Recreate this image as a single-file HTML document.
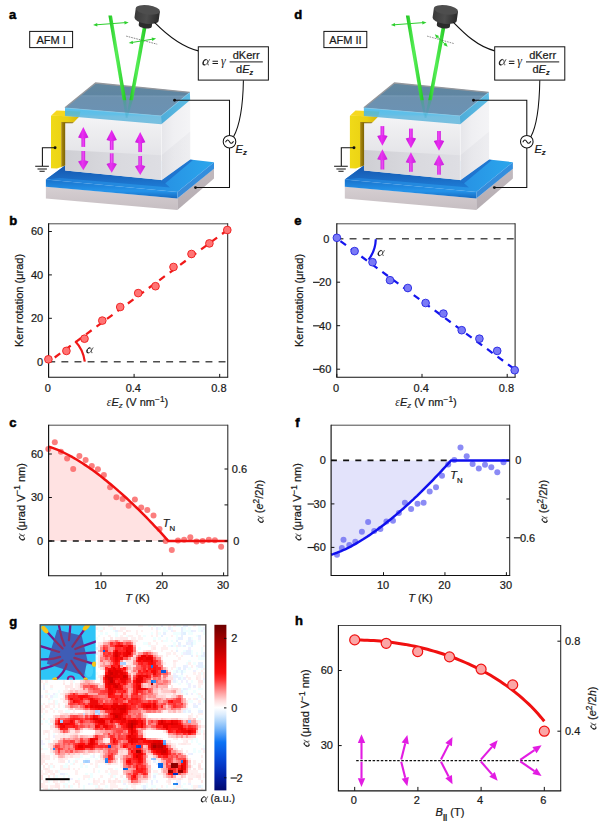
<!DOCTYPE html>
<html><head><meta charset="utf-8"><title>Figure</title>
<style>
html,body{margin:0;padding:0;background:#fff;}
svg{display:block;}
text{stroke:#1a1a1a;stroke-width:0.22px;}
text.pl{stroke:#000;stroke-width:0.5px;}
.gk{stroke:none;}
</style></head>
<body>
<svg width="611" height="827" viewBox="0 0 611 827" font-family='"Liberation Sans", sans-serif'>
<rect width="611" height="827" fill="#fff"/>
<text x="9.3" y="224.9" font-size="13" text-anchor="start" font-weight="bold" font-style="normal" font-family='"Liberation Sans", sans-serif' fill="#000" class="pl">b</text>
<path d="M48.6,361.7H227.7" stroke="#4d4d4d" stroke-width="1.5" stroke-dasharray="6.9 6.2" stroke-dashoffset="0.3" fill="none"/>
<path d="M48.5,362.1L227.4,230.0" stroke="#f01818" stroke-width="2.25" stroke-dasharray="6.9 6.1" stroke-dashoffset="5.3" fill="none"/>
<path d="M75.2,341.3Q83.2,349.5 84.8,361.7" stroke="#f01818" stroke-width="2.2" fill="none"/>
<path d="M48.6,223.8H227.7" fill="none" stroke="#4a4a4a" stroke-width="1"/>
<path d="M227.7,223.3V377.2" fill="none" stroke="#262626" stroke-width="1.05"/>
<path d="M48.6,223.3V377.2H228.2" fill="none" stroke="#111" stroke-width="1.15"/>
<path d="M48.6,361.7h3.3" stroke="#111" stroke-width="1"/>
<path d="M48.6,318.3h3.3" stroke="#111" stroke-width="1"/>
<path d="M48.6,274.9h3.3" stroke="#111" stroke-width="1"/>
<path d="M48.6,231.5h3.3" stroke="#111" stroke-width="1"/>
<path d="M48.5,377.2v-3.3" stroke="#111" stroke-width="1"/>
<path d="M134.10000000000002,377.2v-3.3" stroke="#111" stroke-width="1"/>
<path d="M219.70000000000002,377.2v-3.3" stroke="#111" stroke-width="1"/>
<circle cx="48.4" cy="359.3" r="3.85" fill="#ff7474" stroke="#ee1c1c" stroke-width="0.9"/>
<circle cx="66.4" cy="350.9" r="3.85" fill="#ff7474" stroke="#ee1c1c" stroke-width="0.9"/>
<circle cx="84.5" cy="338.7" r="3.85" fill="#ff7474" stroke="#ee1c1c" stroke-width="0.9"/>
<circle cx="102.3" cy="320.6" r="3.85" fill="#ff7474" stroke="#ee1c1c" stroke-width="0.9"/>
<circle cx="120.2" cy="307" r="3.85" fill="#ff7474" stroke="#ee1c1c" stroke-width="0.9"/>
<circle cx="138.2" cy="293.1" r="3.85" fill="#ff7474" stroke="#ee1c1c" stroke-width="0.9"/>
<circle cx="155.5" cy="286.2" r="3.85" fill="#ff7474" stroke="#ee1c1c" stroke-width="0.9"/>
<circle cx="173.5" cy="267" r="3.85" fill="#ff7474" stroke="#ee1c1c" stroke-width="0.9"/>
<circle cx="191.5" cy="254" r="3.85" fill="#ff7474" stroke="#ee1c1c" stroke-width="0.9"/>
<circle cx="209.4" cy="243.4" r="3.85" fill="#ff7474" stroke="#ee1c1c" stroke-width="0.9"/>
<circle cx="227.3" cy="230" r="3.85" fill="#ff7474" stroke="#ee1c1c" stroke-width="0.9"/>
<text x="43.2" y="365.5" font-size="11" text-anchor="end" font-weight="normal" font-style="normal" font-family='"Liberation Sans", sans-serif' fill="#1a1a1a" >0</text>
<text x="43.2" y="322.1" font-size="11" text-anchor="end" font-weight="normal" font-style="normal" font-family='"Liberation Sans", sans-serif' fill="#1a1a1a" >20</text>
<text x="43.2" y="278.7" font-size="11" text-anchor="end" font-weight="normal" font-style="normal" font-family='"Liberation Sans", sans-serif' fill="#1a1a1a" >40</text>
<text x="43.2" y="235.3" font-size="11" text-anchor="end" font-weight="normal" font-style="normal" font-family='"Liberation Sans", sans-serif' fill="#1a1a1a" >60</text>
<text x="47.7" y="391.5" font-size="11" text-anchor="middle" font-weight="normal" font-style="normal" font-family='"Liberation Sans", sans-serif' fill="#1a1a1a" >0</text>
<text x="133.3" y="391.5" font-size="11" text-anchor="middle" font-weight="normal" font-style="normal" font-family='"Liberation Sans", sans-serif' fill="#1a1a1a" >0.4</text>
<text x="218.9" y="391.5" font-size="11" text-anchor="middle" font-weight="normal" font-style="normal" font-family='"Liberation Sans", sans-serif' fill="#1a1a1a" >0.8</text>
<text transform="translate(23.2,300.5) rotate(-90)" font-size="11" text-anchor="middle" font-family='"Liberation Sans", sans-serif' fill="#1a1a1a" >Kerr rotation (μrad)</text>
<text x="137.5" y="405.8" font-size="11" text-anchor="middle" font-family='"Liberation Sans", sans-serif' fill="#1a1a1a"><tspan font-family='"Liberation Serif", serif' font-style="italic" font-size="11.5" class="gk">ε</tspan><tspan font-style="italic">E</tspan><tspan font-style="italic" font-size="7.8" dy="2.2">z</tspan><tspan dy="-2.2"> (V nm</tspan><tspan font-size="8.3" dy="-4.2">−1</tspan><tspan dy="4.2">)</tspan></text>
<g transform="translate(86.5,352.9) scale(0.94) skewX(-13) translate(-0.55,0)"><path d="M6.25,-5.45 C5.6,-2.6 4.2,0.1 2.45,0.1 C1.0,0.1 0.3,-1.0 0.3,-2.55 C0.3,-4.3 1.35,-5.6 2.8,-5.6 C4.6,-5.6 5.1,-2.7 5.45,-1.0 C5.6,-0.25 5.9,0.1 6.5,-0.15" fill="none" stroke="#1a1a1a" stroke-width="0.66" stroke-linecap="round"/><path d="M0.62,-2.6 C0.62,-4.1 1.5,-5.25 2.7,-5.25" fill="none" stroke="#1a1a1a" stroke-width="0.95" stroke-linecap="round"/><path d="M0.62,-2.6 C0.62,-1.2 1.3,-0.25 2.4,-0.25" fill="none" stroke="#1a1a1a" stroke-width="1.0" stroke-linecap="round"/></g>
<text x="294.3" y="224.9" font-size="13" text-anchor="start" font-weight="bold" font-style="normal" font-family='"Liberation Sans", sans-serif' fill="#000" class="pl">e</text>
<path d="M336.8,238.7H515.1" stroke="#4d4d4d" stroke-width="1.5" stroke-dasharray="6.9 6.2" stroke-dashoffset="0.3" fill="none"/>
<path d="M336.9,238.5L514.7,369.3" stroke="#1515ee" stroke-width="2.25" stroke-dasharray="6.9 6.1" stroke-dashoffset="-4.4" fill="none"/>
<path d="M375.8,239.2Q375.4,250.8 368.6,259.6" stroke="#1515ee" stroke-width="2.2" fill="none"/>
<path d="M336.8,223.8H515.1" fill="none" stroke="#4a4a4a" stroke-width="1"/>
<path d="M515.1,223.3V377.2" fill="none" stroke="#262626" stroke-width="1.05"/>
<path d="M336.8,223.3V377.2H515.6" fill="none" stroke="#111" stroke-width="1.15"/>
<path d="M336.8,238.7h3.3" stroke="#111" stroke-width="1"/>
<path d="M336.8,282.2h3.3" stroke="#111" stroke-width="1"/>
<path d="M336.8,325.7h3.3" stroke="#111" stroke-width="1"/>
<path d="M336.8,369.2h3.3" stroke="#111" stroke-width="1"/>
<path d="M336.8,377.2v-3.3" stroke="#111" stroke-width="1"/>
<path d="M422.0,377.2v-3.3" stroke="#111" stroke-width="1"/>
<path d="M507.20000000000005,377.2v-3.3" stroke="#111" stroke-width="1"/>
<circle cx="336.9" cy="237.8" r="3.85" fill="#7a7af6" stroke="#2626e2" stroke-width="0.9"/>
<circle cx="354.6" cy="251.1" r="3.85" fill="#7a7af6" stroke="#2626e2" stroke-width="0.9"/>
<circle cx="372.5" cy="262.2" r="3.85" fill="#7a7af6" stroke="#2626e2" stroke-width="0.9"/>
<circle cx="390" cy="280.2" r="3.85" fill="#7a7af6" stroke="#2626e2" stroke-width="0.9"/>
<circle cx="407.8" cy="288" r="3.85" fill="#7a7af6" stroke="#2626e2" stroke-width="0.9"/>
<circle cx="425.6" cy="303" r="3.85" fill="#7a7af6" stroke="#2626e2" stroke-width="0.9"/>
<circle cx="443.4" cy="313.6" r="3.85" fill="#7a7af6" stroke="#2626e2" stroke-width="0.9"/>
<circle cx="461.7" cy="330.2" r="3.85" fill="#7a7af6" stroke="#2626e2" stroke-width="0.9"/>
<circle cx="479.4" cy="338.7" r="3.85" fill="#7a7af6" stroke="#2626e2" stroke-width="0.9"/>
<circle cx="497.2" cy="350.9" r="3.85" fill="#7a7af6" stroke="#2626e2" stroke-width="0.9"/>
<circle cx="514.7" cy="370.2" r="3.85" fill="#7a7af6" stroke="#2626e2" stroke-width="0.9"/>
<text x="329.3" y="242.5" font-size="11" text-anchor="end" font-weight="normal" font-style="normal" font-family='"Liberation Sans", sans-serif' fill="#1a1a1a" >0</text>
<text x="331.3" y="286.0" font-size="11" text-anchor="end" font-weight="normal" font-style="normal" font-family='"Liberation Sans", sans-serif' fill="#1a1a1a" >20</text>
<rect x="313.06" y="281.75" width="6.7" height="1.15" fill="#1a1a1a"/>
<text x="331.3" y="329.5" font-size="11" text-anchor="end" font-weight="normal" font-style="normal" font-family='"Liberation Sans", sans-serif' fill="#1a1a1a" >40</text>
<rect x="313.06" y="325.25" width="6.7" height="1.15" fill="#1a1a1a"/>
<text x="331.3" y="373.0" font-size="11" text-anchor="end" font-weight="normal" font-style="normal" font-family='"Liberation Sans", sans-serif' fill="#1a1a1a" >60</text>
<rect x="313.06" y="368.75" width="6.7" height="1.15" fill="#1a1a1a"/>
<text x="336.0" y="391.5" font-size="11" text-anchor="middle" font-weight="normal" font-style="normal" font-family='"Liberation Sans", sans-serif' fill="#1a1a1a" >0</text>
<text x="421.2" y="391.5" font-size="11" text-anchor="middle" font-weight="normal" font-style="normal" font-family='"Liberation Sans", sans-serif' fill="#1a1a1a" >0.4</text>
<text x="506.40000000000003" y="391.5" font-size="11" text-anchor="middle" font-weight="normal" font-style="normal" font-family='"Liberation Sans", sans-serif' fill="#1a1a1a" >0.8</text>
<text transform="translate(303.2,300.5) rotate(-90)" font-size="11" text-anchor="middle" font-family='"Liberation Sans", sans-serif' fill="#1a1a1a" >Kerr rotation (μrad)</text>
<text x="426" y="405.8" font-size="11" text-anchor="middle" font-family='"Liberation Sans", sans-serif' fill="#1a1a1a"><tspan font-family='"Liberation Serif", serif' font-style="italic" font-size="11.5" class="gk">ε</tspan><tspan font-style="italic">E</tspan><tspan font-style="italic" font-size="7.8" dy="2.2">z</tspan><tspan dy="-2.2"> (V nm</tspan><tspan font-size="8.3" dy="-4.2">−1</tspan><tspan dy="4.2">)</tspan></text>
<g transform="translate(377.8,255.6) scale(0.94) skewX(-13) translate(-0.55,0)"><path d="M6.25,-5.45 C5.6,-2.6 4.2,0.1 2.45,0.1 C1.0,0.1 0.3,-1.0 0.3,-2.55 C0.3,-4.3 1.35,-5.6 2.8,-5.6 C4.6,-5.6 5.1,-2.7 5.45,-1.0 C5.6,-0.25 5.9,0.1 6.5,-0.15" fill="none" stroke="#1a1a1a" stroke-width="0.66" stroke-linecap="round"/><path d="M0.62,-2.6 C0.62,-4.1 1.5,-5.25 2.7,-5.25" fill="none" stroke="#1a1a1a" stroke-width="0.95" stroke-linecap="round"/><path d="M0.62,-2.6 C0.62,-1.2 1.3,-0.25 2.4,-0.25" fill="none" stroke="#1a1a1a" stroke-width="1.0" stroke-linecap="round"/></g>
<text x="9.3" y="426.9" font-size="13" text-anchor="start" font-weight="bold" font-style="normal" font-family='"Liberation Sans", sans-serif' fill="#000" class="pl">c</text>
<path d="M48.6,541.0L48.5,446.6 50.5,447.2 52.5,447.9 54.5,448.6 56.5,449.4 58.5,450.2 60.5,451.1 62.5,452.0 64.5,453.0 66.5,454.0 68.5,455.0 70.5,456.1 72.5,457.2 74.5,458.4 76.5,459.5 78.5,460.7 80.5,462.0 82.5,463.3 84.5,464.6 86.5,465.9 88.5,467.3 90.5,468.7 92.5,470.1 94.5,471.5 96.5,473.0 98.5,474.5 100.5,476.0 102.4,477.6 104.4,479.2 106.4,480.8 108.4,482.4 110.4,484.0 112.4,485.7 114.4,487.4 116.4,489.1 118.4,490.9 120.4,492.6 122.4,494.4 124.4,496.2 126.4,498.0 128.4,499.9 130.4,501.8 132.4,503.7 134.4,505.6 136.4,507.5 138.4,509.4 140.4,511.4 142.4,513.4 144.4,515.4 146.4,517.4 148.4,519.5 150.4,521.6 152.4,523.7 154.4,525.8 156.4,527.9 158.4,530.0 160.4,532.2 162.4,534.4 164.4,536.6 166.4,538.8 168.4,541.0Z" fill="#ffe2e2"/>
<path d="M48.6,541.0H167.43" stroke="#111" stroke-width="1.6" stroke-dasharray="6.0 6.2" stroke-dashoffset="0.2" fill="none"/>
<circle cx="48.3" cy="449.1" r="3" fill="#fa5a5a" fill-opacity="0.78"/>
<circle cx="54.8" cy="442.2" r="3" fill="#fa5a5a" fill-opacity="0.78"/>
<circle cx="60.9" cy="451.7" r="3" fill="#fa5a5a" fill-opacity="0.78"/>
<circle cx="67.1" cy="458.6" r="3" fill="#fa5a5a" fill-opacity="0.78"/>
<circle cx="73.2" cy="468.9" r="3" fill="#fa5a5a" fill-opacity="0.78"/>
<circle cx="79.4" cy="456.1" r="3" fill="#fa5a5a" fill-opacity="0.78"/>
<circle cx="85.6" cy="459.9" r="3" fill="#fa5a5a" fill-opacity="0.78"/>
<circle cx="91.8" cy="465.9" r="3" fill="#fa5a5a" fill-opacity="0.78"/>
<circle cx="97.9" cy="469.2" r="3" fill="#fa5a5a" fill-opacity="0.78"/>
<circle cx="103.9" cy="474.9" r="3" fill="#fa5a5a" fill-opacity="0.78"/>
<circle cx="110.1" cy="487.2" r="3" fill="#fa5a5a" fill-opacity="0.78"/>
<circle cx="116.4" cy="497.2" r="3" fill="#fa5a5a" fill-opacity="0.78"/>
<circle cx="122.6" cy="499.1" r="3" fill="#fa5a5a" fill-opacity="0.78"/>
<circle cx="128.6" cy="505.7" r="3" fill="#fa5a5a" fill-opacity="0.78"/>
<circle cx="134.9" cy="499.5" r="3" fill="#fa5a5a" fill-opacity="0.78"/>
<circle cx="141.2" cy="507.5" r="3" fill="#fa5a5a" fill-opacity="0.78"/>
<circle cx="147.3" cy="510" r="3" fill="#fa5a5a" fill-opacity="0.78"/>
<circle cx="153.5" cy="515.5" r="3" fill="#fa5a5a" fill-opacity="0.78"/>
<circle cx="159.5" cy="529.1" r="3" fill="#fa5a5a" fill-opacity="0.78"/>
<circle cx="165.6" cy="541" r="3" fill="#fa5a5a" fill-opacity="0.78"/>
<circle cx="171.8" cy="549.9" r="3" fill="#fa5a5a" fill-opacity="0.78"/>
<circle cx="178" cy="540.6" r="3" fill="#fa5a5a" fill-opacity="0.78"/>
<circle cx="184.1" cy="539.7" r="3" fill="#fa5a5a" fill-opacity="0.78"/>
<circle cx="190.3" cy="537.3" r="3" fill="#fa5a5a" fill-opacity="0.78"/>
<circle cx="196.5" cy="541.4" r="3" fill="#fa5a5a" fill-opacity="0.78"/>
<circle cx="202.6" cy="540.9" r="3" fill="#fa5a5a" fill-opacity="0.78"/>
<circle cx="208.8" cy="539.7" r="3" fill="#fa5a5a" fill-opacity="0.78"/>
<circle cx="214.9" cy="540.2" r="3" fill="#fa5a5a" fill-opacity="0.78"/>
<circle cx="221.1" cy="546.8" r="3" fill="#fa5a5a" fill-opacity="0.78"/>
<path d="M48.5,446.6 50.5,447.2 52.5,447.9 54.5,448.6 56.5,449.4 58.5,450.2 60.5,451.1 62.5,452.0 64.5,453.0 66.5,454.0 68.5,455.0 70.5,456.1 72.5,457.2 74.5,458.4 76.5,459.5 78.5,460.7 80.5,462.0 82.5,463.3 84.5,464.6 86.5,465.9 88.5,467.3 90.5,468.7 92.5,470.1 94.5,471.5 96.5,473.0 98.5,474.5 100.5,476.0 102.4,477.6 104.4,479.2 106.4,480.8 108.4,482.4 110.4,484.0 112.4,485.7 114.4,487.4 116.4,489.1 118.4,490.9 120.4,492.6 122.4,494.4 124.4,496.2 126.4,498.0 128.4,499.9 130.4,501.8 132.4,503.7 134.4,505.6 136.4,507.5 138.4,509.4 140.4,511.4 142.4,513.4 144.4,515.4 146.4,517.4 148.4,519.5 150.4,521.6 152.4,523.7 154.4,525.8 156.4,527.9 158.4,530.0 160.4,532.2 162.4,534.4 164.4,536.6 166.4,538.8 168.4,541.0 L227.8,541.0" fill="none" stroke="#f01010" stroke-width="2.5" stroke-linejoin="round"/>
<path d="M48.6,425.2H227.8" fill="none" stroke="#4a4a4a" stroke-width="1"/>
<path d="M227.8,424.7V575.7" fill="none" stroke="#262626" stroke-width="1.05"/>
<path d="M48.6,424.7V575.7H228.3" fill="none" stroke="#111" stroke-width="1.15"/>
<path d="M48.6,541.0h3.3" stroke="#111" stroke-width="1"/>
<path d="M48.6,497.5h3.3" stroke="#111" stroke-width="1"/>
<path d="M48.6,454.0h3.3" stroke="#111" stroke-width="1"/>
<path d="M227.8,469h-3.3" stroke="#111" stroke-width="1"/>
<path d="M227.8,504.9h-3.3" stroke="#111" stroke-width="1"/>
<path d="M227.8,541h-3.3" stroke="#111" stroke-width="1"/>
<path d="M101.0,575.7v-3.3" stroke="#111" stroke-width="1"/>
<path d="M162.3,575.7v-3.3" stroke="#111" stroke-width="1"/>
<path d="M223.6,575.7v-3.3" stroke="#111" stroke-width="1"/>
<text x="43.2" y="544.8" font-size="11" text-anchor="end" font-weight="normal" font-style="normal" font-family='"Liberation Sans", sans-serif' fill="#1a1a1a" >0</text>
<text x="43.2" y="501.3" font-size="11" text-anchor="end" font-weight="normal" font-style="normal" font-family='"Liberation Sans", sans-serif' fill="#1a1a1a" >30</text>
<text x="43.2" y="457.8" font-size="11" text-anchor="end" font-weight="normal" font-style="normal" font-family='"Liberation Sans", sans-serif' fill="#1a1a1a" >60</text>
<text x="100.5" y="589.3" font-size="11" text-anchor="middle" font-weight="normal" font-style="normal" font-family='"Liberation Sans", sans-serif' fill="#1a1a1a" >10</text>
<text x="161.8" y="589.3" font-size="11" text-anchor="middle" font-weight="normal" font-style="normal" font-family='"Liberation Sans", sans-serif' fill="#1a1a1a" >20</text>
<text x="223.1" y="589.3" font-size="11" text-anchor="middle" font-weight="normal" font-style="normal" font-family='"Liberation Sans", sans-serif' fill="#1a1a1a" >30</text>
<text x="231.8" y="472.8" font-size="11" text-anchor="start" font-weight="normal" font-style="normal" font-family='"Liberation Sans", sans-serif' fill="#1a1a1a" >0.6</text>
<text x="233.2" y="544.8" font-size="11" text-anchor="start" font-weight="normal" font-style="normal" font-family='"Liberation Sans", sans-serif' fill="#1a1a1a" >0</text>
<g transform="translate(24.5,501.7) rotate(-90)"><g transform="translate(-38.629070312500005,0) scale(0.94) skewX(-13) translate(-0.55,0)"><path d="M6.25,-5.45 C5.6,-2.6 4.2,0.1 2.45,0.1 C1.0,0.1 0.3,-1.0 0.3,-2.55 C0.3,-4.3 1.35,-5.6 2.8,-5.6 C4.6,-5.6 5.1,-2.7 5.45,-1.0 C5.6,-0.25 5.9,0.1 6.5,-0.15" fill="none" stroke="#1a1a1a" stroke-width="0.66" stroke-linecap="round"/><path d="M0.62,-2.6 C0.62,-4.1 1.5,-5.25 2.7,-5.25" fill="none" stroke="#1a1a1a" stroke-width="0.95" stroke-linecap="round"/><path d="M0.62,-2.6 C0.62,-1.2 1.3,-0.25 2.4,-0.25" fill="none" stroke="#1a1a1a" stroke-width="1.0" stroke-linecap="round"/></g><text x="-29.13" y="0" font-size="11" font-family='"Liberation Sans", sans-serif' fill="#1a1a1a">(μrad V<tspan font-size="8.3" dy="-4.3">−1</tspan><tspan dy="4.3"> nm)</tspan></text></g>
<g transform="translate(263.3,501.3) rotate(-90)"><g transform="translate(-21.42643359375,0) scale(0.94) skewX(-13) translate(-0.55,0)"><path d="M6.25,-5.45 C5.6,-2.6 4.2,0.1 2.45,0.1 C1.0,0.1 0.3,-1.0 0.3,-2.55 C0.3,-4.3 1.35,-5.6 2.8,-5.6 C4.6,-5.6 5.1,-2.7 5.45,-1.0 C5.6,-0.25 5.9,0.1 6.5,-0.15" fill="none" stroke="#1a1a1a" stroke-width="0.66" stroke-linecap="round"/><path d="M0.62,-2.6 C0.62,-4.1 1.5,-5.25 2.7,-5.25" fill="none" stroke="#1a1a1a" stroke-width="0.95" stroke-linecap="round"/><path d="M0.62,-2.6 C0.62,-1.2 1.3,-0.25 2.4,-0.25" fill="none" stroke="#1a1a1a" stroke-width="1.0" stroke-linecap="round"/></g><text x="-11.93" y="0" font-size="11" font-family='"Liberation Sans", sans-serif' fill="#1a1a1a">(<tspan font-style="italic">e</tspan><tspan font-size="8.3" dy="-4.3">2</tspan><tspan dy="4.3">/2</tspan><tspan font-style="italic">h</tspan>)</text></g>
<text x="162.8" y="527.3" font-size="11" font-family='"Liberation Sans", sans-serif' fill="#1a1a1a"><tspan font-style="italic">T</tspan><tspan font-size="7.8" dy="3.6">N</tspan></text>
<text x="137.5" y="602.2" font-size="11" text-anchor="middle" font-family='"Liberation Sans", sans-serif' fill="#1a1a1a"><tspan font-style="italic">T</tspan> (K)</text>
<text x="295.3" y="426.9" font-size="13" text-anchor="start" font-weight="bold" font-style="normal" font-family='"Liberation Sans", sans-serif' fill="#000" class="pl">f</text>
<path d="M331.1,460.4L331.1,554.7 333.1,554.1 335.1,553.4 337.1,552.7 339.1,551.9 341.1,551.1 343.1,550.2 345.1,549.3 347.1,548.3 349.1,547.3 351.1,546.3 353.1,545.2 355.1,544.1 357.1,542.9 359.1,541.7 361.1,540.5 363.1,539.3 365.1,538.0 367.1,536.7 369.1,535.4 371.1,534.0 373.1,532.6 375.1,531.2 377.1,529.8 379.1,528.3 381.1,526.8 383.1,525.3 385.1,523.7 387.1,522.1 389.1,520.5 391.1,518.9 393.1,517.3 395.1,515.6 397.1,513.9 399.1,512.2 401.1,510.4 403.1,508.7 405.1,506.9 407.1,505.1 409.1,503.3 411.1,501.4 413.1,499.6 415.1,497.7 417.1,495.8 419.1,493.8 421.1,491.9 423.1,489.9 425.1,487.9 427.1,485.9 429.1,483.9 431.1,481.9 433.1,479.8 435.1,477.7 437.1,475.6 439.1,473.5 441.1,471.4 443.1,469.2 445.1,467.0 447.1,464.8 449.1,462.6 451.1,460.4Z" fill="#e3e3fb"/>
<path d="M331.1,460.4H450.095" stroke="#111" stroke-width="1.6" stroke-dasharray="6.0 6.2" stroke-dashoffset="0.2" fill="none"/>
<circle cx="337" cy="554.7" r="3" fill="#6a6af2" fill-opacity="0.78"/>
<circle cx="341.9" cy="547.9" r="3" fill="#6a6af2" fill-opacity="0.78"/>
<circle cx="343.5" cy="539.7" r="3" fill="#6a6af2" fill-opacity="0.78"/>
<circle cx="349.3" cy="544.9" r="3" fill="#6a6af2" fill-opacity="0.78"/>
<circle cx="355.3" cy="541.7" r="3" fill="#6a6af2" fill-opacity="0.78"/>
<circle cx="361.9" cy="531.8" r="3" fill="#6a6af2" fill-opacity="0.78"/>
<circle cx="368.1" cy="522" r="3" fill="#6a6af2" fill-opacity="0.78"/>
<circle cx="374.2" cy="531" r="3" fill="#6a6af2" fill-opacity="0.78"/>
<circle cx="380.4" cy="528.9" r="3" fill="#6a6af2" fill-opacity="0.78"/>
<circle cx="386.4" cy="521.5" r="3" fill="#6a6af2" fill-opacity="0.78"/>
<circle cx="393" cy="520.7" r="3" fill="#6a6af2" fill-opacity="0.78"/>
<circle cx="398.9" cy="513" r="3" fill="#6a6af2" fill-opacity="0.78"/>
<circle cx="404.9" cy="502.7" r="3" fill="#6a6af2" fill-opacity="0.78"/>
<circle cx="411.1" cy="508.9" r="3" fill="#6a6af2" fill-opacity="0.78"/>
<circle cx="417.5" cy="503.8" r="3" fill="#6a6af2" fill-opacity="0.78"/>
<circle cx="423.6" cy="502.8" r="3" fill="#6a6af2" fill-opacity="0.78"/>
<circle cx="429.7" cy="491.4" r="3" fill="#6a6af2" fill-opacity="0.78"/>
<circle cx="436" cy="487.3" r="3" fill="#6a6af2" fill-opacity="0.78"/>
<circle cx="442" cy="475.8" r="3" fill="#6a6af2" fill-opacity="0.78"/>
<circle cx="448.2" cy="464.4" r="3" fill="#6a6af2" fill-opacity="0.78"/>
<circle cx="454.3" cy="460" r="3" fill="#6a6af2" fill-opacity="0.78"/>
<circle cx="460.5" cy="447.5" r="3" fill="#6a6af2" fill-opacity="0.78"/>
<circle cx="466.7" cy="456.2" r="3" fill="#6a6af2" fill-opacity="0.78"/>
<circle cx="472.6" cy="464" r="3" fill="#6a6af2" fill-opacity="0.78"/>
<circle cx="478.8" cy="468.5" r="3" fill="#6a6af2" fill-opacity="0.78"/>
<circle cx="485" cy="464.7" r="3" fill="#6a6af2" fill-opacity="0.78"/>
<circle cx="491.3" cy="467.3" r="3" fill="#6a6af2" fill-opacity="0.78"/>
<circle cx="497.3" cy="472.2" r="3" fill="#6a6af2" fill-opacity="0.78"/>
<circle cx="503.5" cy="462.2" r="3" fill="#6a6af2" fill-opacity="0.78"/>
<path d="M331.1,554.7 333.1,554.1 335.1,553.4 337.1,552.7 339.1,551.9 341.1,551.1 343.1,550.2 345.1,549.3 347.1,548.3 349.1,547.3 351.1,546.3 353.1,545.2 355.1,544.1 357.1,542.9 359.1,541.7 361.1,540.5 363.1,539.3 365.1,538.0 367.1,536.7 369.1,535.4 371.1,534.0 373.1,532.6 375.1,531.2 377.1,529.8 379.1,528.3 381.1,526.8 383.1,525.3 385.1,523.7 387.1,522.1 389.1,520.5 391.1,518.9 393.1,517.3 395.1,515.6 397.1,513.9 399.1,512.2 401.1,510.4 403.1,508.7 405.1,506.9 407.1,505.1 409.1,503.3 411.1,501.4 413.1,499.6 415.1,497.7 417.1,495.8 419.1,493.8 421.1,491.9 423.1,489.9 425.1,487.9 427.1,485.9 429.1,483.9 431.1,481.9 433.1,479.8 435.1,477.7 437.1,475.6 439.1,473.5 441.1,471.4 443.1,469.2 445.1,467.0 447.1,464.8 449.1,462.6 451.1,460.4 L509.7,460.4" fill="none" stroke="#1010ee" stroke-width="2.5" stroke-linejoin="round"/>
<path d="M331.1,425.2H509.7" fill="none" stroke="#4a4a4a" stroke-width="1"/>
<path d="M509.7,424.7V575.5" fill="none" stroke="#262626" stroke-width="1.05"/>
<path d="M331.1,424.7V575.5H510.2" fill="none" stroke="#111" stroke-width="1.15"/>
<path d="M331.1,460.4h3.3" stroke="#111" stroke-width="1"/>
<path d="M331.1,503.9h3.3" stroke="#111" stroke-width="1"/>
<path d="M331.1,547.4h3.3" stroke="#111" stroke-width="1"/>
<path d="M509.7,460.3h-3.3" stroke="#111" stroke-width="1"/>
<path d="M509.7,499h-3.3" stroke="#111" stroke-width="1"/>
<path d="M509.7,537.7h-3.3" stroke="#111" stroke-width="1"/>
<path d="M383.5,575.5v-3.3" stroke="#111" stroke-width="1"/>
<path d="M444.95,575.5v-3.3" stroke="#111" stroke-width="1"/>
<path d="M506.4,575.5v-3.3" stroke="#111" stroke-width="1"/>
<text x="325.8" y="464.2" font-size="11" text-anchor="end" font-weight="normal" font-style="normal" font-family='"Liberation Sans", sans-serif' fill="#1a1a1a" >0</text>
<text x="325.8" y="507.7" font-size="11" text-anchor="end" font-weight="normal" font-style="normal" font-family='"Liberation Sans", sans-serif' fill="#1a1a1a" >30</text>
<rect x="307.56" y="503.45" width="6.7" height="1.15" fill="#1a1a1a"/>
<text x="325.8" y="551.1999999999999" font-size="11" text-anchor="end" font-weight="normal" font-style="normal" font-family='"Liberation Sans", sans-serif' fill="#1a1a1a" >60</text>
<rect x="307.56" y="546.95" width="6.7" height="1.15" fill="#1a1a1a"/>
<text x="383.0" y="589.3" font-size="11" text-anchor="middle" font-weight="normal" font-style="normal" font-family='"Liberation Sans", sans-serif' fill="#1a1a1a" >10</text>
<text x="444.45" y="589.3" font-size="11" text-anchor="middle" font-weight="normal" font-style="normal" font-family='"Liberation Sans", sans-serif' fill="#1a1a1a" >20</text>
<text x="505.9" y="589.3" font-size="11" text-anchor="middle" font-weight="normal" font-style="normal" font-family='"Liberation Sans", sans-serif' fill="#1a1a1a" >30</text>
<text x="515.2" y="464.2" font-size="11" text-anchor="start" font-weight="normal" font-style="normal" font-family='"Liberation Sans", sans-serif' fill="#1a1a1a" >0</text>
<rect x="513.90" y="537.25" width="6.7" height="1.15" fill="#1a1a1a"/>
<text x="519.9" y="541.5" font-size="11" text-anchor="start" font-weight="normal" font-style="normal" font-family='"Liberation Sans", sans-serif' fill="#1a1a1a" >0.6</text>
<g transform="translate(301.0,501.7) rotate(-90)"><g transform="translate(-38.629070312500005,0) scale(0.94) skewX(-13) translate(-0.55,0)"><path d="M6.25,-5.45 C5.6,-2.6 4.2,0.1 2.45,0.1 C1.0,0.1 0.3,-1.0 0.3,-2.55 C0.3,-4.3 1.35,-5.6 2.8,-5.6 C4.6,-5.6 5.1,-2.7 5.45,-1.0 C5.6,-0.25 5.9,0.1 6.5,-0.15" fill="none" stroke="#1a1a1a" stroke-width="0.66" stroke-linecap="round"/><path d="M0.62,-2.6 C0.62,-4.1 1.5,-5.25 2.7,-5.25" fill="none" stroke="#1a1a1a" stroke-width="0.95" stroke-linecap="round"/><path d="M0.62,-2.6 C0.62,-1.2 1.3,-0.25 2.4,-0.25" fill="none" stroke="#1a1a1a" stroke-width="1.0" stroke-linecap="round"/></g><text x="-29.13" y="0" font-size="11" font-family='"Liberation Sans", sans-serif' fill="#1a1a1a">(μrad V<tspan font-size="8.3" dy="-4.3">−1</tspan><tspan dy="4.3"> nm)</tspan></text></g>
<g transform="translate(547.2,501.3) rotate(-90)"><g transform="translate(-21.42643359375,0) scale(0.94) skewX(-13) translate(-0.55,0)"><path d="M6.25,-5.45 C5.6,-2.6 4.2,0.1 2.45,0.1 C1.0,0.1 0.3,-1.0 0.3,-2.55 C0.3,-4.3 1.35,-5.6 2.8,-5.6 C4.6,-5.6 5.1,-2.7 5.45,-1.0 C5.6,-0.25 5.9,0.1 6.5,-0.15" fill="none" stroke="#1a1a1a" stroke-width="0.66" stroke-linecap="round"/><path d="M0.62,-2.6 C0.62,-4.1 1.5,-5.25 2.7,-5.25" fill="none" stroke="#1a1a1a" stroke-width="0.95" stroke-linecap="round"/><path d="M0.62,-2.6 C0.62,-1.2 1.3,-0.25 2.4,-0.25" fill="none" stroke="#1a1a1a" stroke-width="1.0" stroke-linecap="round"/></g><text x="-11.93" y="0" font-size="11" font-family='"Liberation Sans", sans-serif' fill="#1a1a1a">(<tspan font-style="italic">e</tspan><tspan font-size="8.3" dy="-4.3">2</tspan><tspan dy="4.3">/2</tspan><tspan font-style="italic">h</tspan>)</text></g>
<text x="450.3" y="479" font-size="11" font-family='"Liberation Sans", sans-serif' fill="#1a1a1a"><tspan font-style="italic">T</tspan><tspan font-size="7.8" dy="3.6">N</tspan></text>
<text x="420.5" y="602.2" font-size="11" text-anchor="middle" font-family='"Liberation Sans", sans-serif' fill="#1a1a1a"><tspan font-style="italic">T</tspan> (K)</text>
<text x="295.1" y="624.9" font-size="13" text-anchor="start" font-weight="bold" font-style="normal" font-family='"Liberation Sans", sans-serif' fill="#000" class="pl">h</text>
<path d="M354.7,640.0 357.9,640.0 361.0,640.1 364.2,640.2 367.3,640.3 370.5,640.4 373.7,640.6 376.8,640.8 380.0,641.1 383.1,641.4 386.3,641.7 389.5,642.1 392.6,642.5 395.8,642.9 398.9,643.4 402.1,643.9 405.3,644.4 408.4,645.0 411.6,645.6 414.7,646.3 417.9,647.0 421.1,647.7 424.2,648.5 427.4,649.3 430.5,650.2 433.7,651.1 436.9,652.0 440.0,653.0 443.2,654.0 446.3,655.1 449.5,656.2 452.7,657.3 455.8,658.5 459.0,659.8 462.1,661.1 465.3,662.5 468.5,663.9 471.6,665.3 474.8,666.8 477.9,668.4 481.1,670.1 484.3,671.8 487.4,673.5 490.6,675.3 493.7,677.2 496.9,679.2 500.1,681.3 503.2,683.4 506.4,685.6 509.5,687.9 512.7,690.3 515.9,692.8 519.0,695.4 522.2,698.1 525.3,701.0 528.5,703.9 531.7,707.0 534.8,710.3 538.0,713.8 541.1,717.4 544.3,721.3" fill="none" stroke="#f01010" stroke-width="3.0" stroke-linecap="butt"/>
<circle cx="354.7" cy="639.9" r="5.0" fill="#fba6a6" stroke="#f01010" stroke-width="1.2"/>
<circle cx="386.2" cy="643.3" r="5.0" fill="#fba6a6" stroke="#f01010" stroke-width="1.2"/>
<circle cx="417.7" cy="651.6" r="5.0" fill="#fba6a6" stroke="#f01010" stroke-width="1.2"/>
<circle cx="449.5" cy="656.9" r="5.0" fill="#fba6a6" stroke="#f01010" stroke-width="1.2"/>
<circle cx="481.1" cy="669.2" r="5.0" fill="#fba6a6" stroke="#f01010" stroke-width="1.2"/>
<circle cx="512.7" cy="684.9" r="5.0" fill="#fba6a6" stroke="#f01010" stroke-width="1.2"/>
<circle cx="544.3" cy="731.2" r="5.0" fill="#fba6a6" stroke="#f01010" stroke-width="1.2"/>
<path d="M356.2,760.6H540.5" stroke="#111" stroke-width="1.4" stroke-dasharray="2.5 1.6" fill="none"/>
<path d="M361.50,759.40L361.50,742.90" stroke="#e21ce2" stroke-width="2.1" fill="none"/>
<path d="M361.50,734.30L365.20,742.90L357.80,742.90Z" fill="#e21ce2"/>
<path d="M361.50,761.80L361.50,778.30" stroke="#e21ce2" stroke-width="2.1" fill="none"/>
<path d="M361.50,786.90L357.80,778.30L365.20,778.30Z" fill="#e21ce2"/>
<path d="M401.20,759.43L405.24,743.37" stroke="#e21ce2" stroke-width="2.1" fill="none"/>
<path d="M407.34,735.03L408.83,744.27L401.65,742.46Z" fill="#e21ce2"/>
<path d="M401.20,761.77L405.24,777.83" stroke="#e21ce2" stroke-width="2.1" fill="none"/>
<path d="M407.34,786.17L401.65,778.74L408.83,776.93Z" fill="#e21ce2"/>
<path d="M441.00,759.52L448.62,744.62" stroke="#e21ce2" stroke-width="2.1" fill="none"/>
<path d="M452.53,736.96L451.91,746.30L445.32,742.94Z" fill="#e21ce2"/>
<path d="M441.00,761.68L448.62,776.58" stroke="#e21ce2" stroke-width="2.1" fill="none"/>
<path d="M452.53,784.24L445.32,778.26L451.91,774.90Z" fill="#e21ce2"/>
<path d="M480.90,759.68L492.03,746.83" stroke="#e21ce2" stroke-width="2.1" fill="none"/>
<path d="M497.66,740.34L494.83,749.26L489.24,744.41Z" fill="#e21ce2"/>
<path d="M480.90,761.52L492.03,774.37" stroke="#e21ce2" stroke-width="2.1" fill="none"/>
<path d="M497.66,780.86L489.24,776.79L494.83,771.94Z" fill="#e21ce2"/>
<path d="M520.20,759.90L534.48,750.14" stroke="#e21ce2" stroke-width="2.1" fill="none"/>
<path d="M541.58,745.29L536.57,753.20L532.40,747.09Z" fill="#e21ce2"/>
<path d="M520.20,761.30L534.48,771.06" stroke="#e21ce2" stroke-width="2.1" fill="none"/>
<path d="M541.58,775.91L532.40,774.11L536.57,768.00Z" fill="#e21ce2"/>
<path d="M338.4,625.5H560.7" fill="none" stroke="#4a4a4a" stroke-width="1"/>
<path d="M560.7,625.0V790.9" fill="none" stroke="#262626" stroke-width="1.05"/>
<path d="M338.4,625.0V790.9H561.2" fill="none" stroke="#111" stroke-width="1.15"/>
<path d="M338.4,670.5h3.3" stroke="#111" stroke-width="1"/>
<path d="M338.4,745.59h3.3" stroke="#111" stroke-width="1"/>
<path d="M560.7,641.2h-3.3" stroke="#111" stroke-width="1"/>
<path d="M560.7,731.2h-3.3" stroke="#111" stroke-width="1"/>
<path d="M354.7,790.9v-4" stroke="#111" stroke-width="1"/>
<path d="M417.9,790.9v-4" stroke="#111" stroke-width="1"/>
<path d="M481.1,790.9v-4" stroke="#111" stroke-width="1"/>
<path d="M544.3,790.9v-4" stroke="#111" stroke-width="1"/>
<text x="333" y="674.3" font-size="11" text-anchor="end" font-weight="normal" font-style="normal" font-family='"Liberation Sans", sans-serif' fill="#1a1a1a" >60</text>
<text x="333" y="749.39" font-size="11" text-anchor="end" font-weight="normal" font-style="normal" font-family='"Liberation Sans", sans-serif' fill="#1a1a1a" >30</text>
<text x="353.7" y="803.9" font-size="11" text-anchor="middle" font-weight="normal" font-style="normal" font-family='"Liberation Sans", sans-serif' fill="#1a1a1a" >0</text>
<text x="416.9" y="803.9" font-size="11" text-anchor="middle" font-weight="normal" font-style="normal" font-family='"Liberation Sans", sans-serif' fill="#1a1a1a" >2</text>
<text x="480.1" y="803.9" font-size="11" text-anchor="middle" font-weight="normal" font-style="normal" font-family='"Liberation Sans", sans-serif' fill="#1a1a1a" >4</text>
<text x="543.3" y="803.9" font-size="11" text-anchor="middle" font-weight="normal" font-style="normal" font-family='"Liberation Sans", sans-serif' fill="#1a1a1a" >6</text>
<text x="565" y="645" font-size="11" text-anchor="start" font-weight="normal" font-style="normal" font-family='"Liberation Sans", sans-serif' fill="#1a1a1a" >0.8</text>
<text x="565" y="735" font-size="11" text-anchor="start" font-weight="normal" font-style="normal" font-family='"Liberation Sans", sans-serif' fill="#1a1a1a" >0.4</text>
<g transform="translate(309.2,708) rotate(-90)"><g transform="translate(-38.629070312500005,0) scale(0.94) skewX(-13) translate(-0.55,0)"><path d="M6.25,-5.45 C5.6,-2.6 4.2,0.1 2.45,0.1 C1.0,0.1 0.3,-1.0 0.3,-2.55 C0.3,-4.3 1.35,-5.6 2.8,-5.6 C4.6,-5.6 5.1,-2.7 5.45,-1.0 C5.6,-0.25 5.9,0.1 6.5,-0.15" fill="none" stroke="#1a1a1a" stroke-width="0.66" stroke-linecap="round"/><path d="M0.62,-2.6 C0.62,-4.1 1.5,-5.25 2.7,-5.25" fill="none" stroke="#1a1a1a" stroke-width="0.95" stroke-linecap="round"/><path d="M0.62,-2.6 C0.62,-1.2 1.3,-0.25 2.4,-0.25" fill="none" stroke="#1a1a1a" stroke-width="1.0" stroke-linecap="round"/></g><text x="-29.13" y="0" font-size="11" font-family='"Liberation Sans", sans-serif' fill="#1a1a1a">(μrad V<tspan font-size="8.3" dy="-4.3">−1</tspan><tspan dy="4.3"> nm)</tspan></text></g>
<g transform="translate(596,708) rotate(-90)"><g transform="translate(-21.42643359375,0) scale(0.94) skewX(-13) translate(-0.55,0)"><path d="M6.25,-5.45 C5.6,-2.6 4.2,0.1 2.45,0.1 C1.0,0.1 0.3,-1.0 0.3,-2.55 C0.3,-4.3 1.35,-5.6 2.8,-5.6 C4.6,-5.6 5.1,-2.7 5.45,-1.0 C5.6,-0.25 5.9,0.1 6.5,-0.15" fill="none" stroke="#1a1a1a" stroke-width="0.66" stroke-linecap="round"/><path d="M0.62,-2.6 C0.62,-4.1 1.5,-5.25 2.7,-5.25" fill="none" stroke="#1a1a1a" stroke-width="0.95" stroke-linecap="round"/><path d="M0.62,-2.6 C0.62,-1.2 1.3,-0.25 2.4,-0.25" fill="none" stroke="#1a1a1a" stroke-width="1.0" stroke-linecap="round"/></g><text x="-11.93" y="0" font-size="11" font-family='"Liberation Sans", sans-serif' fill="#1a1a1a">(<tspan font-style="italic">e</tspan><tspan font-size="8.3" dy="-4.3">2</tspan><tspan dy="4.3">/2</tspan><tspan font-style="italic">h</tspan>)</text></g>
<text x="450" y="816.4" font-size="11" text-anchor="middle" font-family='"Liberation Sans", sans-serif' fill="#1a1a1a"><tspan font-style="italic">B</tspan><tspan font-size="7.8" dy="2.5" font-weight="bold">||</tspan><tspan dy="-2.5"> (T)</tspan></text>
<text x="9.3" y="625.6" font-size="13" text-anchor="start" font-weight="bold" font-style="normal" font-family='"Liberation Sans", sans-serif' fill="#000" class="pl">g</text>
<g shape-rendering="crispEdges">
<path fill="#f0f0ff" d="M40.20,624.80h2.56v2.56h-2.56zM155.61,627.31h2.56v2.56h-2.56zM168.16,627.31h2.56v2.56h-2.56zM203.28,627.31h2.56v2.56h-2.56zM40.20,629.82h2.56v2.56h-2.56zM82.85,629.82h2.56v2.56h-2.56zM170.67,629.82h2.56v2.56h-2.56zM193.25,629.82h2.56v2.56h-2.56zM200.78,629.82h2.56v2.56h-2.56zM70.31,637.34h2.56v2.56h-2.56zM85.36,637.34h2.56v2.56h-2.56zM198.27,637.34h2.56v2.56h-2.56zM67.80,639.85h2.56v2.56h-2.56zM87.87,639.85h2.56v2.56h-2.56zM190.74,639.85h2.56v2.56h-2.56zM188.23,642.36h2.56v2.56h-2.56zM65.29,644.87h2.56v2.56h-2.56zM70.31,644.87h2.56v2.56h-2.56zM82.85,644.87h2.56v2.56h-2.56zM178.19,644.87h2.56v2.56h-2.56zM85.36,647.38h5.07v2.56h-5.07zM188.23,647.38h2.56v2.56h-2.56zM67.80,649.89h2.56v2.56h-2.56zM80.34,649.89h2.56v2.56h-2.56zM95.40,652.40h2.56v2.56h-2.56zM183.21,652.40h2.56v2.56h-2.56zM42.71,657.42h2.56v2.56h-2.56zM77.84,657.42h2.56v2.56h-2.56zM55.25,659.93h2.56v2.56h-2.56zM52.75,664.94h2.56v2.56h-2.56zM185.72,664.94h2.56v2.56h-2.56zM195.76,664.94h2.56v2.56h-2.56zM55.25,667.45h2.56v2.56h-2.56zM193.25,669.96h2.56v2.56h-2.56zM50.24,672.47h5.07v2.56h-5.07zM173.18,672.47h2.56v2.56h-2.56zM62.78,677.49h2.56v2.56h-2.56zM70.31,677.49h2.56v2.56h-2.56zM173.18,677.49h2.56v2.56h-2.56zM183.21,677.49h2.56v2.56h-2.56zM203.28,677.49h2.56v2.56h-2.56zM180.70,680.00h2.56v2.56h-2.56zM185.72,680.00h2.56v2.56h-2.56zM188.23,682.51h2.56v2.56h-2.56zM42.71,685.02h2.56v2.56h-2.56zM188.23,685.02h2.56v2.56h-2.56zM193.25,685.02h2.56v2.56h-2.56zM185.72,687.52h2.56v2.56h-2.56zM52.75,692.54h2.56v2.56h-2.56zM190.74,692.54h2.56v2.56h-2.56zM40.20,695.05h2.56v2.56h-2.56zM50.24,695.05h2.56v2.56h-2.56zM195.76,697.56h2.56v2.56h-2.56zM193.25,702.58h2.56v2.56h-2.56zM198.27,702.58h2.56v2.56h-2.56zM185.72,707.60h2.56v2.56h-2.56zM52.75,735.20h2.56v2.56h-2.56zM40.20,740.21h2.56v2.56h-2.56zM40.20,742.72h5.07v2.56h-5.07zM203.28,747.74h2.56v2.56h-2.56zM188.23,752.76h2.56v2.56h-2.56zM92.89,755.27h2.56v2.56h-2.56zM62.78,772.83h2.56v2.56h-2.56zM70.31,777.85h2.56v2.56h-2.56zM155.61,780.36h2.56v2.56h-2.56zM178.19,780.36h2.56v2.56h-2.56zM87.87,782.87h2.56v2.56h-2.56zM123.00,782.87h2.56v2.56h-2.56zM150.60,782.87h2.56v2.56h-2.56zM178.19,782.87h2.56v2.56h-2.56zM188.23,782.87h2.56v2.56h-2.56z"/>
<path fill="#fff0f0" d="M42.71,624.80h2.56v2.56h-2.56zM57.76,624.80h5.07v2.56h-5.07zM92.89,624.80h2.56v2.56h-2.56zM107.94,624.80h5.07v2.56h-5.07zM138.05,624.80h5.07v2.56h-5.07zM168.16,624.80h2.56v2.56h-2.56zM173.18,624.80h2.56v2.56h-2.56zM193.25,624.80h2.56v2.56h-2.56zM57.76,627.31h2.56v2.56h-2.56zM75.33,627.31h5.07v2.56h-5.07zM87.87,627.31h2.56v2.56h-2.56zM95.40,627.31h2.56v2.56h-2.56zM102.92,627.31h2.56v2.56h-2.56zM112.96,627.31h2.56v2.56h-2.56zM120.49,627.31h5.07v2.56h-5.07zM150.60,627.31h2.56v2.56h-2.56zM57.76,629.82h5.07v2.56h-5.07zM100.42,629.82h2.56v2.56h-2.56zM117.98,629.82h5.07v2.56h-5.07zM128.01,629.82h2.56v2.56h-2.56zM135.54,629.82h2.56v2.56h-2.56zM140.56,629.82h2.56v2.56h-2.56zM155.61,629.82h2.56v2.56h-2.56zM173.18,629.82h2.56v2.56h-2.56zM55.25,632.33h2.56v2.56h-2.56zM62.78,632.33h2.56v2.56h-2.56zM85.36,632.33h2.56v2.56h-2.56zM90.38,632.33h2.56v2.56h-2.56zM135.54,632.33h2.56v2.56h-2.56zM155.61,632.33h2.56v2.56h-2.56zM55.25,634.84h5.07v2.56h-5.07zM62.78,634.84h2.56v2.56h-2.56zM75.33,634.84h5.07v2.56h-5.07zM107.94,634.84h2.56v2.56h-2.56zM120.49,634.84h2.56v2.56h-2.56zM128.01,634.84h5.07v2.56h-5.07zM138.05,634.84h2.56v2.56h-2.56zM150.60,634.84h2.56v2.56h-2.56zM155.61,634.84h2.56v2.56h-2.56zM170.67,634.84h2.56v2.56h-2.56zM40.20,637.34h2.56v2.56h-2.56zM55.25,637.34h2.56v2.56h-2.56zM60.27,637.34h2.56v2.56h-2.56zM65.29,637.34h2.56v2.56h-2.56zM102.92,637.34h2.56v2.56h-2.56zM115.47,637.34h5.07v2.56h-5.07zM130.52,637.34h5.07v2.56h-5.07zM138.05,637.34h5.07v2.56h-5.07zM42.71,639.85h2.56v2.56h-2.56zM47.73,639.85h2.56v2.56h-2.56zM55.25,639.85h2.56v2.56h-2.56zM92.89,639.85h2.56v2.56h-2.56zM153.11,639.85h2.56v2.56h-2.56zM160.63,639.85h2.56v2.56h-2.56zM67.80,642.36h2.56v2.56h-2.56zM75.33,642.36h5.07v2.56h-5.07zM97.91,642.36h2.56v2.56h-2.56zM148.09,642.36h2.56v2.56h-2.56zM155.61,642.36h2.56v2.56h-2.56zM45.22,644.87h2.56v2.56h-2.56zM150.60,644.87h5.07v2.56h-5.07zM163.14,644.87h2.56v2.56h-2.56zM175.69,644.87h2.56v2.56h-2.56zM203.28,644.87h2.56v2.56h-2.56zM50.24,647.38h5.07v2.56h-5.07zM97.91,647.38h2.56v2.56h-2.56zM150.60,647.38h2.56v2.56h-2.56zM160.63,647.38h7.58v2.56h-7.58zM50.24,649.89h2.56v2.56h-2.56zM70.31,649.89h2.56v2.56h-2.56zM135.54,649.89h2.56v2.56h-2.56zM150.60,649.89h2.56v2.56h-2.56zM160.63,649.89h2.56v2.56h-2.56zM170.67,649.89h2.56v2.56h-2.56zM97.91,652.40h2.56v2.56h-2.56zM165.65,652.40h5.07v2.56h-5.07zM173.18,652.40h2.56v2.56h-2.56zM45.22,654.91h2.56v2.56h-2.56zM57.76,654.91h2.56v2.56h-2.56zM62.78,654.91h2.56v2.56h-2.56zM67.80,654.91h2.56v2.56h-2.56zM75.33,654.91h2.56v2.56h-2.56zM90.38,654.91h2.56v2.56h-2.56zM165.65,654.91h2.56v2.56h-2.56zM175.69,654.91h2.56v2.56h-2.56zM180.70,654.91h2.56v2.56h-2.56zM195.76,654.91h2.56v2.56h-2.56zM40.20,657.42h2.56v2.56h-2.56zM45.22,657.42h2.56v2.56h-2.56zM50.24,657.42h2.56v2.56h-2.56zM65.29,657.42h2.56v2.56h-2.56zM72.82,657.42h2.56v2.56h-2.56zM160.63,657.42h2.56v2.56h-2.56zM178.19,657.42h2.56v2.56h-2.56zM40.20,659.93h2.56v2.56h-2.56zM52.75,659.93h2.56v2.56h-2.56zM60.27,659.93h2.56v2.56h-2.56zM123.00,659.93h2.56v2.56h-2.56zM175.69,659.93h2.56v2.56h-2.56zM45.22,662.43h5.07v2.56h-5.07zM62.78,662.43h2.56v2.56h-2.56zM125.51,662.43h2.56v2.56h-2.56zM163.14,662.43h2.56v2.56h-2.56zM173.18,662.43h2.56v2.56h-2.56zM188.23,662.43h2.56v2.56h-2.56zM47.73,664.94h2.56v2.56h-2.56zM70.31,664.94h2.56v2.56h-2.56zM173.18,664.94h2.56v2.56h-2.56zM190.74,664.94h2.56v2.56h-2.56zM57.76,667.45h5.07v2.56h-5.07zM170.67,667.45h2.56v2.56h-2.56zM203.28,667.45h2.56v2.56h-2.56zM60.27,669.96h2.56v2.56h-2.56zM65.29,669.96h2.56v2.56h-2.56zM72.82,669.96h2.56v2.56h-2.56zM82.85,669.96h2.56v2.56h-2.56zM87.87,669.96h5.07v2.56h-5.07zM102.92,669.96h2.56v2.56h-2.56zM168.16,669.96h2.56v2.56h-2.56zM200.78,669.96h2.56v2.56h-2.56zM40.20,672.47h2.56v2.56h-2.56zM60.27,672.47h5.07v2.56h-5.07zM72.82,672.47h2.56v2.56h-2.56zM193.25,672.47h2.56v2.56h-2.56zM198.27,672.47h2.56v2.56h-2.56zM203.28,672.47h2.56v2.56h-2.56zM40.20,674.98h2.56v2.56h-2.56zM72.82,674.98h2.56v2.56h-2.56zM85.36,674.98h2.56v2.56h-2.56zM97.91,674.98h2.56v2.56h-2.56zM185.72,674.98h2.56v2.56h-2.56zM195.76,674.98h5.07v2.56h-5.07zM203.28,674.98h2.56v2.56h-2.56zM57.76,677.49h2.56v2.56h-2.56zM85.36,677.49h7.58v2.56h-7.58zM188.23,677.49h2.56v2.56h-2.56zM198.27,677.49h2.56v2.56h-2.56zM40.20,680.00h2.56v2.56h-2.56zM45.22,680.00h2.56v2.56h-2.56zM62.78,680.00h2.56v2.56h-2.56zM70.31,680.00h2.56v2.56h-2.56zM170.67,680.00h2.56v2.56h-2.56zM42.71,682.51h2.56v2.56h-2.56zM75.33,682.51h5.07v2.56h-5.07zM100.42,682.51h2.56v2.56h-2.56zM198.27,682.51h5.07v2.56h-5.07zM50.24,685.02h2.56v2.56h-2.56zM75.33,685.02h2.56v2.56h-2.56zM198.27,685.02h2.56v2.56h-2.56zM65.29,687.52h2.56v2.56h-2.56zM75.33,687.52h2.56v2.56h-2.56zM45.22,690.03h2.56v2.56h-2.56zM62.78,690.03h5.07v2.56h-5.07zM60.27,692.54h2.56v2.56h-2.56zM170.67,692.54h2.56v2.56h-2.56zM175.69,692.54h2.56v2.56h-2.56zM180.70,692.54h2.56v2.56h-2.56zM198.27,692.54h2.56v2.56h-2.56zM45.22,695.05h2.56v2.56h-2.56zM165.65,695.05h5.07v2.56h-5.07zM200.78,695.05h2.56v2.56h-2.56zM47.73,697.56h2.56v2.56h-2.56zM60.27,697.56h2.56v2.56h-2.56zM188.23,697.56h2.56v2.56h-2.56zM193.25,697.56h2.56v2.56h-2.56zM203.28,697.56h2.56v2.56h-2.56zM52.75,700.07h2.56v2.56h-2.56zM198.27,700.07h2.56v2.56h-2.56zM42.71,702.58h2.56v2.56h-2.56zM47.73,702.58h7.58v2.56h-7.58zM57.76,702.58h2.56v2.56h-2.56zM40.20,705.09h2.56v2.56h-2.56zM47.73,705.09h2.56v2.56h-2.56zM52.75,705.09h2.56v2.56h-2.56zM57.76,705.09h2.56v2.56h-2.56zM40.20,707.60h5.07v2.56h-5.07zM50.24,707.60h2.56v2.56h-2.56zM40.20,710.11h2.56v2.56h-2.56zM45.22,710.11h2.56v2.56h-2.56zM52.75,710.11h2.56v2.56h-2.56zM57.76,710.11h5.07v2.56h-5.07zM72.82,710.11h2.56v2.56h-2.56zM82.85,710.11h2.56v2.56h-2.56zM163.14,710.11h5.07v2.56h-5.07zM145.58,712.62h2.56v2.56h-2.56zM190.74,712.62h2.56v2.56h-2.56zM198.27,712.62h5.07v2.56h-5.07zM190.74,715.12h2.56v2.56h-2.56zM195.76,715.12h2.56v2.56h-2.56zM42.71,717.63h2.56v2.56h-2.56zM50.24,717.63h2.56v2.56h-2.56zM183.21,717.63h5.07v2.56h-5.07zM40.20,722.65h2.56v2.56h-2.56zM198.27,722.65h2.56v2.56h-2.56zM200.78,725.16h5.07v2.56h-5.07zM50.24,727.67h5.07v2.56h-5.07zM42.71,730.18h2.56v2.56h-2.56zM47.73,730.18h2.56v2.56h-2.56zM52.75,730.18h2.56v2.56h-2.56zM80.34,730.18h2.56v2.56h-2.56zM143.07,730.18h2.56v2.56h-2.56zM198.27,730.18h2.56v2.56h-2.56zM203.28,730.18h2.56v2.56h-2.56zM42.71,732.69h2.56v2.56h-2.56zM47.73,732.69h2.56v2.56h-2.56zM57.76,732.69h5.07v2.56h-5.07zM67.80,732.69h2.56v2.56h-2.56zM77.84,732.69h2.56v2.56h-2.56zM92.89,732.69h2.56v2.56h-2.56zM165.65,732.69h2.56v2.56h-2.56zM47.73,735.20h2.56v2.56h-2.56zM55.25,735.20h5.07v2.56h-5.07zM203.28,735.20h2.56v2.56h-2.56zM45.22,737.70h5.07v2.56h-5.07zM55.25,737.70h5.07v2.56h-5.07zM105.43,737.70h5.07v2.56h-5.07zM173.18,737.70h2.56v2.56h-2.56zM180.70,737.70h12.60v2.56h-12.60zM203.28,737.70h2.56v2.56h-2.56zM105.43,740.21h2.56v2.56h-2.56zM183.21,740.21h2.56v2.56h-2.56zM173.18,742.72h2.56v2.56h-2.56zM178.19,742.72h2.56v2.56h-2.56zM185.72,742.72h5.07v2.56h-5.07zM47.73,745.23h2.56v2.56h-2.56zM40.20,747.74h2.56v2.56h-2.56zM180.70,747.74h2.56v2.56h-2.56zM200.78,747.74h2.56v2.56h-2.56zM185.72,750.25h2.56v2.56h-2.56zM203.28,750.25h2.56v2.56h-2.56zM40.20,752.76h5.07v2.56h-5.07zM52.75,752.76h2.56v2.56h-2.56zM80.34,752.76h2.56v2.56h-2.56zM87.87,752.76h2.56v2.56h-2.56zM92.89,752.76h2.56v2.56h-2.56zM45.22,755.27h5.07v2.56h-5.07zM52.75,755.27h5.07v2.56h-5.07zM67.80,755.27h2.56v2.56h-2.56zM72.82,755.27h7.58v2.56h-7.58zM148.09,755.27h5.07v2.56h-5.07zM200.78,755.27h2.56v2.56h-2.56zM42.71,757.78h7.58v2.56h-7.58zM52.75,757.78h2.56v2.56h-2.56zM62.78,757.78h5.07v2.56h-5.07zM148.09,757.78h2.56v2.56h-2.56zM188.23,757.78h2.56v2.56h-2.56zM57.76,760.29h2.56v2.56h-2.56zM75.33,760.29h2.56v2.56h-2.56zM95.40,760.29h2.56v2.56h-2.56zM100.42,760.29h2.56v2.56h-2.56zM193.25,760.29h2.56v2.56h-2.56zM200.78,760.29h2.56v2.56h-2.56zM50.24,762.79h2.56v2.56h-2.56zM72.82,762.79h2.56v2.56h-2.56zM82.85,762.79h2.56v2.56h-2.56zM90.38,762.79h2.56v2.56h-2.56zM95.40,762.79h2.56v2.56h-2.56zM105.43,762.79h2.56v2.56h-2.56zM110.45,762.79h7.58v2.56h-7.58zM120.49,762.79h2.56v2.56h-2.56zM193.25,762.79h2.56v2.56h-2.56zM47.73,765.30h2.56v2.56h-2.56zM52.75,765.30h2.56v2.56h-2.56zM60.27,765.30h2.56v2.56h-2.56zM67.80,765.30h2.56v2.56h-2.56zM95.40,765.30h2.56v2.56h-2.56zM120.49,765.30h2.56v2.56h-2.56zM190.74,765.30h2.56v2.56h-2.56zM42.71,767.81h2.56v2.56h-2.56zM47.73,767.81h2.56v2.56h-2.56zM60.27,767.81h7.58v2.56h-7.58zM72.82,767.81h2.56v2.56h-2.56zM77.84,767.81h2.56v2.56h-2.56zM92.89,767.81h2.56v2.56h-2.56zM107.94,767.81h5.07v2.56h-5.07zM40.20,770.32h2.56v2.56h-2.56zM45.22,770.32h2.56v2.56h-2.56zM50.24,770.32h2.56v2.56h-2.56zM55.25,770.32h2.56v2.56h-2.56zM75.33,770.32h2.56v2.56h-2.56zM92.89,770.32h2.56v2.56h-2.56zM105.43,770.32h2.56v2.56h-2.56zM110.45,770.32h7.58v2.56h-7.58zM153.11,770.32h5.07v2.56h-5.07zM188.23,770.32h10.09v2.56h-10.09zM40.20,772.83h7.58v2.56h-7.58zM50.24,772.83h2.56v2.56h-2.56zM75.33,772.83h2.56v2.56h-2.56zM110.45,772.83h7.58v2.56h-7.58zM158.12,772.83h5.07v2.56h-5.07zM188.23,772.83h2.56v2.56h-2.56zM193.25,772.83h7.58v2.56h-7.58zM203.28,772.83h2.56v2.56h-2.56zM52.75,775.34h2.56v2.56h-2.56zM82.85,775.34h7.58v2.56h-7.58zM100.42,775.34h2.56v2.56h-2.56zM110.45,775.34h2.56v2.56h-2.56zM120.49,775.34h2.56v2.56h-2.56zM175.69,775.34h5.07v2.56h-5.07zM188.23,775.34h7.58v2.56h-7.58zM203.28,775.34h2.56v2.56h-2.56zM45.22,777.85h7.58v2.56h-7.58zM65.29,777.85h2.56v2.56h-2.56zM82.85,777.85h2.56v2.56h-2.56zM92.89,777.85h2.56v2.56h-2.56zM97.91,777.85h2.56v2.56h-2.56zM107.94,777.85h2.56v2.56h-2.56zM148.09,777.85h2.56v2.56h-2.56zM180.70,777.85h2.56v2.56h-2.56zM198.27,777.85h2.56v2.56h-2.56zM42.71,780.36h5.07v2.56h-5.07zM55.25,780.36h2.56v2.56h-2.56zM60.27,780.36h5.07v2.56h-5.07zM77.84,780.36h2.56v2.56h-2.56zM95.40,780.36h5.07v2.56h-5.07zM110.45,780.36h2.56v2.56h-2.56zM115.47,780.36h2.56v2.56h-2.56zM123.00,780.36h5.07v2.56h-5.07zM145.58,780.36h2.56v2.56h-2.56zM165.65,780.36h2.56v2.56h-2.56zM188.23,780.36h2.56v2.56h-2.56zM42.71,782.87h2.56v2.56h-2.56zM57.76,782.87h2.56v2.56h-2.56zM72.82,782.87h2.56v2.56h-2.56zM92.89,782.87h5.07v2.56h-5.07zM100.42,782.87h5.07v2.56h-5.07zM110.45,782.87h5.07v2.56h-5.07zM128.01,782.87h2.56v2.56h-2.56zM138.05,782.87h2.56v2.56h-2.56zM168.16,782.87h2.56v2.56h-2.56zM42.71,785.38h5.07v2.56h-5.07zM50.24,785.38h5.07v2.56h-5.07zM62.78,785.38h2.56v2.56h-2.56zM67.80,785.38h2.56v2.56h-2.56zM77.84,785.38h2.56v2.56h-2.56zM97.91,785.38h2.56v2.56h-2.56zM110.45,785.38h7.58v2.56h-7.58zM130.52,785.38h5.07v2.56h-5.07zM160.63,785.38h2.56v2.56h-2.56zM175.69,785.38h5.07v2.56h-5.07zM193.25,785.38h5.07v2.56h-5.07zM42.71,787.88h2.56v2.56h-2.56zM50.24,787.88h2.56v2.56h-2.56zM95.40,787.88h7.58v2.56h-7.58zM110.45,787.88h2.56v2.56h-2.56zM120.49,787.88h2.56v2.56h-2.56zM125.51,787.88h2.56v2.56h-2.56zM133.03,787.88h2.56v2.56h-2.56zM150.60,787.88h2.56v2.56h-2.56zM155.61,787.88h2.56v2.56h-2.56zM173.18,787.88h2.56v2.56h-2.56zM193.25,787.88h2.56v2.56h-2.56zM200.78,787.88h2.56v2.56h-2.56z"/>
<path fill="#f0ffff" d="M47.73,624.80h2.56v2.56h-2.56zM90.38,624.80h2.56v2.56h-2.56zM148.09,624.80h2.56v2.56h-2.56zM153.11,624.80h2.56v2.56h-2.56zM175.69,624.80h5.07v2.56h-5.07zM198.27,624.80h2.56v2.56h-2.56zM62.78,627.31h2.56v2.56h-2.56zM97.91,627.31h5.07v2.56h-5.07zM110.45,627.31h2.56v2.56h-2.56zM158.12,627.31h2.56v2.56h-2.56zM163.14,627.31h2.56v2.56h-2.56zM170.67,627.31h2.56v2.56h-2.56zM183.21,627.31h2.56v2.56h-2.56zM188.23,627.31h2.56v2.56h-2.56zM198.27,627.31h5.07v2.56h-5.07zM45.22,629.82h7.58v2.56h-7.58zM62.78,629.82h2.56v2.56h-2.56zM75.33,629.82h5.07v2.56h-5.07zM97.91,629.82h2.56v2.56h-2.56zM112.96,629.82h2.56v2.56h-2.56zM163.14,629.82h5.07v2.56h-5.07zM183.21,629.82h7.58v2.56h-7.58zM198.27,629.82h2.56v2.56h-2.56zM203.28,629.82h2.56v2.56h-2.56zM40.20,632.33h7.58v2.56h-7.58zM65.29,632.33h2.56v2.56h-2.56zM75.33,632.33h2.56v2.56h-2.56zM87.87,632.33h2.56v2.56h-2.56zM100.42,632.33h2.56v2.56h-2.56zM105.43,632.33h2.56v2.56h-2.56zM115.47,632.33h2.56v2.56h-2.56zM150.60,632.33h2.56v2.56h-2.56zM158.12,632.33h2.56v2.56h-2.56zM173.18,632.33h7.58v2.56h-7.58zM188.23,632.33h5.07v2.56h-5.07zM203.28,632.33h2.56v2.56h-2.56zM42.71,634.84h2.56v2.56h-2.56zM70.31,634.84h5.07v2.56h-5.07zM82.85,634.84h10.09v2.56h-10.09zM97.91,634.84h2.56v2.56h-2.56zM115.47,634.84h2.56v2.56h-2.56zM125.51,634.84h2.56v2.56h-2.56zM143.07,634.84h2.56v2.56h-2.56zM175.69,634.84h2.56v2.56h-2.56zM195.76,634.84h2.56v2.56h-2.56zM50.24,637.34h2.56v2.56h-2.56zM80.34,637.34h5.07v2.56h-5.07zM92.89,637.34h5.07v2.56h-5.07zM153.11,637.34h2.56v2.56h-2.56zM158.12,637.34h2.56v2.56h-2.56zM165.65,637.34h2.56v2.56h-2.56zM175.69,637.34h2.56v2.56h-2.56zM190.74,637.34h2.56v2.56h-2.56zM45.22,639.85h2.56v2.56h-2.56zM75.33,639.85h5.07v2.56h-5.07zM163.14,639.85h5.07v2.56h-5.07zM170.67,639.85h2.56v2.56h-2.56zM185.72,639.85h2.56v2.56h-2.56zM193.25,639.85h2.56v2.56h-2.56zM198.27,639.85h2.56v2.56h-2.56zM92.89,642.36h2.56v2.56h-2.56zM143.07,642.36h5.07v2.56h-5.07zM173.18,642.36h2.56v2.56h-2.56zM193.25,642.36h2.56v2.56h-2.56zM72.82,644.87h5.07v2.56h-5.07zM90.38,644.87h2.56v2.56h-2.56zM148.09,644.87h2.56v2.56h-2.56zM168.16,644.87h2.56v2.56h-2.56zM173.18,644.87h2.56v2.56h-2.56zM180.70,644.87h2.56v2.56h-2.56zM188.23,644.87h2.56v2.56h-2.56zM40.20,647.38h2.56v2.56h-2.56zM65.29,647.38h2.56v2.56h-2.56zM70.31,647.38h2.56v2.56h-2.56zM75.33,647.38h2.56v2.56h-2.56zM138.05,647.38h2.56v2.56h-2.56zM175.69,647.38h2.56v2.56h-2.56zM200.78,647.38h2.56v2.56h-2.56zM65.29,649.89h2.56v2.56h-2.56zM75.33,649.89h2.56v2.56h-2.56zM87.87,649.89h5.07v2.56h-5.07zM183.21,649.89h2.56v2.56h-2.56zM190.74,649.89h2.56v2.56h-2.56zM200.78,649.89h2.56v2.56h-2.56zM52.75,652.40h2.56v2.56h-2.56zM57.76,652.40h2.56v2.56h-2.56zM80.34,652.40h2.56v2.56h-2.56zM92.89,652.40h2.56v2.56h-2.56zM180.70,652.40h2.56v2.56h-2.56zM190.74,652.40h2.56v2.56h-2.56zM195.76,652.40h2.56v2.56h-2.56zM200.78,652.40h2.56v2.56h-2.56zM40.20,654.91h2.56v2.56h-2.56zM47.73,654.91h5.07v2.56h-5.07zM55.25,654.91h2.56v2.56h-2.56zM87.87,654.91h2.56v2.56h-2.56zM92.89,654.91h2.56v2.56h-2.56zM198.27,654.91h2.56v2.56h-2.56zM47.73,657.42h2.56v2.56h-2.56zM52.75,657.42h5.07v2.56h-5.07zM60.27,657.42h2.56v2.56h-2.56zM90.38,657.42h2.56v2.56h-2.56zM95.40,657.42h2.56v2.56h-2.56zM198.27,657.42h7.58v2.56h-7.58zM70.31,659.93h2.56v2.56h-2.56zM188.23,659.93h2.56v2.56h-2.56zM50.24,662.43h5.07v2.56h-5.07zM57.76,662.43h2.56v2.56h-2.56zM72.82,662.43h2.56v2.56h-2.56zM80.34,662.43h5.07v2.56h-5.07zM95.40,662.43h2.56v2.56h-2.56zM185.72,662.43h2.56v2.56h-2.56zM193.25,662.43h2.56v2.56h-2.56zM75.33,664.94h5.07v2.56h-5.07zM87.87,664.94h2.56v2.56h-2.56zM203.28,664.94h2.56v2.56h-2.56zM50.24,667.45h2.56v2.56h-2.56zM75.33,667.45h5.07v2.56h-5.07zM82.85,667.45h2.56v2.56h-2.56zM92.89,667.45h2.56v2.56h-2.56zM175.69,667.45h2.56v2.56h-2.56zM188.23,667.45h2.56v2.56h-2.56zM195.76,667.45h2.56v2.56h-2.56zM200.78,667.45h2.56v2.56h-2.56zM45.22,669.96h2.56v2.56h-2.56zM52.75,669.96h2.56v2.56h-2.56zM80.34,669.96h2.56v2.56h-2.56zM173.18,669.96h2.56v2.56h-2.56zM178.19,669.96h2.56v2.56h-2.56zM183.21,669.96h2.56v2.56h-2.56zM57.76,672.47h2.56v2.56h-2.56zM67.80,672.47h5.07v2.56h-5.07zM75.33,672.47h2.56v2.56h-2.56zM82.85,672.47h2.56v2.56h-2.56zM87.87,672.47h2.56v2.56h-2.56zM95.40,672.47h2.56v2.56h-2.56zM200.78,672.47h2.56v2.56h-2.56zM45.22,674.98h5.07v2.56h-5.07zM55.25,674.98h2.56v2.56h-2.56zM60.27,674.98h10.09v2.56h-10.09zM92.89,674.98h2.56v2.56h-2.56zM178.19,674.98h5.07v2.56h-5.07zM45.22,677.49h2.56v2.56h-2.56zM95.40,677.49h2.56v2.56h-2.56zM180.70,677.49h2.56v2.56h-2.56zM72.82,680.00h2.56v2.56h-2.56zM175.69,680.00h2.56v2.56h-2.56zM190.74,680.00h2.56v2.56h-2.56zM203.28,680.00h2.56v2.56h-2.56zM45.22,682.51h2.56v2.56h-2.56zM178.19,682.51h2.56v2.56h-2.56zM185.72,682.51h2.56v2.56h-2.56zM50.24,687.52h2.56v2.56h-2.56zM180.70,687.52h2.56v2.56h-2.56zM188.23,687.52h2.56v2.56h-2.56zM198.27,687.52h5.07v2.56h-5.07zM57.76,690.03h2.56v2.56h-2.56zM183.21,690.03h5.07v2.56h-5.07zM193.25,690.03h2.56v2.56h-2.56zM45.22,692.54h5.07v2.56h-5.07zM55.25,692.54h2.56v2.56h-2.56zM183.21,692.54h2.56v2.56h-2.56zM195.76,692.54h2.56v2.56h-2.56zM52.75,695.05h5.07v2.56h-5.07zM198.27,695.05h2.56v2.56h-2.56zM50.24,697.56h2.56v2.56h-2.56zM200.78,697.56h2.56v2.56h-2.56zM47.73,700.07h2.56v2.56h-2.56zM55.25,700.07h2.56v2.56h-2.56zM188.23,700.07h5.07v2.56h-5.07zM203.28,700.07h2.56v2.56h-2.56zM40.20,702.58h2.56v2.56h-2.56zM55.25,702.58h2.56v2.56h-2.56zM62.78,705.09h2.56v2.56h-2.56zM55.25,707.60h2.56v2.56h-2.56zM188.23,707.60h2.56v2.56h-2.56zM198.27,707.60h2.56v2.56h-2.56zM65.29,710.11h5.07v2.56h-5.07zM185.72,710.11h2.56v2.56h-2.56zM42.71,712.62h2.56v2.56h-2.56zM40.20,715.12h2.56v2.56h-2.56zM47.73,717.63h2.56v2.56h-2.56zM198.27,717.63h5.07v2.56h-5.07zM40.20,720.14h2.56v2.56h-2.56zM45.22,720.14h2.56v2.56h-2.56zM47.73,722.65h5.07v2.56h-5.07zM200.78,730.18h2.56v2.56h-2.56zM52.75,732.69h2.56v2.56h-2.56zM193.25,737.70h5.07v2.56h-5.07zM47.73,740.21h2.56v2.56h-2.56zM190.74,740.21h2.56v2.56h-2.56zM195.76,740.21h2.56v2.56h-2.56zM198.27,742.72h2.56v2.56h-2.56zM40.20,745.23h2.56v2.56h-2.56zM203.28,745.23h2.56v2.56h-2.56zM42.71,747.74h5.07v2.56h-5.07zM193.25,747.74h2.56v2.56h-2.56zM193.25,750.25h2.56v2.56h-2.56zM198.27,750.25h2.56v2.56h-2.56zM50.24,752.76h2.56v2.56h-2.56zM80.34,755.27h2.56v2.56h-2.56zM90.38,755.27h2.56v2.56h-2.56zM97.91,755.27h2.56v2.56h-2.56zM75.33,757.78h5.07v2.56h-5.07zM85.36,757.78h5.07v2.56h-5.07zM95.40,757.78h2.56v2.56h-2.56zM72.82,760.29h2.56v2.56h-2.56zM155.61,760.29h2.56v2.56h-2.56zM65.29,762.79h2.56v2.56h-2.56zM70.31,762.79h2.56v2.56h-2.56zM80.34,762.79h2.56v2.56h-2.56zM50.24,765.30h2.56v2.56h-2.56zM62.78,765.30h5.07v2.56h-5.07zM80.34,765.30h2.56v2.56h-2.56zM85.36,765.30h2.56v2.56h-2.56zM97.91,765.30h2.56v2.56h-2.56zM115.47,767.81h2.56v2.56h-2.56zM150.60,767.81h2.56v2.56h-2.56zM158.12,767.81h2.56v2.56h-2.56zM203.28,767.81h2.56v2.56h-2.56zM57.76,770.32h2.56v2.56h-2.56zM97.91,770.32h2.56v2.56h-2.56zM65.29,772.83h2.56v2.56h-2.56zM85.36,772.83h2.56v2.56h-2.56zM90.38,772.83h2.56v2.56h-2.56zM107.94,772.83h2.56v2.56h-2.56zM153.11,772.83h5.07v2.56h-5.07zM55.25,775.34h2.56v2.56h-2.56zM62.78,775.34h2.56v2.56h-2.56zM67.80,775.34h2.56v2.56h-2.56zM90.38,775.34h2.56v2.56h-2.56zM112.96,775.34h2.56v2.56h-2.56zM62.78,777.85h2.56v2.56h-2.56zM77.84,777.85h2.56v2.56h-2.56zM87.87,777.85h2.56v2.56h-2.56zM123.00,777.85h2.56v2.56h-2.56zM153.11,777.85h2.56v2.56h-2.56zM47.73,780.36h2.56v2.56h-2.56zM67.80,780.36h2.56v2.56h-2.56zM120.49,780.36h2.56v2.56h-2.56zM62.78,782.87h5.07v2.56h-5.07zM90.38,782.87h2.56v2.56h-2.56zM145.58,782.87h2.56v2.56h-2.56zM183.21,782.87h2.56v2.56h-2.56zM65.29,785.38h2.56v2.56h-2.56zM70.31,785.38h2.56v2.56h-2.56zM82.85,785.38h2.56v2.56h-2.56zM95.40,785.38h2.56v2.56h-2.56zM105.43,785.38h2.56v2.56h-2.56zM125.51,785.38h2.56v2.56h-2.56zM140.56,785.38h2.56v2.56h-2.56zM145.58,785.38h2.56v2.56h-2.56zM150.60,785.38h5.07v2.56h-5.07zM165.65,785.38h2.56v2.56h-2.56zM173.18,785.38h2.56v2.56h-2.56zM180.70,785.38h2.56v2.56h-2.56zM190.74,785.38h2.56v2.56h-2.56zM200.78,785.38h2.56v2.56h-2.56zM47.73,787.88h2.56v2.56h-2.56zM82.85,787.88h2.56v2.56h-2.56zM123.00,787.88h2.56v2.56h-2.56zM148.09,787.88h2.56v2.56h-2.56zM158.12,787.88h2.56v2.56h-2.56zM175.69,787.88h2.56v2.56h-2.56zM183.21,787.88h5.07v2.56h-5.07z"/>
<path fill="#ffe8e8" d="M55.25,624.80h2.56v2.56h-2.56zM55.25,627.31h2.56v2.56h-2.56zM55.25,629.82h2.56v2.56h-2.56zM125.51,629.82h2.56v2.56h-2.56zM123.00,632.33h2.56v2.56h-2.56zM42.71,637.34h2.56v2.56h-2.56zM62.78,637.34h2.56v2.56h-2.56zM110.45,637.34h2.56v2.56h-2.56zM120.49,637.34h7.58v2.56h-7.58zM102.92,639.85h5.07v2.56h-5.07zM133.03,639.85h5.07v2.56h-5.07zM40.20,642.36h5.07v2.56h-5.07zM100.42,642.36h2.56v2.56h-2.56zM42.71,644.87h2.56v2.56h-2.56zM50.24,644.87h2.56v2.56h-2.56zM57.76,644.87h2.56v2.56h-2.56zM97.91,644.87h2.56v2.56h-2.56zM153.11,647.38h2.56v2.56h-2.56zM143.07,649.89h2.56v2.56h-2.56zM97.91,654.91h2.56v2.56h-2.56zM160.63,654.91h2.56v2.56h-2.56zM97.91,657.42h2.56v2.56h-2.56zM97.91,659.93h2.56v2.56h-2.56zM130.52,659.93h2.56v2.56h-2.56zM173.18,659.93h2.56v2.56h-2.56zM97.91,662.43h2.56v2.56h-2.56zM128.01,662.43h2.56v2.56h-2.56zM62.78,664.94h2.56v2.56h-2.56zM97.91,664.94h2.56v2.56h-2.56zM123.00,664.94h2.56v2.56h-2.56zM130.52,664.94h2.56v2.56h-2.56zM42.71,669.96h2.56v2.56h-2.56zM102.92,672.47h2.56v2.56h-2.56zM170.67,674.98h2.56v2.56h-2.56zM40.20,677.49h2.56v2.56h-2.56zM195.76,677.49h2.56v2.56h-2.56zM100.42,680.00h2.56v2.56h-2.56zM198.27,680.00h5.07v2.56h-5.07zM62.78,682.51h2.56v2.56h-2.56zM70.31,682.51h2.56v2.56h-2.56zM65.29,685.02h7.58v2.56h-7.58zM77.84,685.02h2.56v2.56h-2.56zM170.67,685.02h2.56v2.56h-2.56zM70.31,687.52h2.56v2.56h-2.56zM77.84,687.52h2.56v2.56h-2.56zM168.16,687.52h2.56v2.56h-2.56zM178.19,687.52h2.56v2.56h-2.56zM158.12,690.03h2.56v2.56h-2.56zM178.19,690.03h2.56v2.56h-2.56zM62.78,692.54h2.56v2.56h-2.56zM158.12,692.54h5.07v2.56h-5.07zM165.65,692.54h5.07v2.56h-5.07zM178.19,692.54h2.56v2.56h-2.56zM62.78,695.05h2.56v2.56h-2.56zM62.78,697.56h2.56v2.56h-2.56zM62.78,700.07h5.07v2.56h-5.07zM185.72,700.07h2.56v2.56h-2.56zM65.29,702.58h2.56v2.56h-2.56zM45.22,705.09h2.56v2.56h-2.56zM185.72,705.09h2.56v2.56h-2.56zM67.80,707.60h2.56v2.56h-2.56zM72.82,707.60h2.56v2.56h-2.56zM180.70,710.11h2.56v2.56h-2.56zM60.27,712.62h2.56v2.56h-2.56zM67.80,712.62h2.56v2.56h-2.56zM52.75,715.12h2.56v2.56h-2.56zM145.58,715.12h2.56v2.56h-2.56zM188.23,715.12h2.56v2.56h-2.56zM52.75,717.63h2.56v2.56h-2.56zM180.70,717.63h2.56v2.56h-2.56zM50.24,720.14h2.56v2.56h-2.56zM198.27,720.14h2.56v2.56h-2.56zM50.24,725.16h2.56v2.56h-2.56zM198.27,727.67h2.56v2.56h-2.56zM45.22,730.18h2.56v2.56h-2.56zM55.25,730.18h2.56v2.56h-2.56zM70.31,730.18h5.07v2.56h-5.07zM163.14,730.18h2.56v2.56h-2.56zM65.29,732.69h2.56v2.56h-2.56zM70.31,732.69h2.56v2.56h-2.56zM143.07,732.69h2.56v2.56h-2.56zM198.27,732.69h2.56v2.56h-2.56zM203.28,732.69h2.56v2.56h-2.56zM60.27,735.20h2.56v2.56h-2.56zM65.29,735.20h2.56v2.56h-2.56zM160.63,737.70h2.56v2.56h-2.56zM175.69,737.70h2.56v2.56h-2.56zM107.94,740.21h2.56v2.56h-2.56zM165.65,740.21h5.07v2.56h-5.07zM185.72,740.21h2.56v2.56h-2.56zM47.73,742.72h2.56v2.56h-2.56zM170.67,742.72h2.56v2.56h-2.56zM180.70,742.72h5.07v2.56h-5.07zM173.18,745.23h2.56v2.56h-2.56zM50.24,750.25h2.56v2.56h-2.56zM117.98,752.76h2.56v2.56h-2.56zM40.20,755.27h5.07v2.56h-5.07zM65.29,755.27h2.56v2.56h-2.56zM117.98,755.27h2.56v2.56h-2.56zM40.20,757.78h2.56v2.56h-2.56zM57.76,757.78h5.07v2.56h-5.07zM100.42,757.78h2.56v2.56h-2.56zM40.20,760.29h5.07v2.56h-5.07zM60.27,760.29h5.07v2.56h-5.07zM97.91,760.29h2.56v2.56h-2.56zM102.92,760.29h2.56v2.56h-2.56zM115.47,760.29h2.56v2.56h-2.56zM148.09,760.29h2.56v2.56h-2.56zM158.12,760.29h2.56v2.56h-2.56zM40.20,762.79h2.56v2.56h-2.56zM45.22,762.79h2.56v2.56h-2.56zM148.09,762.79h2.56v2.56h-2.56zM198.27,762.79h2.56v2.56h-2.56zM42.71,765.30h2.56v2.56h-2.56zM45.22,767.81h2.56v2.56h-2.56zM67.80,767.81h2.56v2.56h-2.56zM193.25,767.81h2.56v2.56h-2.56zM198.27,767.81h5.07v2.56h-5.07zM47.73,770.32h2.56v2.56h-2.56zM52.75,772.83h2.56v2.56h-2.56zM190.74,772.83h2.56v2.56h-2.56zM47.73,775.34h2.56v2.56h-2.56zM195.76,775.34h5.07v2.56h-5.07zM115.47,777.85h2.56v2.56h-2.56zM125.51,777.85h2.56v2.56h-2.56zM170.67,777.85h2.56v2.56h-2.56zM175.69,777.85h2.56v2.56h-2.56zM188.23,777.85h5.07v2.56h-5.07zM52.75,780.36h2.56v2.56h-2.56zM75.33,780.36h2.56v2.56h-2.56zM92.89,780.36h2.56v2.56h-2.56zM102.92,780.36h2.56v2.56h-2.56zM107.94,780.36h2.56v2.56h-2.56zM112.96,780.36h2.56v2.56h-2.56zM117.98,780.36h2.56v2.56h-2.56zM143.07,780.36h2.56v2.56h-2.56zM168.16,780.36h2.56v2.56h-2.56zM200.78,780.36h2.56v2.56h-2.56zM40.20,782.87h2.56v2.56h-2.56zM55.25,782.87h2.56v2.56h-2.56zM77.84,782.87h2.56v2.56h-2.56zM130.52,782.87h2.56v2.56h-2.56zM40.20,785.38h2.56v2.56h-2.56zM55.25,785.38h5.07v2.56h-5.07zM45.22,787.88h2.56v2.56h-2.56zM57.76,787.88h2.56v2.56h-2.56zM117.98,787.88h2.56v2.56h-2.56z"/>
<path fill="#e8f0ff" d="M85.36,624.80h2.56v2.56h-2.56zM160.63,624.80h2.56v2.56h-2.56zM183.21,624.80h5.07v2.56h-5.07zM180.70,627.31h2.56v2.56h-2.56zM65.29,629.82h2.56v2.56h-2.56zM115.47,629.82h2.56v2.56h-2.56zM180.70,629.82h2.56v2.56h-2.56zM190.74,629.82h2.56v2.56h-2.56zM163.14,632.33h2.56v2.56h-2.56zM180.70,632.33h2.56v2.56h-2.56zM160.63,634.84h2.56v2.56h-2.56zM180.70,634.84h2.56v2.56h-2.56zM198.27,634.84h2.56v2.56h-2.56zM72.82,637.34h2.56v2.56h-2.56zM178.19,637.34h5.07v2.56h-5.07zM188.23,637.34h2.56v2.56h-2.56zM175.69,639.85h2.56v2.56h-2.56zM188.23,639.85h2.56v2.56h-2.56zM85.36,642.36h2.56v2.56h-2.56zM178.19,642.36h2.56v2.56h-2.56zM185.72,642.36h2.56v2.56h-2.56zM77.84,644.87h2.56v2.56h-2.56zM85.36,644.87h2.56v2.56h-2.56zM170.67,644.87h2.56v2.56h-2.56zM183.21,644.87h2.56v2.56h-2.56zM190.74,644.87h2.56v2.56h-2.56zM82.85,647.38h2.56v2.56h-2.56zM95.40,647.38h2.56v2.56h-2.56zM82.85,649.89h5.07v2.56h-5.07zM175.69,649.89h2.56v2.56h-2.56zM185.72,649.89h5.07v2.56h-5.07zM75.33,652.40h2.56v2.56h-2.56zM85.36,652.40h2.56v2.56h-2.56zM185.72,652.40h5.07v2.56h-5.07zM203.28,652.40h2.56v2.56h-2.56zM77.84,654.91h2.56v2.56h-2.56zM82.85,654.91h2.56v2.56h-2.56zM190.74,654.91h2.56v2.56h-2.56zM200.78,654.91h5.07v2.56h-5.07zM75.33,657.42h2.56v2.56h-2.56zM85.36,657.42h2.56v2.56h-2.56zM72.82,659.93h5.07v2.56h-5.07zM85.36,659.93h2.56v2.56h-2.56zM40.20,662.43h2.56v2.56h-2.56zM70.31,662.43h2.56v2.56h-2.56zM90.38,662.43h2.56v2.56h-2.56zM198.27,662.43h5.07v2.56h-5.07zM90.38,664.94h2.56v2.56h-2.56zM183.21,664.94h2.56v2.56h-2.56zM198.27,664.94h5.07v2.56h-5.07zM178.19,667.45h2.56v2.56h-2.56zM183.21,667.45h2.56v2.56h-2.56zM55.25,669.96h2.56v2.56h-2.56zM175.69,669.96h2.56v2.56h-2.56zM180.70,672.47h2.56v2.56h-2.56zM173.18,674.98h5.07v2.56h-5.07zM67.80,677.49h2.56v2.56h-2.56zM178.19,677.49h2.56v2.56h-2.56zM173.18,680.00h2.56v2.56h-2.56zM42.71,687.52h2.56v2.56h-2.56zM183.21,687.52h2.56v2.56h-2.56zM180.70,690.03h2.56v2.56h-2.56zM185.72,692.54h2.56v2.56h-2.56zM193.25,705.09h5.07v2.56h-5.07zM183.21,710.11h2.56v2.56h-2.56zM188.23,710.11h2.56v2.56h-2.56zM198.27,710.11h5.07v2.56h-5.07zM190.74,752.76h2.56v2.56h-2.56zM67.80,760.29h2.56v2.56h-2.56zM153.11,760.29h2.56v2.56h-2.56zM155.61,762.79h2.56v2.56h-2.56zM60.27,772.83h2.56v2.56h-2.56zM153.11,775.34h2.56v2.56h-2.56zM150.60,780.36h2.56v2.56h-2.56zM175.69,780.36h2.56v2.56h-2.56zM143.07,785.38h2.56v2.56h-2.56zM198.27,785.38h2.56v2.56h-2.56zM143.07,787.88h2.56v2.56h-2.56z"/>
<path fill="#e0f0ff" d="M183.21,632.33h2.56v2.56h-2.56zM190.74,642.36h2.56v2.56h-2.56zM180.70,669.96h2.56v2.56h-2.56z"/>
<path fill="#ffd0d0" d="M107.94,639.85h2.56v2.56h-2.56zM130.52,639.85h2.56v2.56h-2.56zM148.09,649.89h2.56v2.56h-2.56zM128.01,664.94h2.56v2.56h-2.56zM160.63,674.98h2.56v2.56h-2.56zM97.91,682.51h2.56v2.56h-2.56zM143.07,682.51h5.07v2.56h-5.07zM97.91,685.02h2.56v2.56h-2.56zM145.58,685.02h2.56v2.56h-2.56zM163.14,687.52h5.07v2.56h-5.07zM173.18,687.52h5.07v2.56h-5.07zM77.84,690.03h2.56v2.56h-2.56zM160.63,690.03h2.56v2.56h-2.56zM173.18,692.54h2.56v2.56h-2.56zM160.63,695.05h2.56v2.56h-2.56zM173.18,695.05h2.56v2.56h-2.56zM185.72,702.58h2.56v2.56h-2.56zM65.29,705.09h2.56v2.56h-2.56zM170.67,710.11h2.56v2.56h-2.56zM178.19,710.11h2.56v2.56h-2.56zM100.42,712.62h2.56v2.56h-2.56zM55.25,715.12h5.07v2.56h-5.07zM153.11,717.63h2.56v2.56h-2.56zM165.65,717.63h2.56v2.56h-2.56zM188.23,717.63h2.56v2.56h-2.56zM198.27,725.16h2.56v2.56h-2.56zM90.38,735.20h2.56v2.56h-2.56zM190.74,735.20h5.07v2.56h-5.07zM52.75,742.72h2.56v2.56h-2.56zM168.16,742.72h2.56v2.56h-2.56zM50.24,747.74h2.56v2.56h-2.56zM85.36,750.25h2.56v2.56h-2.56zM120.49,750.25h2.56v2.56h-2.56zM178.19,750.25h2.56v2.56h-2.56zM70.31,752.76h2.56v2.56h-2.56zM125.51,752.76h2.56v2.56h-2.56zM145.58,752.76h2.56v2.56h-2.56zM145.58,760.29h2.56v2.56h-2.56zM163.14,772.83h2.56v2.56h-2.56z"/>
<path fill="#ffa8a8" d="M110.45,639.85h5.07v2.56h-5.07zM125.51,639.85h2.56v2.56h-2.56zM105.43,642.36h2.56v2.56h-2.56zM138.05,652.40h2.56v2.56h-2.56zM100.42,654.91h2.56v2.56h-2.56zM102.92,659.93h5.07v2.56h-5.07zM100.42,664.94h2.56v2.56h-2.56zM128.01,672.47h2.56v2.56h-2.56zM168.16,672.47h2.56v2.56h-2.56zM85.36,680.00h2.56v2.56h-2.56zM168.16,680.00h2.56v2.56h-2.56zM80.34,682.51h2.56v2.56h-2.56zM92.89,682.51h2.56v2.56h-2.56zM153.11,685.02h2.56v2.56h-2.56zM128.01,687.52h2.56v2.56h-2.56zM87.87,692.54h10.09v2.56h-10.09zM153.11,692.54h2.56v2.56h-2.56zM145.58,695.05h2.56v2.56h-2.56zM153.11,697.56h2.56v2.56h-2.56zM160.63,697.56h2.56v2.56h-2.56zM160.63,700.07h2.56v2.56h-2.56zM77.84,705.09h2.56v2.56h-2.56zM80.34,707.60h2.56v2.56h-2.56zM143.07,710.11h2.56v2.56h-2.56zM102.92,712.62h2.56v2.56h-2.56zM60.27,715.12h2.56v2.56h-2.56zM190.74,720.14h2.56v2.56h-2.56zM195.76,722.65h2.56v2.56h-2.56zM115.47,725.16h2.56v2.56h-2.56zM80.34,727.67h2.56v2.56h-2.56zM153.11,727.67h2.56v2.56h-2.56zM100.42,730.18h5.07v2.56h-5.07zM165.65,730.18h2.56v2.56h-2.56zM75.33,735.20h2.56v2.56h-2.56zM65.29,737.70h2.56v2.56h-2.56zM150.60,737.70h5.07v2.56h-5.07zM117.98,745.23h2.56v2.56h-2.56zM145.58,745.23h2.56v2.56h-2.56zM117.98,747.74h2.56v2.56h-2.56zM67.80,752.76h2.56v2.56h-2.56zM163.14,760.29h2.56v2.56h-2.56zM173.18,760.29h2.56v2.56h-2.56zM163.14,762.79h2.56v2.56h-2.56zM128.01,767.81h2.56v2.56h-2.56zM163.14,767.81h2.56v2.56h-2.56zM173.18,775.34h2.56v2.56h-2.56z"/>
<path fill="#ff7878" d="M115.47,639.85h2.56v2.56h-2.56zM112.96,647.38h2.56v2.56h-2.56zM100.42,649.89h2.56v2.56h-2.56zM107.94,657.42h2.56v2.56h-2.56zM105.43,664.94h2.56v2.56h-2.56zM160.63,664.94h2.56v2.56h-2.56zM133.03,669.96h2.56v2.56h-2.56zM102.92,674.98h2.56v2.56h-2.56zM163.14,680.00h5.07v2.56h-5.07zM158.12,682.51h2.56v2.56h-2.56zM155.61,685.02h2.56v2.56h-2.56zM82.85,687.52h2.56v2.56h-2.56zM150.60,690.03h2.56v2.56h-2.56zM82.85,692.54h2.56v2.56h-2.56zM145.58,692.54h2.56v2.56h-2.56zM150.60,692.54h2.56v2.56h-2.56zM97.91,695.05h2.56v2.56h-2.56zM163.14,700.07h2.56v2.56h-2.56zM87.87,707.60h2.56v2.56h-2.56zM138.05,707.60h5.07v2.56h-5.07zM160.63,707.60h2.56v2.56h-2.56zM135.54,710.11h5.07v2.56h-5.07zM145.58,710.11h2.56v2.56h-2.56zM153.11,710.11h2.56v2.56h-2.56zM80.34,715.12h2.56v2.56h-2.56zM87.87,715.12h2.56v2.56h-2.56zM102.92,715.12h2.56v2.56h-2.56zM130.52,715.12h2.56v2.56h-2.56zM82.85,722.65h2.56v2.56h-2.56zM87.87,722.65h2.56v2.56h-2.56zM55.25,725.16h2.56v2.56h-2.56zM85.36,725.16h2.56v2.56h-2.56zM92.89,725.16h2.56v2.56h-2.56zM145.58,725.16h2.56v2.56h-2.56zM92.89,727.67h2.56v2.56h-2.56zM140.56,727.67h2.56v2.56h-2.56zM173.18,732.69h2.56v2.56h-2.56zM62.78,737.70h2.56v2.56h-2.56zM77.84,740.21h2.56v2.56h-2.56zM67.80,745.23h2.56v2.56h-2.56zM62.78,747.74h2.56v2.56h-2.56zM72.82,747.74h2.56v2.56h-2.56zM110.45,747.74h5.07v2.56h-5.07zM75.33,750.25h2.56v2.56h-2.56zM57.76,752.76h2.56v2.56h-2.56zM105.43,755.27h2.56v2.56h-2.56zM128.01,755.27h2.56v2.56h-2.56zM112.96,757.78h2.56v2.56h-2.56zM123.00,757.78h2.56v2.56h-2.56zM178.19,760.29h2.56v2.56h-2.56zM168.16,762.79h2.56v2.56h-2.56zM125.51,765.30h2.56v2.56h-2.56zM185.72,770.32h2.56v2.56h-2.56zM138.05,772.83h2.56v2.56h-2.56zM165.65,772.83h2.56v2.56h-2.56zM128.01,775.34h2.56v2.56h-2.56zM143.07,775.34h2.56v2.56h-2.56z"/>
<path fill="#ffb0b0" d="M117.98,639.85h2.56v2.56h-2.56zM123.00,639.85h2.56v2.56h-2.56zM102.92,642.36h2.56v2.56h-2.56zM100.42,644.87h2.56v2.56h-2.56zM107.94,662.43h2.56v2.56h-2.56zM150.60,677.49h2.56v2.56h-2.56zM87.87,680.00h2.56v2.56h-2.56zM148.09,682.51h2.56v2.56h-2.56zM80.34,685.02h2.56v2.56h-2.56zM163.14,685.02h5.07v2.56h-5.07zM85.36,687.52h2.56v2.56h-2.56zM128.01,690.03h2.56v2.56h-2.56zM170.67,690.03h2.56v2.56h-2.56zM128.01,692.54h2.56v2.56h-2.56zM168.16,707.60h2.56v2.56h-2.56zM92.89,710.11h2.56v2.56h-2.56zM140.56,710.11h2.56v2.56h-2.56zM62.78,715.12h2.56v2.56h-2.56zM145.58,720.14h2.56v2.56h-2.56zM70.31,727.67h2.56v2.56h-2.56zM90.38,727.67h2.56v2.56h-2.56zM67.80,730.18h2.56v2.56h-2.56zM80.34,735.20h2.56v2.56h-2.56zM70.31,737.70h2.56v2.56h-2.56zM165.65,742.72h2.56v2.56h-2.56zM82.85,750.25h2.56v2.56h-2.56zM87.87,750.25h5.07v2.56h-5.07zM60.27,755.27h2.56v2.56h-2.56zM145.58,755.27h2.56v2.56h-2.56zM185.72,757.78h2.56v2.56h-2.56z"/>
<path fill="#ffd8d8" d="M120.49,639.85h2.56v2.56h-2.56zM145.58,649.89h2.56v2.56h-2.56zM155.61,652.40h2.56v2.56h-2.56zM125.51,659.93h2.56v2.56h-2.56zM133.03,664.94h2.56v2.56h-2.56zM130.52,667.45h2.56v2.56h-2.56zM100.42,674.98h2.56v2.56h-2.56zM130.52,674.98h2.56v2.56h-2.56zM100.42,677.49h2.56v2.56h-2.56zM80.34,687.52h2.56v2.56h-2.56zM158.12,687.52h2.56v2.56h-2.56zM170.67,687.52h2.56v2.56h-2.56zM72.82,690.03h2.56v2.56h-2.56zM158.12,695.05h2.56v2.56h-2.56zM163.14,695.05h2.56v2.56h-2.56zM170.67,695.05h2.56v2.56h-2.56zM180.70,707.60h2.56v2.56h-2.56zM85.36,710.11h2.56v2.56h-2.56zM65.29,712.62h2.56v2.56h-2.56zM72.82,712.62h5.07v2.56h-5.07zM87.87,712.62h2.56v2.56h-2.56zM158.12,717.63h2.56v2.56h-2.56zM168.16,717.63h2.56v2.56h-2.56zM52.75,720.14h2.56v2.56h-2.56zM195.76,720.14h2.56v2.56h-2.56zM52.75,725.16h2.56v2.56h-2.56zM85.36,727.67h2.56v2.56h-2.56zM148.09,727.67h2.56v2.56h-2.56zM62.78,732.69h2.56v2.56h-2.56zM75.33,732.69h2.56v2.56h-2.56zM77.84,735.20h2.56v2.56h-2.56zM87.87,735.20h2.56v2.56h-2.56zM168.16,735.20h2.56v2.56h-2.56zM158.12,737.70h2.56v2.56h-2.56zM50.24,742.72h2.56v2.56h-2.56zM173.18,747.74h2.56v2.56h-2.56zM95.40,750.25h2.56v2.56h-2.56zM100.42,750.25h2.56v2.56h-2.56zM117.98,750.25h2.56v2.56h-2.56zM125.51,750.25h2.56v2.56h-2.56zM77.84,752.76h2.56v2.56h-2.56zM82.85,752.76h2.56v2.56h-2.56zM120.49,752.76h2.56v2.56h-2.56zM148.09,752.76h2.56v2.56h-2.56zM100.42,755.27h2.56v2.56h-2.56zM185.72,755.27h2.56v2.56h-2.56zM120.49,760.29h2.56v2.56h-2.56zM107.94,762.79h2.56v2.56h-2.56zM188.23,762.79h2.56v2.56h-2.56zM160.63,770.32h2.56v2.56h-2.56zM185.72,772.83h2.56v2.56h-2.56zM183.21,775.34h2.56v2.56h-2.56zM128.01,780.36h2.56v2.56h-2.56zM133.03,782.87h2.56v2.56h-2.56z"/>
<path fill="#ffa0a0" d="M128.01,639.85h2.56v2.56h-2.56zM133.03,644.87h2.56v2.56h-2.56zM110.45,649.89h2.56v2.56h-2.56zM140.56,652.40h2.56v2.56h-2.56zM150.60,652.40h2.56v2.56h-2.56zM163.14,677.49h2.56v2.56h-2.56zM160.63,680.00h2.56v2.56h-2.56zM85.36,682.51h2.56v2.56h-2.56zM90.38,682.51h2.56v2.56h-2.56zM102.92,682.51h2.56v2.56h-2.56zM102.92,685.02h2.56v2.56h-2.56zM173.18,690.03h2.56v2.56h-2.56zM175.69,695.05h2.56v2.56h-2.56zM180.70,695.05h2.56v2.56h-2.56zM100.42,710.11h2.56v2.56h-2.56zM155.61,710.11h2.56v2.56h-2.56zM105.43,712.62h2.56v2.56h-2.56zM67.80,715.12h2.56v2.56h-2.56zM82.85,715.12h2.56v2.56h-2.56zM193.25,720.14h2.56v2.56h-2.56zM190.74,722.65h5.07v2.56h-5.07zM72.82,727.67h2.56v2.56h-2.56zM138.05,727.67h2.56v2.56h-2.56zM60.27,730.18h2.56v2.56h-2.56zM140.56,730.18h2.56v2.56h-2.56zM105.43,735.20h2.56v2.56h-2.56zM175.69,735.20h2.56v2.56h-2.56zM145.58,747.74h2.56v2.56h-2.56zM102.92,750.25h2.56v2.56h-2.56zM55.25,752.76h2.56v2.56h-2.56zM60.27,752.76h5.07v2.56h-5.07zM180.70,752.76h2.56v2.56h-2.56zM145.58,762.79h2.56v2.56h-2.56zM130.52,767.81h2.56v2.56h-2.56zM125.51,770.32h5.07v2.56h-5.07zM163.14,770.32h5.07v2.56h-5.07zM183.21,772.83h2.56v2.56h-2.56zM125.51,775.34h2.56v2.56h-2.56zM168.16,775.34h2.56v2.56h-2.56z"/>
<path fill="#ff8888" d="M107.94,642.36h2.56v2.56h-2.56zM100.42,647.38h2.56v2.56h-2.56zM107.94,647.38h2.56v2.56h-2.56zM107.94,649.89h2.56v2.56h-2.56zM100.42,657.42h5.07v2.56h-5.07zM165.65,669.96h2.56v2.56h-2.56zM163.14,682.51h2.56v2.56h-2.56zM125.51,685.02h2.56v2.56h-2.56zM140.56,685.02h2.56v2.56h-2.56zM100.42,687.52h5.07v2.56h-5.07zM87.87,690.03h2.56v2.56h-2.56zM130.52,690.03h2.56v2.56h-2.56zM145.58,690.03h2.56v2.56h-2.56zM148.09,695.05h2.56v2.56h-2.56zM158.12,697.56h2.56v2.56h-2.56zM165.65,697.56h2.56v2.56h-2.56zM170.67,697.56h2.56v2.56h-2.56zM180.70,697.56h2.56v2.56h-2.56zM85.36,700.07h2.56v2.56h-2.56zM102.92,700.07h2.56v2.56h-2.56zM125.51,700.07h2.56v2.56h-2.56zM180.70,700.07h2.56v2.56h-2.56zM75.33,705.09h2.56v2.56h-2.56zM102.92,710.11h2.56v2.56h-2.56zM150.60,710.11h2.56v2.56h-2.56zM135.54,712.62h2.56v2.56h-2.56zM100.42,715.12h2.56v2.56h-2.56zM75.33,720.14h2.56v2.56h-2.56zM90.38,722.65h2.56v2.56h-2.56zM153.11,722.65h2.56v2.56h-2.56zM185.72,722.65h2.56v2.56h-2.56zM143.07,727.67h2.56v2.56h-2.56zM105.43,732.69h2.56v2.56h-2.56zM120.49,732.69h2.56v2.56h-2.56zM138.05,732.69h2.56v2.56h-2.56zM92.89,735.20h2.56v2.56h-2.56zM75.33,737.70h2.56v2.56h-2.56zM82.85,737.70h2.56v2.56h-2.56zM97.91,740.21h2.56v2.56h-2.56zM55.25,742.72h2.56v2.56h-2.56zM60.27,742.72h2.56v2.56h-2.56zM97.91,742.72h2.56v2.56h-2.56zM65.29,745.23h2.56v2.56h-2.56zM65.29,747.74h2.56v2.56h-2.56zM97.91,747.74h2.56v2.56h-2.56zM105.43,752.76h2.56v2.56h-2.56zM112.96,755.27h2.56v2.56h-2.56zM160.63,757.78h2.56v2.56h-2.56zM110.45,760.29h2.56v2.56h-2.56zM123.00,762.79h2.56v2.56h-2.56zM123.00,765.30h2.56v2.56h-2.56zM133.03,767.81h2.56v2.56h-2.56zM165.65,767.81h2.56v2.56h-2.56zM128.01,777.85h2.56v2.56h-2.56z"/>
<path fill="#ff3030" d="M110.45,642.36h2.56v2.56h-2.56zM115.47,642.36h2.56v2.56h-2.56zM102.92,647.38h2.56v2.56h-2.56zM112.96,649.89h2.56v2.56h-2.56zM102.92,652.40h2.56v2.56h-2.56zM110.45,654.91h2.56v2.56h-2.56zM155.61,659.93h2.56v2.56h-2.56zM117.98,662.43h2.56v2.56h-2.56zM143.07,662.43h2.56v2.56h-2.56zM140.56,664.94h2.56v2.56h-2.56zM105.43,669.96h2.56v2.56h-2.56zM123.00,669.96h2.56v2.56h-2.56zM148.09,669.96h2.56v2.56h-2.56zM138.05,672.47h2.56v2.56h-2.56zM148.09,672.47h2.56v2.56h-2.56zM155.61,672.47h2.56v2.56h-2.56zM155.61,674.98h2.56v2.56h-2.56zM102.92,677.49h2.56v2.56h-2.56zM143.07,680.00h2.56v2.56h-2.56zM105.43,690.03h2.56v2.56h-2.56zM140.56,690.03h2.56v2.56h-2.56zM117.98,695.05h2.56v2.56h-2.56zM130.52,695.05h2.56v2.56h-2.56zM135.54,695.05h2.56v2.56h-2.56zM95.40,697.56h2.56v2.56h-2.56zM117.98,697.56h2.56v2.56h-2.56zM138.05,697.56h2.56v2.56h-2.56zM80.34,700.07h2.56v2.56h-2.56zM117.98,700.07h5.07v2.56h-5.07zM148.09,700.07h2.56v2.56h-2.56zM105.43,702.58h2.56v2.56h-2.56zM173.18,702.58h2.56v2.56h-2.56zM130.52,705.09h5.07v2.56h-5.07zM143.07,707.60h2.56v2.56h-2.56zM90.38,715.12h2.56v2.56h-2.56zM107.94,715.12h2.56v2.56h-2.56zM87.87,717.63h2.56v2.56h-2.56zM105.43,720.14h2.56v2.56h-2.56zM120.49,725.16h2.56v2.56h-2.56zM95.40,735.20h2.56v2.56h-2.56zM110.45,737.70h2.56v2.56h-2.56zM80.34,740.21h2.56v2.56h-2.56zM75.33,742.72h2.56v2.56h-2.56zM123.00,742.72h2.56v2.56h-2.56zM135.54,742.72h2.56v2.56h-2.56zM140.56,742.72h5.07v2.56h-5.07zM97.91,745.23h2.56v2.56h-2.56zM133.03,745.23h2.56v2.56h-2.56zM148.09,747.74h2.56v2.56h-2.56zM150.60,750.25h2.56v2.56h-2.56zM110.45,752.76h2.56v2.56h-2.56zM143.07,752.76h2.56v2.56h-2.56zM110.45,755.27h2.56v2.56h-2.56zM130.52,757.78h2.56v2.56h-2.56zM133.03,760.29h2.56v2.56h-2.56zM125.51,762.79h2.56v2.56h-2.56zM130.52,762.79h2.56v2.56h-2.56zM135.54,762.79h2.56v2.56h-2.56zM143.07,770.32h2.56v2.56h-2.56zM173.18,770.32h2.56v2.56h-2.56z"/>
<path fill="#ff5858" d="M112.96,642.36h2.56v2.56h-2.56zM143.07,652.40h2.56v2.56h-2.56zM155.61,662.43h2.56v2.56h-2.56zM138.05,667.45h2.56v2.56h-2.56zM145.58,667.45h2.56v2.56h-2.56zM163.14,672.47h2.56v2.56h-2.56zM85.36,685.02h2.56v2.56h-2.56zM123.00,685.02h2.56v2.56h-2.56zM148.09,687.52h2.56v2.56h-2.56zM125.51,690.03h2.56v2.56h-2.56zM70.31,692.54h2.56v2.56h-2.56zM75.33,692.54h2.56v2.56h-2.56zM105.43,692.54h2.56v2.56h-2.56zM143.07,692.54h2.56v2.56h-2.56zM123.00,695.05h2.56v2.56h-2.56zM140.56,695.05h2.56v2.56h-2.56zM100.42,697.56h2.56v2.56h-2.56zM105.43,700.07h2.56v2.56h-2.56zM143.07,700.07h5.07v2.56h-5.07zM150.60,700.07h2.56v2.56h-2.56zM85.36,702.58h2.56v2.56h-2.56zM160.63,702.58h2.56v2.56h-2.56zM175.69,702.58h2.56v2.56h-2.56zM158.12,705.09h2.56v2.56h-2.56zM170.67,705.09h2.56v2.56h-2.56zM138.05,712.62h2.56v2.56h-2.56zM138.05,715.12h2.56v2.56h-2.56zM143.07,717.63h2.56v2.56h-2.56zM77.84,720.14h2.56v2.56h-2.56zM80.34,722.65h2.56v2.56h-2.56zM77.84,725.16h2.56v2.56h-2.56zM82.85,725.16h2.56v2.56h-2.56zM87.87,725.16h2.56v2.56h-2.56zM153.11,725.16h2.56v2.56h-2.56zM185.72,725.16h2.56v2.56h-2.56zM125.51,732.69h2.56v2.56h-2.56zM67.80,740.21h2.56v2.56h-2.56zM62.78,742.72h2.56v2.56h-2.56zM102.92,742.72h2.56v2.56h-2.56zM110.45,745.23h2.56v2.56h-2.56zM67.80,747.74h2.56v2.56h-2.56zM85.36,747.74h2.56v2.56h-2.56zM107.94,747.74h2.56v2.56h-2.56zM140.56,747.74h2.56v2.56h-2.56zM168.16,747.74h2.56v2.56h-2.56zM128.01,750.25h2.56v2.56h-2.56zM170.67,752.76h2.56v2.56h-2.56zM168.16,755.27h2.56v2.56h-2.56zM143.07,757.78h2.56v2.56h-2.56zM163.14,757.78h5.07v2.56h-5.07zM107.94,760.29h2.56v2.56h-2.56zM185.72,760.29h2.56v2.56h-2.56zM133.03,762.79h2.56v2.56h-2.56zM185.72,762.79h2.56v2.56h-2.56zM175.69,770.32h2.56v2.56h-2.56zM135.54,775.34h2.56v2.56h-2.56z"/>
<path fill="#ff1818" d="M117.98,642.36h2.56v2.56h-2.56zM123.00,647.38h2.56v2.56h-2.56zM120.49,652.40h2.56v2.56h-2.56zM145.58,654.91h2.56v2.56h-2.56zM112.96,659.93h2.56v2.56h-2.56zM135.54,659.93h2.56v2.56h-2.56zM140.56,662.43h2.56v2.56h-2.56zM153.11,662.43h2.56v2.56h-2.56zM112.96,664.94h2.56v2.56h-2.56zM153.11,664.94h2.56v2.56h-2.56zM120.49,667.45h2.56v2.56h-2.56zM148.09,667.45h2.56v2.56h-2.56zM117.98,677.49h2.56v2.56h-2.56zM120.49,685.02h2.56v2.56h-2.56zM123.00,690.03h2.56v2.56h-2.56zM120.49,692.54h2.56v2.56h-2.56zM135.54,692.54h2.56v2.56h-2.56zM110.45,695.05h5.07v2.56h-5.07zM87.87,697.56h2.56v2.56h-2.56zM92.89,697.56h2.56v2.56h-2.56zM123.00,697.56h2.56v2.56h-2.56zM130.52,697.56h5.07v2.56h-5.07zM77.84,700.07h2.56v2.56h-2.56zM168.16,700.07h2.56v2.56h-2.56zM102.92,702.58h2.56v2.56h-2.56zM125.51,702.58h2.56v2.56h-2.56zM140.56,702.58h2.56v2.56h-2.56zM128.01,705.09h2.56v2.56h-2.56zM140.56,705.09h2.56v2.56h-2.56zM145.58,707.60h2.56v2.56h-2.56zM153.11,707.60h2.56v2.56h-2.56zM110.45,710.11h2.56v2.56h-2.56zM125.51,712.62h2.56v2.56h-2.56zM110.45,715.12h2.56v2.56h-2.56zM72.82,717.63h2.56v2.56h-2.56zM133.03,717.63h2.56v2.56h-2.56zM115.47,720.14h2.56v2.56h-2.56zM165.65,720.14h2.56v2.56h-2.56zM123.00,722.65h2.56v2.56h-2.56zM65.29,725.16h2.56v2.56h-2.56zM123.00,725.16h2.56v2.56h-2.56zM135.54,725.16h2.56v2.56h-2.56zM155.61,725.16h5.07v2.56h-5.07zM105.43,727.67h2.56v2.56h-2.56zM170.67,727.67h7.58v2.56h-7.58zM168.16,730.18h2.56v2.56h-2.56zM135.54,732.69h2.56v2.56h-2.56zM125.51,735.20h2.56v2.56h-2.56zM135.54,735.20h2.56v2.56h-2.56zM125.51,737.70h2.56v2.56h-2.56zM95.40,742.72h2.56v2.56h-2.56zM92.89,745.23h2.56v2.56h-2.56zM82.85,747.74h2.56v2.56h-2.56zM135.54,747.74h5.07v2.56h-5.07zM155.61,752.76h2.56v2.56h-2.56zM163.14,755.27h2.56v2.56h-2.56zM128.01,757.78h2.56v2.56h-2.56zM133.03,757.78h2.56v2.56h-2.56zM128.01,762.79h2.56v2.56h-2.56zM168.16,767.81h2.56v2.56h-2.56zM138.05,770.32h5.07v2.56h-5.07z"/>
<path fill="#ff3838" d="M120.49,642.36h2.56v2.56h-2.56zM112.96,644.87h2.56v2.56h-2.56zM120.49,647.38h2.56v2.56h-2.56zM130.52,652.40h2.56v2.56h-2.56zM110.45,659.93h2.56v2.56h-2.56zM143.07,672.47h2.56v2.56h-2.56zM158.12,672.47h2.56v2.56h-2.56zM128.01,677.49h2.56v2.56h-2.56zM90.38,685.02h2.56v2.56h-2.56zM105.43,687.52h2.56v2.56h-2.56zM102.92,690.03h2.56v2.56h-2.56zM133.03,695.05h2.56v2.56h-2.56zM67.80,697.56h2.56v2.56h-2.56zM85.36,697.56h2.56v2.56h-2.56zM110.45,697.56h5.07v2.56h-5.07zM120.49,697.56h2.56v2.56h-2.56zM178.19,697.56h2.56v2.56h-2.56zM173.18,700.07h7.58v2.56h-7.58zM70.31,702.58h2.56v2.56h-2.56zM107.94,702.58h5.07v2.56h-5.07zM128.01,702.58h2.56v2.56h-2.56zM180.70,702.58h2.56v2.56h-2.56zM138.05,705.09h2.56v2.56h-2.56zM130.52,707.60h2.56v2.56h-2.56zM105.43,710.11h2.56v2.56h-2.56zM128.01,715.12h2.56v2.56h-2.56zM57.76,717.63h2.56v2.56h-2.56zM80.34,717.63h2.56v2.56h-2.56zM135.54,717.63h2.56v2.56h-2.56zM143.07,720.14h2.56v2.56h-2.56zM150.60,720.14h2.56v2.56h-2.56zM110.45,722.65h2.56v2.56h-2.56zM155.61,722.65h2.56v2.56h-2.56zM180.70,722.65h2.56v2.56h-2.56zM100.42,725.16h2.56v2.56h-2.56zM143.07,725.16h2.56v2.56h-2.56zM190.74,725.16h2.56v2.56h-2.56zM75.33,727.67h2.56v2.56h-2.56zM95.40,727.67h2.56v2.56h-2.56zM100.42,727.67h2.56v2.56h-2.56zM160.63,727.67h2.56v2.56h-2.56zM173.18,730.18h2.56v2.56h-2.56zM107.94,732.69h2.56v2.56h-2.56zM190.74,732.69h2.56v2.56h-2.56zM112.96,735.20h2.56v2.56h-2.56zM117.98,735.20h2.56v2.56h-2.56zM117.98,737.70h5.07v2.56h-5.07zM70.31,740.21h2.56v2.56h-2.56zM115.47,742.72h2.56v2.56h-2.56zM128.01,742.72h2.56v2.56h-2.56zM95.40,745.23h2.56v2.56h-2.56zM102.92,745.23h2.56v2.56h-2.56zM130.52,745.23h2.56v2.56h-2.56zM140.56,745.23h2.56v2.56h-2.56zM160.63,755.27h2.56v2.56h-2.56zM125.51,757.78h2.56v2.56h-2.56zM130.52,760.29h2.56v2.56h-2.56zM140.56,762.79h2.56v2.56h-2.56zM165.65,762.79h2.56v2.56h-2.56zM138.05,765.30h2.56v2.56h-2.56zM143.07,765.30h2.56v2.56h-2.56zM133.03,770.32h2.56v2.56h-2.56z"/>
<path fill="#ff7070" d="M123.00,642.36h2.56v2.56h-2.56zM133.03,649.89h2.56v2.56h-2.56zM148.09,652.40h2.56v2.56h-2.56zM100.42,659.93h2.56v2.56h-2.56zM110.45,662.43h2.56v2.56h-2.56zM135.54,662.43h2.56v2.56h-2.56zM135.54,664.94h2.56v2.56h-2.56zM158.12,664.94h2.56v2.56h-2.56zM160.63,667.45h2.56v2.56h-2.56zM160.63,672.47h2.56v2.56h-2.56zM160.63,682.51h2.56v2.56h-2.56zM130.52,685.02h2.56v2.56h-2.56zM87.87,687.52h2.56v2.56h-2.56zM150.60,687.52h2.56v2.56h-2.56zM105.43,695.05h2.56v2.56h-2.56zM178.19,695.05h2.56v2.56h-2.56zM105.43,697.56h2.56v2.56h-2.56zM107.94,700.07h2.56v2.56h-2.56zM158.12,702.58h2.56v2.56h-2.56zM80.34,705.09h2.56v2.56h-2.56zM170.67,707.60h2.56v2.56h-2.56zM130.52,710.11h5.07v2.56h-5.07zM148.09,710.11h2.56v2.56h-2.56zM128.01,712.62h2.56v2.56h-2.56zM60.27,717.63h2.56v2.56h-2.56zM117.98,725.16h2.56v2.56h-2.56zM135.54,727.67h2.56v2.56h-2.56zM65.29,730.18h2.56v2.56h-2.56zM123.00,730.18h2.56v2.56h-2.56zM100.42,735.20h2.56v2.56h-2.56zM115.47,735.20h2.56v2.56h-2.56zM97.91,737.70h5.07v2.56h-5.07zM123.00,740.21h2.56v2.56h-2.56zM65.29,742.72h2.56v2.56h-2.56zM70.31,742.72h2.56v2.56h-2.56zM100.42,747.74h2.56v2.56h-2.56zM65.29,750.25h2.56v2.56h-2.56zM180.70,755.27h2.56v2.56h-2.56zM143.07,762.79h2.56v2.56h-2.56zM185.72,767.81h2.56v2.56h-2.56zM145.58,770.32h2.56v2.56h-2.56zM130.52,772.83h2.56v2.56h-2.56z"/>
<path fill="#ff4848" d="M125.51,642.36h2.56v2.56h-2.56zM105.43,647.38h2.56v2.56h-2.56zM110.45,652.40h2.56v2.56h-2.56zM130.52,654.91h2.56v2.56h-2.56zM125.51,657.42h2.56v2.56h-2.56zM153.11,657.42h2.56v2.56h-2.56zM140.56,669.96h2.56v2.56h-2.56zM158.12,669.96h2.56v2.56h-2.56zM150.60,672.47h2.56v2.56h-2.56zM148.09,677.49h2.56v2.56h-2.56zM128.01,680.00h2.56v2.56h-2.56zM92.89,685.02h2.56v2.56h-2.56zM123.00,687.52h2.56v2.56h-2.56zM148.09,690.03h2.56v2.56h-2.56zM102.92,692.54h2.56v2.56h-2.56zM130.52,692.54h2.56v2.56h-2.56zM125.51,695.05h2.56v2.56h-2.56zM138.05,695.05h2.56v2.56h-2.56zM97.91,700.07h2.56v2.56h-2.56zM155.61,700.07h2.56v2.56h-2.56zM100.42,702.58h2.56v2.56h-2.56zM117.98,702.58h2.56v2.56h-2.56zM155.61,702.58h2.56v2.56h-2.56zM163.14,702.58h2.56v2.56h-2.56zM168.16,702.58h2.56v2.56h-2.56zM178.19,705.09h2.56v2.56h-2.56zM135.54,707.60h2.56v2.56h-2.56zM75.33,715.12h2.56v2.56h-2.56zM85.36,715.12h2.56v2.56h-2.56zM97.91,715.12h2.56v2.56h-2.56zM55.25,720.14h2.56v2.56h-2.56zM82.85,720.14h2.56v2.56h-2.56zM155.61,720.14h2.56v2.56h-2.56zM107.94,722.65h2.56v2.56h-2.56zM117.98,722.65h2.56v2.56h-2.56zM80.34,725.16h2.56v2.56h-2.56zM112.96,725.16h2.56v2.56h-2.56zM193.25,725.16h2.56v2.56h-2.56zM120.49,727.67h2.56v2.56h-2.56zM115.47,730.18h2.56v2.56h-2.56zM112.96,732.69h2.56v2.56h-2.56zM117.98,732.69h2.56v2.56h-2.56zM120.49,735.20h2.56v2.56h-2.56zM80.34,737.70h2.56v2.56h-2.56zM87.87,737.70h2.56v2.56h-2.56zM123.00,737.70h2.56v2.56h-2.56zM110.45,742.72h2.56v2.56h-2.56zM57.76,745.23h2.56v2.56h-2.56zM128.01,745.23h2.56v2.56h-2.56zM165.65,745.23h2.56v2.56h-2.56zM60.27,747.74h2.56v2.56h-2.56zM130.52,747.74h2.56v2.56h-2.56zM173.18,752.76h2.56v2.56h-2.56zM130.52,755.27h2.56v2.56h-2.56zM170.67,755.27h2.56v2.56h-2.56zM178.19,757.78h2.56v2.56h-2.56zM165.65,760.29h2.56v2.56h-2.56zM133.03,765.30h2.56v2.56h-2.56zM165.65,765.30h2.56v2.56h-2.56z"/>
<path fill="#ff5050" d="M128.01,642.36h2.56v2.56h-2.56zM102.92,644.87h2.56v2.56h-2.56zM102.92,654.91h2.56v2.56h-2.56zM138.05,654.91h2.56v2.56h-2.56zM105.43,657.42h2.56v2.56h-2.56zM123.00,657.42h2.56v2.56h-2.56zM135.54,672.47h2.56v2.56h-2.56zM158.12,674.98h2.56v2.56h-2.56zM102.92,680.00h2.56v2.56h-2.56zM95.40,687.52h2.56v2.56h-2.56zM125.51,687.52h2.56v2.56h-2.56zM85.36,692.54h2.56v2.56h-2.56zM97.91,692.54h5.07v2.56h-5.07zM125.51,697.56h5.07v2.56h-5.07zM110.45,700.07h2.56v2.56h-2.56zM75.33,702.58h2.56v2.56h-2.56zM178.19,702.58h2.56v2.56h-2.56zM82.85,705.09h2.56v2.56h-2.56zM128.01,710.11h2.56v2.56h-2.56zM70.31,715.12h2.56v2.56h-2.56zM105.43,715.12h2.56v2.56h-2.56zM125.51,715.12h2.56v2.56h-2.56zM65.29,717.63h2.56v2.56h-2.56zM82.85,717.63h2.56v2.56h-2.56zM140.56,717.63h2.56v2.56h-2.56zM112.96,722.65h2.56v2.56h-2.56zM97.91,727.67h2.56v2.56h-2.56zM110.45,727.67h10.09v2.56h-10.09zM158.12,727.67h2.56v2.56h-2.56zM62.78,730.18h2.56v2.56h-2.56zM178.19,732.69h2.56v2.56h-2.56zM193.25,732.69h2.56v2.56h-2.56zM123.00,735.20h2.56v2.56h-2.56zM138.05,735.20h2.56v2.56h-2.56zM62.78,740.21h5.07v2.56h-5.07zM82.85,740.21h2.56v2.56h-2.56zM67.80,742.72h2.56v2.56h-2.56zM72.82,745.23h2.56v2.56h-2.56zM87.87,747.74h2.56v2.56h-2.56zM92.89,747.74h2.56v2.56h-2.56zM70.31,750.25h2.56v2.56h-2.56zM107.94,750.25h2.56v2.56h-2.56zM107.94,752.76h2.56v2.56h-2.56zM128.01,752.76h2.56v2.56h-2.56zM170.67,757.78h2.56v2.56h-2.56zM180.70,757.78h2.56v2.56h-2.56zM128.01,765.30h2.56v2.56h-2.56zM175.69,767.81h2.56v2.56h-2.56zM128.01,772.83h2.56v2.56h-2.56zM140.56,772.83h2.56v2.56h-2.56zM135.54,777.85h2.56v2.56h-2.56z"/>
<path fill="#ff8080" d="M130.52,642.36h2.56v2.56h-2.56zM133.03,647.38h2.56v2.56h-2.56zM107.94,659.93h2.56v2.56h-2.56zM150.60,674.98h2.56v2.56h-2.56zM163.14,674.98h2.56v2.56h-2.56zM155.61,677.49h2.56v2.56h-2.56zM87.87,682.51h2.56v2.56h-2.56zM155.61,682.51h2.56v2.56h-2.56zM90.38,690.03h2.56v2.56h-2.56zM138.05,692.54h2.56v2.56h-2.56zM148.09,692.54h2.56v2.56h-2.56zM65.29,695.05h2.56v2.56h-2.56zM100.42,695.05h5.07v2.56h-5.07zM143.07,695.05h2.56v2.56h-2.56zM107.94,697.56h2.56v2.56h-2.56zM143.07,697.56h2.56v2.56h-2.56zM72.82,705.09h2.56v2.56h-2.56zM82.85,707.60h2.56v2.56h-2.56zM158.12,707.60h2.56v2.56h-2.56zM163.14,707.60h2.56v2.56h-2.56zM173.18,707.60h2.56v2.56h-2.56zM130.52,712.62h2.56v2.56h-2.56zM133.03,715.12h2.56v2.56h-2.56zM55.25,717.63h2.56v2.56h-2.56zM185.72,720.14h2.56v2.56h-2.56zM85.36,722.65h2.56v2.56h-2.56zM150.60,722.65h2.56v2.56h-2.56zM183.21,722.65h2.56v2.56h-2.56zM188.23,722.65h2.56v2.56h-2.56zM90.38,725.16h2.56v2.56h-2.56zM195.76,725.16h2.56v2.56h-2.56zM110.45,730.18h2.56v2.56h-2.56zM138.05,730.18h2.56v2.56h-2.56zM102.92,732.69h2.56v2.56h-2.56zM110.45,732.69h2.56v2.56h-2.56zM140.56,732.69h2.56v2.56h-2.56zM102.92,735.20h2.56v2.56h-2.56zM85.36,737.70h2.56v2.56h-2.56zM145.58,737.70h2.56v2.56h-2.56zM60.27,745.23h2.56v2.56h-2.56zM115.47,745.23h2.56v2.56h-2.56zM70.31,747.74h2.56v2.56h-2.56zM105.43,747.74h2.56v2.56h-2.56zM67.80,750.25h2.56v2.56h-2.56zM143.07,750.25h2.56v2.56h-2.56zM178.19,755.27h2.56v2.56h-2.56zM183.21,755.27h2.56v2.56h-2.56zM123.00,760.29h2.56v2.56h-2.56zM130.52,765.30h2.56v2.56h-2.56zM130.52,770.32h2.56v2.56h-2.56zM125.51,772.83h2.56v2.56h-2.56zM133.03,780.36h5.07v2.56h-5.07z"/>
<path fill="#ffe0e0" d="M133.03,642.36h2.56v2.56h-2.56zM135.54,652.40h2.56v2.56h-2.56zM133.03,654.91h2.56v2.56h-2.56zM158.12,654.91h2.56v2.56h-2.56zM130.52,657.42h2.56v2.56h-2.56zM128.01,659.93h2.56v2.56h-2.56zM130.52,662.43h2.56v2.56h-2.56zM100.42,667.45h2.56v2.56h-2.56zM165.65,667.45h2.56v2.56h-2.56zM128.01,669.96h2.56v2.56h-2.56zM130.52,672.47h2.56v2.56h-2.56zM168.16,674.98h2.56v2.56h-2.56zM168.16,677.49h5.07v2.56h-5.07zM80.34,680.00h2.56v2.56h-2.56zM92.89,680.00h2.56v2.56h-2.56zM72.82,687.52h2.56v2.56h-2.56zM67.80,690.03h2.56v2.56h-2.56zM175.69,690.03h2.56v2.56h-2.56zM163.14,692.54h2.56v2.56h-2.56zM183.21,707.60h2.56v2.56h-2.56zM87.87,710.11h2.56v2.56h-2.56zM175.69,710.11h2.56v2.56h-2.56zM62.78,712.62h2.56v2.56h-2.56zM143.07,712.62h2.56v2.56h-2.56zM178.19,717.63h2.56v2.56h-2.56zM190.74,717.63h2.56v2.56h-2.56zM55.25,727.67h2.56v2.56h-2.56zM82.85,727.67h2.56v2.56h-2.56zM57.76,730.18h2.56v2.56h-2.56zM72.82,732.69h2.56v2.56h-2.56zM195.76,732.69h2.56v2.56h-2.56zM62.78,735.20h2.56v2.56h-2.56zM67.80,735.20h2.56v2.56h-2.56zM143.07,735.20h2.56v2.56h-2.56zM102.92,737.70h2.56v2.56h-2.56zM52.75,740.21h5.07v2.56h-5.07zM102.92,740.21h2.56v2.56h-2.56zM50.24,745.23h2.56v2.56h-2.56zM170.67,745.23h2.56v2.56h-2.56zM175.69,747.74h2.56v2.56h-2.56zM123.00,750.25h2.56v2.56h-2.56zM180.70,750.25h2.56v2.56h-2.56zM75.33,752.76h2.56v2.56h-2.56zM85.36,752.76h2.56v2.56h-2.56zM100.42,752.76h2.56v2.56h-2.56zM123.00,752.76h2.56v2.56h-2.56zM183.21,752.76h2.56v2.56h-2.56zM70.31,755.27h2.56v2.56h-2.56zM115.47,755.27h2.56v2.56h-2.56zM145.58,757.78h2.56v2.56h-2.56zM155.61,757.78h5.07v2.56h-5.07zM198.27,765.30h2.56v2.56h-2.56zM188.23,767.81h2.56v2.56h-2.56zM148.09,772.83h2.56v2.56h-2.56zM40.20,775.34h2.56v2.56h-2.56zM148.09,775.34h2.56v2.56h-2.56zM163.14,775.34h2.56v2.56h-2.56zM40.20,777.85h2.56v2.56h-2.56zM168.16,777.85h2.56v2.56h-2.56zM173.18,777.85h2.56v2.56h-2.56zM178.19,777.85h2.56v2.56h-2.56zM140.56,780.36h2.56v2.56h-2.56zM135.54,782.87h2.56v2.56h-2.56z"/>
<path fill="#ff6060" d="M105.43,644.87h2.56v2.56h-2.56zM158.12,662.43h2.56v2.56h-2.56zM138.05,664.94h2.56v2.56h-2.56zM165.65,672.47h2.56v2.56h-2.56zM128.01,674.98h2.56v2.56h-2.56zM133.03,674.98h2.56v2.56h-2.56zM82.85,685.02h2.56v2.56h-2.56zM87.87,685.02h2.56v2.56h-2.56zM90.38,687.52h2.56v2.56h-2.56zM97.91,687.52h2.56v2.56h-2.56zM92.89,690.03h7.58v2.56h-7.58zM143.07,690.03h2.56v2.56h-2.56zM123.00,692.54h2.56v2.56h-2.56zM92.89,695.05h5.07v2.56h-5.07zM140.56,697.56h2.56v2.56h-2.56zM67.80,702.58h2.56v2.56h-2.56zM135.54,705.09h2.56v2.56h-2.56zM180.70,705.09h2.56v2.56h-2.56zM85.36,707.60h2.56v2.56h-2.56zM135.54,715.12h2.56v2.56h-2.56zM85.36,720.14h2.56v2.56h-2.56zM148.09,720.14h2.56v2.56h-2.56zM75.33,722.65h2.56v2.56h-2.56zM148.09,722.65h2.56v2.56h-2.56zM150.60,725.16h2.56v2.56h-2.56zM77.84,727.67h2.56v2.56h-2.56zM112.96,730.18h2.56v2.56h-2.56zM123.00,732.69h2.56v2.56h-2.56zM180.70,732.69h2.56v2.56h-2.56zM107.94,735.20h2.56v2.56h-2.56zM115.47,737.70h2.56v2.56h-2.56zM100.42,742.72h2.56v2.56h-2.56zM120.49,745.23h2.56v2.56h-2.56zM115.47,747.74h2.56v2.56h-2.56zM110.45,750.25h7.58v2.56h-7.58zM178.19,752.76h2.56v2.56h-2.56zM143.07,755.27h2.56v2.56h-2.56zM175.69,757.78h2.56v2.56h-2.56zM143.07,760.29h2.56v2.56h-2.56zM170.67,760.29h2.56v2.56h-2.56zM178.19,762.79h2.56v2.56h-2.56zM185.72,765.30h2.56v2.56h-2.56zM178.19,772.83h2.56v2.56h-2.56zM170.67,775.34h2.56v2.56h-2.56zM130.52,780.36h2.56v2.56h-2.56z"/>
<path fill="#ff9090" d="M107.94,644.87h2.56v2.56h-2.56zM153.11,654.91h2.56v2.56h-2.56zM155.61,657.42h2.56v2.56h-2.56zM133.03,662.43h2.56v2.56h-2.56zM133.03,667.45h2.56v2.56h-2.56zM125.51,669.96h2.56v2.56h-2.56zM135.54,669.96h2.56v2.56h-2.56zM165.65,674.98h2.56v2.56h-2.56zM158.12,680.00h2.56v2.56h-2.56zM128.01,682.51h2.56v2.56h-2.56zM140.56,682.51h2.56v2.56h-2.56zM128.01,685.02h2.56v2.56h-2.56zM150.60,685.02h2.56v2.56h-2.56zM80.34,692.54h2.56v2.56h-2.56zM128.01,695.05h2.56v2.56h-2.56zM153.11,695.05h2.56v2.56h-2.56zM155.61,697.56h2.56v2.56h-2.56zM67.80,700.07h2.56v2.56h-2.56zM165.65,702.58h2.56v2.56h-2.56zM183.21,702.58h2.56v2.56h-2.56zM163.14,705.09h2.56v2.56h-2.56zM168.16,705.09h2.56v2.56h-2.56zM183.21,705.09h2.56v2.56h-2.56zM178.19,707.60h2.56v2.56h-2.56zM158.12,710.11h2.56v2.56h-2.56zM92.89,712.62h2.56v2.56h-2.56zM140.56,715.12h2.56v2.56h-2.56zM148.09,725.16h2.56v2.56h-2.56zM105.43,730.18h2.56v2.56h-2.56zM125.51,730.18h2.56v2.56h-2.56zM180.70,735.20h2.56v2.56h-2.56zM67.80,737.70h2.56v2.56h-2.56zM148.09,737.70h2.56v2.56h-2.56zM60.27,740.21h2.56v2.56h-2.56zM75.33,740.21h2.56v2.56h-2.56zM117.98,742.72h2.56v2.56h-2.56zM52.75,745.23h2.56v2.56h-2.56zM168.16,745.23h2.56v2.56h-2.56zM95.40,747.74h2.56v2.56h-2.56zM125.51,747.74h2.56v2.56h-2.56zM55.25,750.25h2.56v2.56h-2.56zM60.27,750.25h2.56v2.56h-2.56zM77.84,750.25h2.56v2.56h-2.56zM170.67,750.25h5.07v2.56h-5.07zM175.69,752.76h2.56v2.56h-2.56zM102.92,755.27h2.56v2.56h-2.56zM123.00,755.27h2.56v2.56h-2.56zM175.69,760.29h2.56v2.56h-2.56zM145.58,775.34h2.56v2.56h-2.56z"/>
<path fill="#ff4040" d="M110.45,644.87h2.56v2.56h-2.56zM105.43,652.40h2.56v2.56h-2.56zM145.58,652.40h2.56v2.56h-2.56zM107.94,654.91h2.56v2.56h-2.56zM135.54,657.42h2.56v2.56h-2.56zM145.58,664.94h2.56v2.56h-2.56zM140.56,667.45h2.56v2.56h-2.56zM133.03,677.49h2.56v2.56h-2.56zM145.58,677.49h2.56v2.56h-2.56zM125.51,682.51h2.56v2.56h-2.56zM92.89,687.52h2.56v2.56h-2.56zM100.42,690.03h2.56v2.56h-2.56zM115.47,690.03h2.56v2.56h-2.56zM140.56,692.54h2.56v2.56h-2.56zM90.38,695.05h2.56v2.56h-2.56zM82.85,697.56h2.56v2.56h-2.56zM97.91,697.56h2.56v2.56h-2.56zM175.69,697.56h2.56v2.56h-2.56zM70.31,700.07h2.56v2.56h-2.56zM100.42,700.07h2.56v2.56h-2.56zM140.56,700.07h2.56v2.56h-2.56zM72.82,702.58h2.56v2.56h-2.56zM80.34,702.58h2.56v2.56h-2.56zM138.05,702.58h2.56v2.56h-2.56zM170.67,702.58h2.56v2.56h-2.56zM175.69,705.09h2.56v2.56h-2.56zM133.03,707.60h2.56v2.56h-2.56zM107.94,712.62h2.56v2.56h-2.56zM72.82,715.12h2.56v2.56h-2.56zM67.80,717.63h2.56v2.56h-2.56zM90.38,720.14h2.56v2.56h-2.56zM107.94,720.14h2.56v2.56h-2.56zM183.21,725.16h2.56v2.56h-2.56zM117.98,730.18h5.07v2.56h-5.07zM175.69,732.69h2.56v2.56h-2.56zM185.72,732.69h2.56v2.56h-2.56zM140.56,735.20h2.56v2.56h-2.56zM72.82,740.21h2.56v2.56h-2.56zM95.40,740.21h2.56v2.56h-2.56zM110.45,740.21h2.56v2.56h-2.56zM72.82,742.72h2.56v2.56h-2.56zM85.36,742.72h2.56v2.56h-2.56zM55.25,745.23h2.56v2.56h-2.56zM57.76,750.25h2.56v2.56h-2.56zM130.52,752.76h2.56v2.56h-2.56zM153.11,752.76h2.56v2.56h-2.56zM175.69,755.27h2.56v2.56h-2.56zM168.16,757.78h2.56v2.56h-2.56zM183.21,757.78h2.56v2.56h-2.56zM168.16,760.29h2.56v2.56h-2.56zM168.16,765.30h2.56v2.56h-2.56zM145.58,772.83h2.56v2.56h-2.56z"/>
<path fill="#ff0808" d="M115.47,644.87h2.56v2.56h-2.56zM130.52,649.89h2.56v2.56h-2.56zM117.98,657.42h2.56v2.56h-2.56zM148.09,662.43h2.56v2.56h-2.56zM110.45,664.94h2.56v2.56h-2.56zM115.47,667.45h2.56v2.56h-2.56zM123.00,667.45h2.56v2.56h-2.56zM145.58,669.96h2.56v2.56h-2.56zM150.60,669.96h2.56v2.56h-2.56zM115.47,677.49h2.56v2.56h-2.56zM138.05,682.51h2.56v2.56h-2.56zM105.43,685.02h2.56v2.56h-2.56zM110.45,685.02h2.56v2.56h-2.56zM112.96,687.52h2.56v2.56h-2.56zM120.49,687.52h2.56v2.56h-2.56zM135.54,690.03h2.56v2.56h-2.56zM110.45,692.54h2.56v2.56h-2.56zM80.34,695.05h5.07v2.56h-5.07zM80.34,697.56h2.56v2.56h-2.56zM170.67,700.07h2.56v2.56h-2.56zM123.00,702.58h2.56v2.56h-2.56zM143.07,702.58h2.56v2.56h-2.56zM148.09,702.58h2.56v2.56h-2.56zM85.36,705.09h2.56v2.56h-2.56zM102.92,705.09h5.07v2.56h-5.07zM100.42,707.60h2.56v2.56h-2.56zM107.94,707.60h2.56v2.56h-2.56zM90.38,717.63h2.56v2.56h-2.56zM102.92,717.63h2.56v2.56h-2.56zM138.05,720.14h2.56v2.56h-2.56zM62.78,722.65h2.56v2.56h-2.56zM70.31,722.65h2.56v2.56h-2.56zM97.91,722.65h2.56v2.56h-2.56zM120.49,722.65h2.56v2.56h-2.56zM178.19,722.65h2.56v2.56h-2.56zM97.91,725.16h2.56v2.56h-2.56zM168.16,725.16h2.56v2.56h-2.56zM183.21,727.67h2.56v2.56h-2.56zM175.69,730.18h2.56v2.56h-2.56zM143.07,740.21h5.07v2.56h-5.07zM160.63,740.21h2.56v2.56h-2.56zM80.34,742.72h5.07v2.56h-5.07zM130.52,742.72h2.56v2.56h-2.56zM82.85,745.23h2.56v2.56h-2.56zM123.00,745.23h2.56v2.56h-2.56zM77.84,747.74h5.07v2.56h-5.07zM130.52,750.25h2.56v2.56h-2.56zM153.11,750.25h2.56v2.56h-2.56zM133.03,752.76h2.56v2.56h-2.56zM158.12,752.76h2.56v2.56h-2.56zM133.03,755.27h2.56v2.56h-2.56zM140.56,757.78h2.56v2.56h-2.56zM125.51,760.29h2.56v2.56h-2.56zM180.70,762.79h2.56v2.56h-2.56zM135.54,767.81h2.56v2.56h-2.56zM178.19,767.81h2.56v2.56h-2.56zM133.03,775.34h2.56v2.56h-2.56z"/>
<path fill="#f00808" d="M117.98,644.87h2.56v2.56h-2.56zM128.01,644.87h2.56v2.56h-2.56zM125.51,647.38h5.07v2.56h-5.07zM128.01,649.89h2.56v2.56h-2.56zM112.96,652.40h2.56v2.56h-2.56zM117.98,652.40h2.56v2.56h-2.56zM123.00,652.40h2.56v2.56h-2.56zM112.96,654.91h2.56v2.56h-2.56zM117.98,654.91h2.56v2.56h-2.56zM123.00,654.91h2.56v2.56h-2.56zM148.09,654.91h2.56v2.56h-2.56zM120.49,657.42h2.56v2.56h-2.56zM143.07,657.42h2.56v2.56h-2.56zM115.47,659.93h2.56v2.56h-2.56zM138.05,659.93h2.56v2.56h-2.56zM143.07,659.93h7.58v2.56h-7.58zM150.60,662.43h2.56v2.56h-2.56zM117.98,664.94h2.56v2.56h-2.56zM107.94,667.45h5.07v2.56h-5.07zM117.98,667.45h2.56v2.56h-2.56zM120.49,669.96h2.56v2.56h-2.56zM153.11,669.96h2.56v2.56h-2.56zM117.98,672.47h2.56v2.56h-2.56zM123.00,672.47h2.56v2.56h-2.56zM153.11,672.47h2.56v2.56h-2.56zM140.56,674.98h7.58v2.56h-7.58zM112.96,677.49h2.56v2.56h-2.56zM125.51,677.49h2.56v2.56h-2.56zM105.43,680.00h2.56v2.56h-2.56zM120.49,680.00h5.07v2.56h-5.07zM140.56,680.00h2.56v2.56h-2.56zM105.43,682.51h2.56v2.56h-2.56zM115.47,682.51h2.56v2.56h-2.56zM135.54,682.51h2.56v2.56h-2.56zM117.98,685.02h2.56v2.56h-2.56zM135.54,685.02h2.56v2.56h-2.56zM110.45,687.52h2.56v2.56h-2.56zM115.47,687.52h5.07v2.56h-5.07zM135.54,687.52h2.56v2.56h-2.56zM143.07,687.52h2.56v2.56h-2.56zM107.94,690.03h5.07v2.56h-5.07zM107.94,692.54h2.56v2.56h-2.56zM70.31,697.56h2.56v2.56h-2.56zM90.38,697.56h2.56v2.56h-2.56zM72.82,700.07h2.56v2.56h-2.56zM90.38,700.07h7.58v2.56h-7.58zM90.38,702.58h7.58v2.56h-7.58zM112.96,702.58h5.07v2.56h-5.07zM153.11,702.58h2.56v2.56h-2.56zM92.89,705.09h2.56v2.56h-2.56zM125.51,705.09h2.56v2.56h-2.56zM143.07,705.09h2.56v2.56h-2.56zM153.11,705.09h2.56v2.56h-2.56zM97.91,707.60h2.56v2.56h-2.56zM110.45,707.60h2.56v2.56h-2.56zM115.47,707.60h2.56v2.56h-2.56zM125.51,707.60h2.56v2.56h-2.56zM112.96,710.11h7.58v2.56h-7.58zM92.89,715.12h2.56v2.56h-2.56zM120.49,715.12h2.56v2.56h-2.56zM97.91,717.63h2.56v2.56h-2.56zM110.45,717.63h2.56v2.56h-2.56zM120.49,717.63h2.56v2.56h-2.56zM57.76,720.14h2.56v2.56h-2.56zM70.31,720.14h2.56v2.56h-2.56zM95.40,720.14h2.56v2.56h-2.56zM110.45,720.14h2.56v2.56h-2.56zM120.49,720.14h5.07v2.56h-5.07zM140.56,720.14h2.56v2.56h-2.56zM158.12,720.14h2.56v2.56h-2.56zM163.14,720.14h2.56v2.56h-2.56zM173.18,720.14h5.07v2.56h-5.07zM65.29,722.65h5.07v2.56h-5.07zM100.42,722.65h5.07v2.56h-5.07zM125.51,722.65h2.56v2.56h-2.56zM60.27,725.16h2.56v2.56h-2.56zM95.40,725.16h2.56v2.56h-2.56zM102.92,725.16h5.07v2.56h-5.07zM125.51,725.16h2.56v2.56h-2.56zM170.67,725.16h12.60v2.56h-12.60zM128.01,727.67h2.56v2.56h-2.56zM178.19,727.67h2.56v2.56h-2.56zM133.03,730.18h2.56v2.56h-2.56zM180.70,730.18h7.58v2.56h-7.58zM190.74,730.18h2.56v2.56h-2.56zM130.52,735.20h5.07v2.56h-5.07zM92.89,737.70h5.07v2.56h-5.07zM128.01,737.70h2.56v2.56h-2.56zM135.54,737.70h5.07v2.56h-5.07zM92.89,740.21h2.56v2.56h-2.56zM112.96,740.21h2.56v2.56h-2.56zM128.01,740.21h2.56v2.56h-2.56zM133.03,740.21h5.07v2.56h-5.07zM148.09,740.21h5.07v2.56h-5.07zM87.87,742.72h2.56v2.56h-2.56zM92.89,742.72h2.56v2.56h-2.56zM85.36,745.23h7.58v2.56h-7.58zM135.54,752.76h2.56v2.56h-2.56zM128.01,760.29h2.56v2.56h-2.56zM138.05,760.29h2.56v2.56h-2.56zM183.21,760.29h2.56v2.56h-2.56zM183.21,762.79h2.56v2.56h-2.56zM183.21,765.30h2.56v2.56h-2.56zM183.21,767.81h2.56v2.56h-2.56z"/>
<path fill="#e80000" d="M120.49,644.87h2.56v2.56h-2.56zM125.51,649.89h2.56v2.56h-2.56zM128.01,652.40h2.56v2.56h-2.56zM143.07,654.91h2.56v2.56h-2.56zM145.58,657.42h5.07v2.56h-5.07zM150.60,659.93h2.56v2.56h-2.56zM112.96,667.45h2.56v2.56h-2.56zM110.45,669.96h5.07v2.56h-5.07zM117.98,669.96h2.56v2.56h-2.56zM112.96,672.47h2.56v2.56h-2.56zM120.49,672.47h2.56v2.56h-2.56zM110.45,674.98h2.56v2.56h-2.56zM115.47,674.98h5.07v2.56h-5.07zM125.51,674.98h2.56v2.56h-2.56zM138.05,674.98h2.56v2.56h-2.56zM105.43,677.49h2.56v2.56h-2.56zM120.49,677.49h5.07v2.56h-5.07zM135.54,677.49h7.58v2.56h-7.58zM112.96,680.00h2.56v2.56h-2.56zM135.54,680.00h2.56v2.56h-2.56zM117.98,682.51h2.56v2.56h-2.56zM112.96,685.02h2.56v2.56h-2.56zM138.05,685.02h2.56v2.56h-2.56zM138.05,687.52h2.56v2.56h-2.56zM95.40,705.09h7.58v2.56h-7.58zM110.45,705.09h2.56v2.56h-2.56zM115.47,705.09h7.58v2.56h-7.58zM145.58,705.09h2.56v2.56h-2.56zM102.92,707.60h2.56v2.56h-2.56zM117.98,707.60h2.56v2.56h-2.56zM120.49,710.11h5.07v2.56h-5.07zM115.47,712.62h7.58v2.56h-7.58zM117.98,715.12h2.56v2.56h-2.56zM112.96,717.63h2.56v2.56h-2.56zM117.98,717.63h2.56v2.56h-2.56zM97.91,720.14h7.58v2.56h-7.58zM128.01,720.14h2.56v2.56h-2.56zM170.67,720.14h2.56v2.56h-2.56zM57.76,722.65h5.07v2.56h-5.07zM135.54,722.65h2.56v2.56h-2.56zM140.56,722.65h2.56v2.56h-2.56zM158.12,722.65h2.56v2.56h-2.56zM163.14,722.65h7.58v2.56h-7.58zM173.18,722.65h5.07v2.56h-5.07zM163.14,725.16h5.07v2.56h-5.07zM130.52,730.18h2.56v2.56h-2.56zM130.52,732.69h2.56v2.56h-2.56zM128.01,735.20h2.56v2.56h-2.56zM90.38,737.70h2.56v2.56h-2.56zM130.52,737.70h2.56v2.56h-2.56zM140.56,737.70h2.56v2.56h-2.56zM90.38,740.21h2.56v2.56h-2.56zM130.52,740.21h2.56v2.56h-2.56zM153.11,740.21h5.07v2.56h-5.07zM90.38,742.72h2.56v2.56h-2.56zM77.84,745.23h5.07v2.56h-5.07zM165.65,747.74h2.56v2.56h-2.56zM155.61,750.25h5.07v2.56h-5.07zM138.05,752.76h2.56v2.56h-2.56zM163.14,752.76h2.56v2.56h-2.56z"/>
<path fill="#ff2020" d="M123.00,644.87h2.56v2.56h-2.56zM115.47,647.38h2.56v2.56h-2.56zM105.43,649.89h2.56v2.56h-2.56zM123.00,649.89h2.56v2.56h-2.56zM153.11,659.93h2.56v2.56h-2.56zM115.47,664.94h2.56v2.56h-2.56zM148.09,664.94h2.56v2.56h-2.56zM155.61,664.94h2.56v2.56h-2.56zM105.43,667.45h2.56v2.56h-2.56zM143.07,667.45h2.56v2.56h-2.56zM150.60,667.45h2.56v2.56h-2.56zM155.61,667.45h5.07v2.56h-5.07zM138.05,669.96h2.56v2.56h-2.56zM143.07,669.96h2.56v2.56h-2.56zM155.61,669.96h2.56v2.56h-2.56zM125.51,672.47h2.56v2.56h-2.56zM140.56,672.47h2.56v2.56h-2.56zM145.58,672.47h2.56v2.56h-2.56zM148.09,674.98h2.56v2.56h-2.56zM133.03,685.02h2.56v2.56h-2.56zM145.58,687.52h2.56v2.56h-2.56zM72.82,692.54h2.56v2.56h-2.56zM112.96,692.54h2.56v2.56h-2.56zM133.03,692.54h2.56v2.56h-2.56zM72.82,695.05h2.56v2.56h-2.56zM72.82,697.56h5.07v2.56h-5.07zM115.47,700.07h2.56v2.56h-2.56zM128.01,700.07h5.07v2.56h-5.07zM135.54,700.07h2.56v2.56h-2.56zM87.87,702.58h2.56v2.56h-2.56zM97.91,702.58h2.56v2.56h-2.56zM133.03,702.58h2.56v2.56h-2.56zM150.60,702.58h2.56v2.56h-2.56zM87.87,705.09h2.56v2.56h-2.56zM150.60,705.09h2.56v2.56h-2.56zM155.61,705.09h2.56v2.56h-2.56zM160.63,705.09h2.56v2.56h-2.56zM92.89,707.60h2.56v2.56h-2.56zM123.00,715.12h2.56v2.56h-2.56zM70.31,717.63h2.56v2.56h-2.56zM75.33,717.63h5.07v2.56h-5.07zM128.01,717.63h2.56v2.56h-2.56zM138.05,717.63h2.56v2.56h-2.56zM67.80,720.14h2.56v2.56h-2.56zM72.82,720.14h2.56v2.56h-2.56zM80.34,720.14h2.56v2.56h-2.56zM92.89,720.14h2.56v2.56h-2.56zM178.19,720.14h2.56v2.56h-2.56zM105.43,722.65h2.56v2.56h-2.56zM67.80,725.16h5.07v2.56h-5.07zM107.94,725.16h5.07v2.56h-5.07zM160.63,725.16h2.56v2.56h-2.56zM62.78,727.67h5.07v2.56h-5.07zM193.25,727.67h2.56v2.56h-2.56zM170.67,730.18h2.56v2.56h-2.56zM128.01,732.69h2.56v2.56h-2.56zM115.47,740.21h2.56v2.56h-2.56zM138.05,740.21h5.07v2.56h-5.07zM125.51,742.72h2.56v2.56h-2.56zM133.03,742.72h2.56v2.56h-2.56zM138.05,742.72h2.56v2.56h-2.56zM145.58,742.72h2.56v2.56h-2.56zM125.51,745.23h2.56v2.56h-2.56zM128.01,747.74h2.56v2.56h-2.56zM133.03,750.25h2.56v2.56h-2.56zM140.56,750.25h2.56v2.56h-2.56zM168.16,752.76h2.56v2.56h-2.56zM107.94,755.27h2.56v2.56h-2.56zM107.94,757.78h2.56v2.56h-2.56zM135.54,760.29h2.56v2.56h-2.56zM138.05,762.79h2.56v2.56h-2.56zM178.19,765.30h2.56v2.56h-2.56zM138.05,767.81h2.56v2.56h-2.56zM143.07,767.81h2.56v2.56h-2.56zM135.54,770.32h2.56v2.56h-2.56zM133.03,772.83h5.07v2.56h-5.07zM143.07,772.83h2.56v2.56h-2.56zM130.52,777.85h2.56v2.56h-2.56z"/>
<path fill="#ff2828" d="M125.51,644.87h2.56v2.56h-2.56zM117.98,647.38h2.56v2.56h-2.56zM117.98,649.89h5.07v2.56h-5.07zM107.94,652.40h2.56v2.56h-2.56zM105.43,654.91h2.56v2.56h-2.56zM120.49,654.91h2.56v2.56h-2.56zM128.01,654.91h2.56v2.56h-2.56zM110.45,657.42h2.56v2.56h-2.56zM112.96,662.43h2.56v2.56h-2.56zM138.05,662.43h2.56v2.56h-2.56zM145.58,662.43h2.56v2.56h-2.56zM143.07,664.94h2.56v2.56h-2.56zM153.11,674.98h2.56v2.56h-2.56zM143.07,677.49h2.56v2.56h-2.56zM115.47,680.00h2.56v2.56h-2.56zM125.51,680.00h2.56v2.56h-2.56zM120.49,682.51h2.56v2.56h-2.56zM133.03,682.51h2.56v2.56h-2.56zM133.03,687.52h2.56v2.56h-2.56zM117.98,690.03h5.07v2.56h-5.07zM133.03,690.03h2.56v2.56h-2.56zM138.05,690.03h2.56v2.56h-2.56zM67.80,695.05h5.07v2.56h-5.07zM75.33,695.05h2.56v2.56h-2.56zM87.87,695.05h2.56v2.56h-2.56zM115.47,695.05h2.56v2.56h-2.56zM77.84,697.56h2.56v2.56h-2.56zM112.96,700.07h2.56v2.56h-2.56zM133.03,700.07h2.56v2.56h-2.56zM138.05,700.07h2.56v2.56h-2.56zM153.11,700.07h2.56v2.56h-2.56zM77.84,702.58h2.56v2.56h-2.56zM82.85,702.58h2.56v2.56h-2.56zM120.49,702.58h2.56v2.56h-2.56zM135.54,702.58h2.56v2.56h-2.56zM173.18,705.09h2.56v2.56h-2.56zM90.38,707.60h2.56v2.56h-2.56zM148.09,707.60h5.07v2.56h-5.07zM155.61,707.60h2.56v2.56h-2.56zM107.94,710.11h2.56v2.56h-2.56zM85.36,717.63h2.56v2.56h-2.56zM125.51,717.63h2.56v2.56h-2.56zM130.52,717.63h2.56v2.56h-2.56zM62.78,720.14h5.07v2.56h-5.07zM112.96,720.14h2.56v2.56h-2.56zM55.25,722.65h2.56v2.56h-2.56zM95.40,722.65h2.56v2.56h-2.56zM143.07,722.65h2.56v2.56h-2.56zM57.76,725.16h2.56v2.56h-2.56zM75.33,725.16h2.56v2.56h-2.56zM188.23,725.16h2.56v2.56h-2.56zM107.94,727.67h2.56v2.56h-2.56zM123.00,727.67h5.07v2.56h-5.07zM163.14,727.67h2.56v2.56h-2.56zM185.72,727.67h2.56v2.56h-2.56zM135.54,730.18h2.56v2.56h-2.56zM183.21,732.69h2.56v2.56h-2.56zM110.45,735.20h2.56v2.56h-2.56zM87.87,740.21h2.56v2.56h-2.56zM112.96,742.72h2.56v2.56h-2.56zM100.42,745.23h2.56v2.56h-2.56zM105.43,745.23h2.56v2.56h-2.56zM57.76,747.74h2.56v2.56h-2.56zM90.38,747.74h2.56v2.56h-2.56zM133.03,747.74h2.56v2.56h-2.56zM168.16,750.25h2.56v2.56h-2.56zM158.12,755.27h2.56v2.56h-2.56zM110.45,757.78h2.56v2.56h-2.56zM140.56,765.30h2.56v2.56h-2.56zM170.67,767.81h5.07v2.56h-5.07zM183.21,770.32h2.56v2.56h-2.56zM130.52,775.34h2.56v2.56h-2.56zM133.03,777.85h2.56v2.56h-2.56z"/>
<path fill="#ff1010" d="M130.52,644.87h2.56v2.56h-2.56zM130.52,647.38h2.56v2.56h-2.56zM150.60,654.91h2.56v2.56h-2.56zM112.96,657.42h2.56v2.56h-2.56zM117.98,659.93h2.56v2.56h-2.56zM140.56,659.93h2.56v2.56h-2.56zM115.47,662.43h2.56v2.56h-2.56zM153.11,667.45h2.56v2.56h-2.56zM105.43,672.47h2.56v2.56h-2.56zM135.54,674.98h2.56v2.56h-2.56zM117.98,680.00h2.56v2.56h-2.56zM133.03,680.00h2.56v2.56h-2.56zM123.00,682.51h2.56v2.56h-2.56zM112.96,690.03h2.56v2.56h-2.56zM77.84,695.05h2.56v2.56h-2.56zM85.36,695.05h2.56v2.56h-2.56zM107.94,695.05h2.56v2.56h-2.56zM120.49,695.05h2.56v2.56h-2.56zM115.47,697.56h2.56v2.56h-2.56zM135.54,697.56h2.56v2.56h-2.56zM75.33,700.07h2.56v2.56h-2.56zM130.52,702.58h2.56v2.56h-2.56zM145.58,702.58h2.56v2.56h-2.56zM107.94,705.09h2.56v2.56h-2.56zM95.40,707.60h2.56v2.56h-2.56zM128.01,707.60h2.56v2.56h-2.56zM125.51,710.11h2.56v2.56h-2.56zM123.00,712.62h2.56v2.56h-2.56zM95.40,715.12h2.56v2.56h-2.56zM105.43,717.63h5.07v2.56h-5.07zM117.98,720.14h2.56v2.56h-2.56zM125.51,720.14h2.56v2.56h-2.56zM168.16,720.14h2.56v2.56h-2.56zM72.82,722.65h2.56v2.56h-2.56zM138.05,722.65h2.56v2.56h-2.56zM72.82,725.16h2.56v2.56h-2.56zM138.05,725.16h2.56v2.56h-2.56zM60.27,727.67h2.56v2.56h-2.56zM133.03,727.67h2.56v2.56h-2.56zM168.16,727.67h2.56v2.56h-2.56zM188.23,727.67h5.07v2.56h-5.07zM128.01,730.18h2.56v2.56h-2.56zM178.19,730.18h2.56v2.56h-2.56zM193.25,730.18h2.56v2.56h-2.56zM133.03,732.69h2.56v2.56h-2.56zM188.23,732.69h2.56v2.56h-2.56zM112.96,737.70h2.56v2.56h-2.56zM143.07,737.70h2.56v2.56h-2.56zM77.84,742.72h2.56v2.56h-2.56zM148.09,742.72h2.56v2.56h-2.56zM75.33,745.23h2.56v2.56h-2.56zM148.09,745.23h2.56v2.56h-2.56zM75.33,747.74h2.56v2.56h-2.56zM140.56,755.27h2.56v2.56h-2.56zM165.65,755.27h2.56v2.56h-2.56zM135.54,757.78h2.56v2.56h-2.56zM140.56,760.29h2.56v2.56h-2.56zM135.54,765.30h2.56v2.56h-2.56zM140.56,767.81h2.56v2.56h-2.56zM168.16,772.83h5.07v2.56h-5.07z"/>
<path fill="#ff9898" d="M110.45,647.38h2.56v2.56h-2.56zM133.03,652.40h2.56v2.56h-2.56zM135.54,654.91h2.56v2.56h-2.56zM128.01,657.42h2.56v2.56h-2.56zM158.12,657.42h2.56v2.56h-2.56zM120.49,659.93h2.56v2.56h-2.56zM133.03,659.93h2.56v2.56h-2.56zM102.92,662.43h2.56v2.56h-2.56zM102.92,664.94h2.56v2.56h-2.56zM120.49,664.94h2.56v2.56h-2.56zM130.52,680.00h2.56v2.56h-2.56zM148.09,680.00h2.56v2.56h-2.56zM82.85,682.51h2.56v2.56h-2.56zM165.65,682.51h2.56v2.56h-2.56zM130.52,687.52h2.56v2.56h-2.56zM67.80,692.54h2.56v2.56h-2.56zM77.84,692.54h2.56v2.56h-2.56zM150.60,695.05h2.56v2.56h-2.56zM65.29,697.56h2.56v2.56h-2.56zM168.16,697.56h2.56v2.56h-2.56zM158.12,700.07h2.56v2.56h-2.56zM175.69,707.60h2.56v2.56h-2.56zM140.56,712.62h2.56v2.56h-2.56zM77.84,722.65h2.56v2.56h-2.56zM115.47,722.65h2.56v2.56h-2.56zM57.76,727.67h2.56v2.56h-2.56zM67.80,727.67h2.56v2.56h-2.56zM107.94,730.18h2.56v2.56h-2.56zM168.16,732.69h5.07v2.56h-5.07zM185.72,735.20h2.56v2.56h-2.56zM72.82,737.70h2.56v2.56h-2.56zM77.84,737.70h2.56v2.56h-2.56zM57.76,740.21h2.56v2.56h-2.56zM100.42,740.21h2.56v2.56h-2.56zM120.49,740.21h2.56v2.56h-2.56zM105.43,742.72h2.56v2.56h-2.56zM70.31,745.23h2.56v2.56h-2.56zM102.92,747.74h2.56v2.56h-2.56zM143.07,747.74h2.56v2.56h-2.56zM62.78,750.25h2.56v2.56h-2.56zM72.82,750.25h2.56v2.56h-2.56zM80.34,750.25h2.56v2.56h-2.56zM105.43,750.25h2.56v2.56h-2.56zM148.09,750.25h2.56v2.56h-2.56zM115.47,752.76h2.56v2.56h-2.56zM155.61,755.27h2.56v2.56h-2.56zM173.18,757.78h2.56v2.56h-2.56zM145.58,765.30h2.56v2.56h-2.56zM180.70,772.83h2.56v2.56h-2.56zM138.05,775.34h2.56v2.56h-2.56z"/>
<path fill="#ffc0c0" d="M97.91,649.89h2.56v2.56h-2.56zM133.03,657.42h2.56v2.56h-2.56zM160.63,659.93h2.56v2.56h-2.56zM100.42,662.43h2.56v2.56h-2.56zM105.43,662.43h2.56v2.56h-2.56zM102.92,667.45h2.56v2.56h-2.56zM128.01,667.45h2.56v2.56h-2.56zM130.52,669.96h2.56v2.56h-2.56zM160.63,677.49h2.56v2.56h-2.56zM95.40,682.51h2.56v2.56h-2.56zM168.16,682.51h2.56v2.56h-2.56zM100.42,685.02h2.56v2.56h-2.56zM143.07,685.02h2.56v2.56h-2.56zM70.31,690.03h2.56v2.56h-2.56zM82.85,690.03h5.07v2.56h-5.07zM65.29,692.54h2.56v2.56h-2.56zM163.14,697.56h2.56v2.56h-2.56zM75.33,707.60h2.56v2.56h-2.56zM90.38,710.11h2.56v2.56h-2.56zM77.84,712.62h5.07v2.56h-5.07zM65.29,715.12h2.56v2.56h-2.56zM175.69,717.63h2.56v2.56h-2.56zM87.87,727.67h2.56v2.56h-2.56zM150.60,727.67h2.56v2.56h-2.56zM77.84,730.18h2.56v2.56h-2.56zM95.40,730.18h5.07v2.56h-5.07zM82.85,735.20h2.56v2.56h-2.56zM60.27,737.70h2.56v2.56h-2.56zM155.61,737.70h2.56v2.56h-2.56zM143.07,745.23h2.56v2.56h-2.56zM123.00,747.74h2.56v2.56h-2.56zM52.75,750.25h2.56v2.56h-2.56zM92.89,750.25h2.56v2.56h-2.56zM97.91,750.25h2.56v2.56h-2.56zM145.58,750.25h2.56v2.56h-2.56zM150.60,752.76h2.56v2.56h-2.56zM62.78,755.27h2.56v2.56h-2.56zM102.92,757.78h2.56v2.56h-2.56zM112.96,760.29h2.56v2.56h-2.56zM160.63,760.29h2.56v2.56h-2.56zM148.09,765.30h2.56v2.56h-2.56zM188.23,765.30h2.56v2.56h-2.56zM148.09,770.32h2.56v2.56h-2.56zM180.70,775.34h2.56v2.56h-2.56zM140.56,777.85h7.58v2.56h-7.58z"/>
<path fill="#0860e8" d="M102.92,649.89h2.56v2.56h-2.56zM160.63,765.30h2.56v2.56h-2.56zM123.00,767.81h2.56v2.56h-2.56z"/>
<path fill="#f00000" d="M115.47,649.89h2.56v2.56h-2.56zM125.51,652.40h2.56v2.56h-2.56zM125.51,654.91h2.56v2.56h-2.56zM140.56,654.91h2.56v2.56h-2.56zM115.47,657.42h2.56v2.56h-2.56zM138.05,657.42h5.07v2.56h-5.07zM150.60,657.42h2.56v2.56h-2.56zM120.49,674.98h2.56v2.56h-2.56zM107.94,685.02h2.56v2.56h-2.56zM107.94,687.52h2.56v2.56h-2.56zM140.56,687.52h2.56v2.56h-2.56zM90.38,705.09h2.56v2.56h-2.56zM112.96,705.09h2.56v2.56h-2.56zM148.09,705.09h2.56v2.56h-2.56zM105.43,707.60h2.56v2.56h-2.56zM110.45,712.62h2.56v2.56h-2.56zM112.96,715.12h2.56v2.56h-2.56zM100.42,717.63h2.56v2.56h-2.56zM115.47,717.63h2.56v2.56h-2.56zM123.00,717.63h2.56v2.56h-2.56zM135.54,720.14h2.56v2.56h-2.56zM62.78,725.16h2.56v2.56h-2.56zM133.03,725.16h2.56v2.56h-2.56zM140.56,725.16h2.56v2.56h-2.56zM165.65,727.67h2.56v2.56h-2.56zM180.70,727.67h2.56v2.56h-2.56zM133.03,737.70h2.56v2.56h-2.56zM165.65,750.25h2.56v2.56h-2.56zM140.56,752.76h2.56v2.56h-2.56zM165.65,752.76h2.56v2.56h-2.56zM138.05,755.27h2.56v2.56h-2.56zM138.05,757.78h2.56v2.56h-2.56z"/>
<path fill="#ffb8b8" d="M100.42,652.40h2.56v2.56h-2.56zM155.61,654.91h2.56v2.56h-2.56zM160.63,662.43h2.56v2.56h-2.56zM125.51,664.94h2.56v2.56h-2.56zM163.14,667.45h2.56v2.56h-2.56zM133.03,672.47h2.56v2.56h-2.56zM153.11,682.51h2.56v2.56h-2.56zM148.09,685.02h2.56v2.56h-2.56zM158.12,685.02h5.07v2.56h-5.07zM153.11,687.52h5.07v2.56h-5.07zM160.63,687.52h2.56v2.56h-2.56zM75.33,690.03h2.56v2.56h-2.56zM155.61,692.54h2.56v2.56h-2.56zM148.09,697.56h5.07v2.56h-5.07zM183.21,697.56h2.56v2.56h-2.56zM183.21,700.07h2.56v2.56h-2.56zM67.80,705.09h2.56v2.56h-2.56zM77.84,707.60h2.56v2.56h-2.56zM165.65,707.60h2.56v2.56h-2.56zM173.18,710.11h2.56v2.56h-2.56zM85.36,712.62h2.56v2.56h-2.56zM90.38,712.62h2.56v2.56h-2.56zM148.09,717.63h2.56v2.56h-2.56zM160.63,717.63h2.56v2.56h-2.56zM183.21,720.14h2.56v2.56h-2.56zM145.58,722.65h2.56v2.56h-2.56zM75.33,730.18h2.56v2.56h-2.56zM195.76,730.18h2.56v2.56h-2.56zM95.40,732.69h5.07v2.56h-5.07zM72.82,735.20h2.56v2.56h-2.56zM178.19,735.20h2.56v2.56h-2.56zM120.49,747.74h2.56v2.56h-2.56zM175.69,750.25h2.56v2.56h-2.56zM102.92,752.76h2.56v2.56h-2.56zM57.76,755.27h2.56v2.56h-2.56zM120.49,757.78h2.56v2.56h-2.56zM163.14,765.30h2.56v2.56h-2.56zM123.00,770.32h2.56v2.56h-2.56zM140.56,775.34h2.56v2.56h-2.56zM165.65,775.34h2.56v2.56h-2.56zM138.05,777.85h2.56v2.56h-2.56zM138.05,780.36h2.56v2.56h-2.56z"/>
<path fill="#e00000" d="M115.47,652.40h2.56v2.56h-2.56zM115.47,669.96h2.56v2.56h-2.56zM107.94,672.47h2.56v2.56h-2.56zM115.47,672.47h2.56v2.56h-2.56zM112.96,674.98h2.56v2.56h-2.56zM107.94,680.00h2.56v2.56h-2.56zM138.05,680.00h2.56v2.56h-2.56zM107.94,682.51h7.58v2.56h-7.58zM123.00,705.09h2.56v2.56h-2.56zM112.96,707.60h2.56v2.56h-2.56zM112.96,712.62h2.56v2.56h-2.56zM133.03,720.14h2.56v2.56h-2.56zM160.63,722.65h2.56v2.56h-2.56zM188.23,730.18h2.56v2.56h-2.56zM158.12,740.21h2.56v2.56h-2.56zM163.14,745.23h2.56v2.56h-2.56zM150.60,747.74h2.56v2.56h-2.56zM155.61,747.74h2.56v2.56h-2.56zM163.14,747.74h2.56v2.56h-2.56zM160.63,752.76h2.56v2.56h-2.56z"/>
<path fill="#ffc8c8" d="M153.11,652.40h2.56v2.56h-2.56zM130.52,677.49h2.56v2.56h-2.56zM165.65,677.49h2.56v2.56h-2.56zM82.85,680.00h2.56v2.56h-2.56zM90.38,680.00h2.56v2.56h-2.56zM80.34,690.03h2.56v2.56h-2.56zM153.11,690.03h5.07v2.56h-5.07zM163.14,690.03h7.58v2.56h-7.58zM155.61,695.05h2.56v2.56h-2.56zM145.58,697.56h2.56v2.56h-2.56zM165.65,705.09h2.56v2.56h-2.56zM70.31,707.60h2.56v2.56h-2.56zM160.63,710.11h2.56v2.56h-2.56zM168.16,710.11h2.56v2.56h-2.56zM70.31,712.62h2.56v2.56h-2.56zM143.07,715.12h2.56v2.56h-2.56zM145.58,717.63h2.56v2.56h-2.56zM150.60,717.63h2.56v2.56h-2.56zM155.61,717.63h2.56v2.56h-2.56zM163.14,717.63h2.56v2.56h-2.56zM170.67,717.63h5.07v2.56h-5.07zM193.25,717.63h2.56v2.56h-2.56zM52.75,722.65h2.56v2.56h-2.56zM145.58,727.67h2.56v2.56h-2.56zM100.42,732.69h2.56v2.56h-2.56zM70.31,735.20h2.56v2.56h-2.56zM85.36,735.20h2.56v2.56h-2.56zM170.67,735.20h5.07v2.56h-5.07zM183.21,735.20h2.56v2.56h-2.56zM188.23,735.20h2.56v2.56h-2.56zM65.29,752.76h2.56v2.56h-2.56zM72.82,752.76h2.56v2.56h-2.56zM120.49,755.27h2.56v2.56h-2.56zM153.11,755.27h2.56v2.56h-2.56zM115.47,757.78h2.56v2.56h-2.56zM188.23,760.29h2.56v2.56h-2.56zM148.09,767.81h2.56v2.56h-2.56zM160.63,767.81h2.56v2.56h-2.56zM123.00,772.83h2.56v2.56h-2.56z"/>
<path fill="#d80000" d="M115.47,654.91h2.56v2.56h-2.56zM107.94,669.96h2.56v2.56h-2.56zM105.43,674.98h5.07v2.56h-5.07zM115.47,685.02h2.56v2.56h-2.56zM120.49,707.60h5.07v2.56h-5.07zM92.89,717.63h5.07v2.56h-5.07zM130.52,720.14h2.56v2.56h-2.56zM160.63,720.14h2.56v2.56h-2.56zM128.01,722.65h2.56v2.56h-2.56zM133.03,722.65h2.56v2.56h-2.56zM170.67,722.65h2.56v2.56h-2.56zM128.01,725.16h2.56v2.56h-2.56zM130.52,727.67h2.56v2.56h-2.56zM150.60,742.72h2.56v2.56h-2.56zM155.61,742.72h2.56v2.56h-2.56zM153.11,747.74h2.56v2.56h-2.56zM158.12,747.74h2.56v2.56h-2.56zM160.63,750.25h2.56v2.56h-2.56zM135.54,755.27h2.56v2.56h-2.56zM180.70,765.30h2.56v2.56h-2.56zM180.70,767.81h2.56v2.56h-2.56z"/>
<path fill="#ff6868" d="M158.12,659.93h2.56v2.56h-2.56zM107.94,664.94h2.56v2.56h-2.56zM125.51,667.45h2.56v2.56h-2.56zM135.54,667.45h2.56v2.56h-2.56zM153.11,677.49h2.56v2.56h-2.56zM158.12,677.49h2.56v2.56h-2.56zM145.58,680.00h2.56v2.56h-2.56zM155.61,680.00h2.56v2.56h-2.56zM130.52,682.51h2.56v2.56h-2.56zM95.40,685.02h2.56v2.56h-2.56zM115.47,692.54h5.07v2.56h-5.07zM125.51,692.54h2.56v2.56h-2.56zM102.92,697.56h2.56v2.56h-2.56zM173.18,697.56h2.56v2.56h-2.56zM82.85,700.07h2.56v2.56h-2.56zM87.87,700.07h2.56v2.56h-2.56zM123.00,700.07h2.56v2.56h-2.56zM165.65,700.07h2.56v2.56h-2.56zM70.31,705.09h2.56v2.56h-2.56zM133.03,712.62h2.56v2.56h-2.56zM77.84,715.12h2.56v2.56h-2.56zM62.78,717.63h2.56v2.56h-2.56zM87.87,720.14h2.56v2.56h-2.56zM153.11,720.14h2.56v2.56h-2.56zM180.70,720.14h2.56v2.56h-2.56zM92.89,722.65h2.56v2.56h-2.56zM102.92,727.67h2.56v2.56h-2.56zM155.61,727.67h2.56v2.56h-2.56zM195.76,727.67h2.56v2.56h-2.56zM115.47,732.69h2.56v2.56h-2.56zM97.91,735.20h2.56v2.56h-2.56zM85.36,740.21h2.56v2.56h-2.56zM117.98,740.21h2.56v2.56h-2.56zM125.51,740.21h2.56v2.56h-2.56zM57.76,742.72h2.56v2.56h-2.56zM107.94,742.72h2.56v2.56h-2.56zM120.49,742.72h2.56v2.56h-2.56zM62.78,745.23h2.56v2.56h-2.56zM112.96,745.23h2.56v2.56h-2.56zM55.25,747.74h2.56v2.56h-2.56zM170.67,747.74h2.56v2.56h-2.56zM112.96,752.76h2.56v2.56h-2.56zM125.51,755.27h2.56v2.56h-2.56zM173.18,755.27h2.56v2.56h-2.56zM145.58,767.81h2.56v2.56h-2.56z"/>
<path fill="#b0d0ff" d="M120.49,662.43h2.56v2.56h-2.56zM87.87,760.29h2.56v2.56h-2.56z"/>
<path fill="#a8d0ff" d="M123.00,662.43h2.56v2.56h-2.56zM95.40,710.11h2.56v2.56h-2.56zM97.91,712.62h2.56v2.56h-2.56z"/>
<path fill="#1878f0" d="M150.60,664.94h2.56v2.56h-2.56zM180.70,760.29h2.56v2.56h-2.56z"/>
<path fill="#0858e0" d="M160.63,669.96h5.07v2.56h-5.07z"/>
<path fill="#d00000" d="M110.45,672.47h2.56v2.56h-2.56zM123.00,674.98h2.56v2.56h-2.56zM115.47,715.12h2.56v2.56h-2.56zM158.12,742.72h5.07v2.56h-5.07zM150.60,745.23h2.56v2.56h-2.56zM160.63,747.74h2.56v2.56h-2.56zM163.14,750.25h2.56v2.56h-2.56z"/>
<path fill="#c80000" d="M107.94,677.49h5.07v2.56h-5.07zM153.11,742.72h2.56v2.56h-2.56zM155.61,745.23h2.56v2.56h-2.56z"/>
<path fill="#c00000" d="M110.45,680.00h2.56v2.56h-2.56zM130.52,722.65h2.56v2.56h-2.56zM130.52,725.16h2.56v2.56h-2.56zM158.12,745.23h2.56v2.56h-2.56z"/>
<path fill="#1078f0" d="M150.60,680.00h2.56v2.56h-2.56z"/>
<path fill="#3088f0" d="M153.11,680.00h2.56v2.56h-2.56zM52.75,747.74h2.56v2.56h-2.56zM105.43,757.78h2.56v2.56h-2.56z"/>
<path fill="#a00000" d="M150.60,682.51h2.56v2.56h-2.56zM135.54,750.25h2.56v2.56h-2.56zM170.67,770.32h2.56v2.56h-2.56zM178.19,770.32h5.07v2.56h-5.07z"/>
<path fill="#b8d8ff" d="M97.91,710.11h2.56v2.56h-2.56z"/>
<path fill="#d0e0ff" d="M82.85,712.62h2.56v2.56h-2.56z"/>
<path fill="#c8e0ff" d="M95.40,712.62h2.56v2.56h-2.56z"/>
<path fill="#a0c8ff" d="M60.27,720.14h2.56v2.56h-2.56zM150.60,757.78h2.56v2.56h-2.56z"/>
<path fill="#90c0ff" d="M188.23,720.14h2.56v2.56h-2.56zM153.11,757.78h2.56v2.56h-2.56z"/>
<path fill="#68a8ff" d="M163.14,740.21h2.56v2.56h-2.56z"/>
<path fill="#4898f0" d="M163.14,742.72h2.56v2.56h-2.56z"/>
<path fill="#0048d8" d="M107.94,745.23h2.56v2.56h-2.56zM138.05,745.23h2.56v2.56h-2.56z"/>
<path fill="#0850e0" d="M135.54,745.23h2.56v2.56h-2.56z"/>
<path fill="#a80000" d="M153.11,745.23h2.56v2.56h-2.56z"/>
<path fill="#b80000" d="M160.63,745.23h2.56v2.56h-2.56z"/>
<path fill="#b00000" d="M138.05,750.25h2.56v2.56h-2.56z"/>
<path fill="#b0d8ff" d="M82.85,760.29h2.56v2.56h-2.56z"/>
<path fill="#a0d0ff" d="M85.36,760.29h2.56v2.56h-2.56z"/>
<path fill="#2880f0" d="M105.43,760.29h2.56v2.56h-2.56z"/>
<path fill="#0868f0" d="M158.12,762.79h2.56v2.56h-2.56zM158.12,765.30h2.56v2.56h-2.56z"/>
<path fill="#0868e8" d="M160.63,762.79h2.56v2.56h-2.56z"/>
<path fill="#880000" d="M170.67,762.79h2.56v2.56h-2.56zM170.67,765.30h2.56v2.56h-2.56z"/>
<path fill="#900000" d="M173.18,762.79h5.07v2.56h-5.07zM173.18,765.30h2.56v2.56h-2.56zM168.16,770.32h2.56v2.56h-2.56z"/>
<path fill="#980000" d="M175.69,765.30h2.56v2.56h-2.56z"/>
<path fill="#0870f0" d="M125.51,767.81h2.56v2.56h-2.56z"/>
<path fill="#0030c0" d="M173.18,772.83h2.56v2.56h-2.56z"/>
<path fill="#0030b8" d="M175.69,772.83h2.56v2.56h-2.56z"/>
<path fill="#2888f0" d="M173.18,782.87h2.56v2.56h-2.56z"/>
<path fill="#2080f0" d="M175.69,782.87h2.56v2.56h-2.56z"/>
</g>
<clipPath id="insc"><rect x="40.2" y="624.8" width="55.6" height="55.0"/></clipPath>
<g clip-path="url(#insc)">
<rect x="40.2" y="624.8" width="55.6" height="55.6" fill="#2ec5f7"/>
<ellipse cx="89.1" cy="670.6" rx="4" ry="6.5" fill="#46d2fb"/>
<path d="M44.88,629.37Q54.70,640.66 62.56,648.52" stroke="#74188c" stroke-width="2.3" fill="none" stroke-linecap="round"/>
<path d="M58.63,623.47Q60.10,634.77 64.52,645.58" stroke="#74188c" stroke-width="2.3" fill="none" stroke-linecap="round"/>
<path d="M70.42,623.47Q69.93,631.82 68.94,640.17" stroke="#74188c" stroke-width="2.3" fill="none" stroke-linecap="round"/>
<path d="M86.62,626.42Q79.26,636.73 72.38,646.56" stroke="#74188c" stroke-width="2.3" fill="none" stroke-linecap="round"/>
<path d="M96.94,641.16Q86.13,644.59 75.33,649.01" stroke="#74188c" stroke-width="2.3" fill="none" stroke-linecap="round"/>
<path d="M96.94,652.26Q86.13,652.94 75.82,653.93" stroke="#74188c" stroke-width="2.3" fill="none" stroke-linecap="round"/>
<path d="M94.48,664.04Q84.17,661.29 74.35,657.85" stroke="#74188c" stroke-width="2.3" fill="none" stroke-linecap="round"/>
<path d="M86.62,679.96Q77.29,671.12 71.40,660.80" stroke="#74188c" stroke-width="2.3" fill="none" stroke-linecap="round"/>
<path d="M55.19,679.96Q64.52,673.08 66.68,664.24" stroke="#74188c" stroke-width="2.3" fill="none" stroke-linecap="round"/>
<path d="M39.47,669.35Q54.70,666.20 62.56,660.31" stroke="#74188c" stroke-width="2.3" fill="none" stroke-linecap="round"/>
<path d="M39.47,659.33Q51.75,659.82 60.10,656.87" stroke="#74188c" stroke-width="2.3" fill="none" stroke-linecap="round"/>
<path d="M39.47,645.77Q49.79,649.01 59.12,651.96" stroke="#74188c" stroke-width="2.3" fill="none" stroke-linecap="round"/>
<path d="M57.16,629.86 81.71,635.75 87.31,659.82 84.17,675.83 46.84,663.75 50.77,650.49Z" fill="#3f5db6"/>
<clipPath id="flk"><path d="M57.16,629.86 81.71,635.75 87.31,659.82 84.17,675.83 46.84,663.75 50.77,650.49Z"/></clipPath>
<g clip-path="url(#flk)">
<path d="M44.88,629.37Q54.70,640.66 62.56,648.52" stroke="#8a2f62" stroke-width="2.2" fill="none" stroke-linecap="round"/>
<path d="M58.63,623.47Q60.10,634.77 64.52,645.58" stroke="#8a2f62" stroke-width="2.2" fill="none" stroke-linecap="round"/>
<path d="M70.42,623.47Q69.93,631.82 68.94,640.17" stroke="#8a2f62" stroke-width="2.2" fill="none" stroke-linecap="round"/>
<path d="M86.62,626.42Q79.26,636.73 72.38,646.56" stroke="#8a2f62" stroke-width="2.2" fill="none" stroke-linecap="round"/>
<path d="M96.94,641.16Q86.13,644.59 75.33,649.01" stroke="#8a2f62" stroke-width="2.2" fill="none" stroke-linecap="round"/>
<path d="M96.94,652.26Q86.13,652.94 75.82,653.93" stroke="#8a2f62" stroke-width="2.2" fill="none" stroke-linecap="round"/>
<path d="M94.48,664.04Q84.17,661.29 74.35,657.85" stroke="#8a2f62" stroke-width="2.2" fill="none" stroke-linecap="round"/>
<path d="M86.62,679.96Q77.29,671.12 71.40,660.80" stroke="#8a2f62" stroke-width="2.2" fill="none" stroke-linecap="round"/>
<path d="M55.19,679.96Q64.52,673.08 66.68,664.24" stroke="#8a2f62" stroke-width="2.2" fill="none" stroke-linecap="round"/>
<path d="M39.47,669.35Q54.70,666.20 62.56,660.31" stroke="#8a2f62" stroke-width="2.2" fill="none" stroke-linecap="round"/>
<path d="M39.47,659.33Q51.75,659.82 60.10,656.87" stroke="#8a2f62" stroke-width="2.2" fill="none" stroke-linecap="round"/>
<path d="M39.47,645.77Q49.79,649.01 59.12,651.96" stroke="#8a2f62" stroke-width="2.2" fill="none" stroke-linecap="round"/>
</g>
<ellipse cx="44.9" cy="629.7" rx="4.6" ry="2.3" transform="rotate(48 44.9 629.7)" fill="#f8c514"/>
<ellipse cx="86.3" cy="627.1" rx="4.4" ry="2.2" transform="rotate(-42 86.3 627.1)" fill="#f8c514"/>
<ellipse cx="94.4" cy="664.2" rx="2.4" ry="2.6" transform="rotate(0 94.4 664.2)" fill="#f8c514"/>
<ellipse cx="54.7" cy="679.3" rx="2.6" ry="1.8" transform="rotate(-20 54.7 679.3)" fill="#f8c514"/>
<ellipse cx="85.6" cy="679.3" rx="2.2" ry="1.8" transform="rotate(20 85.6 679.3)" fill="#f8c514"/>
<circle cx="70.9" cy="679.5" r="3.2" fill="none" stroke="#8a1a8a" stroke-width="1.8"/>
</g>
<rect x="40.2" y="624.8" width="165.594" height="165.594" fill="none" stroke="#505050" stroke-width="1.4"/>
<rect x="45.5" y="778.2" width="24.2" height="2" fill="#000"/>
<defs><linearGradient id="cbg" x1="0" y1="0" x2="0" y2="1">
<stop offset="0.0000" stop-color="#6c0000"/>
<stop offset="0.0417" stop-color="#850000"/>
<stop offset="0.0833" stop-color="#9e0000"/>
<stop offset="0.1250" stop-color="#b30000"/>
<stop offset="0.1667" stop-color="#c90000"/>
<stop offset="0.2083" stop-color="#df0202"/>
<stop offset="0.2500" stop-color="#ef0606"/>
<stop offset="0.2917" stop-color="#fa0e0e"/>
<stop offset="0.3333" stop-color="#ff3434"/>
<stop offset="0.3750" stop-color="#ff6f6f"/>
<stop offset="0.4167" stop-color="#ffa6a6"/>
<stop offset="0.4583" stop-color="#ffdbdb"/>
<stop offset="0.5000" stop-color="#ffffff"/>
<stop offset="0.5417" stop-color="#dcecfd"/>
<stop offset="0.5833" stop-color="#add4fb"/>
<stop offset="0.6250" stop-color="#7ab7f9"/>
<stop offset="0.6667" stop-color="#4395f7"/>
<stop offset="0.7083" stop-color="#0c73f5"/>
<stop offset="0.7500" stop-color="#0a61e9"/>
<stop offset="0.7917" stop-color="#074fdd"/>
<stop offset="0.8333" stop-color="#053ecd"/>
<stop offset="0.8750" stop-color="#042eb9"/>
<stop offset="0.9167" stop-color="#021ea5"/>
<stop offset="0.9583" stop-color="#01138a"/>
<stop offset="1.0000" stop-color="#00086e"/>
</linearGradient></defs>
<rect x="214.4" y="624.8" width="12" height="165.594" fill="url(#cbg)"/>
<path d="M226.4,638.4h-2.4" stroke="#111" stroke-width="1"/>
<path d="M226.4,707.9h-2.4" stroke="#111" stroke-width="1"/>
<path d="M226.4,777.8h-2.4" stroke="#111" stroke-width="1"/>
<text x="231.2" y="642.3" font-size="11" text-anchor="start" font-weight="normal" font-style="normal" font-family='"Liberation Sans", sans-serif' fill="#1a1a1a" >2</text>
<text x="231.2" y="711.8" font-size="11" text-anchor="start" font-weight="normal" font-style="normal" font-family='"Liberation Sans", sans-serif' fill="#1a1a1a" >0</text>
<rect x="230.60" y="777.45" width="6.7" height="1.15" fill="#1a1a1a"/>
<text x="236.6" y="781.7" font-size="11" text-anchor="start" font-weight="normal" font-style="normal" font-family='"Liberation Sans", sans-serif' fill="#1a1a1a" >2</text>
<g transform="translate(201.0,801.9) scale(0.94) skewX(-13) translate(-0.55,0)"><path d="M6.25,-5.45 C5.6,-2.6 4.2,0.1 2.45,0.1 C1.0,0.1 0.3,-1.0 0.3,-2.55 C0.3,-4.3 1.35,-5.6 2.8,-5.6 C4.6,-5.6 5.1,-2.7 5.45,-1.0 C5.6,-0.25 5.9,0.1 6.5,-0.15" fill="none" stroke="#1a1a1a" stroke-width="0.66" stroke-linecap="round"/><path d="M0.62,-2.6 C0.62,-4.1 1.5,-5.25 2.7,-5.25" fill="none" stroke="#1a1a1a" stroke-width="0.95" stroke-linecap="round"/><path d="M0.62,-2.6 C0.62,-1.2 1.3,-0.25 2.4,-0.25" fill="none" stroke="#1a1a1a" stroke-width="1.0" stroke-linecap="round"/></g>
<text x="210.4" y="802.0" font-size="10.6" font-family='"Liberation Sans", sans-serif' fill="#1a1a1a">(a.u.)</text>
<defs>
<linearGradient id="gTopSlab" x1="0" y1="0" x2="0" y2="1"><stop offset="0" stop-color="#64889f"/><stop offset="0.5" stop-color="#5d84a3"/><stop offset="1" stop-color="#5a85a8"/></linearGradient>
<linearGradient id="gBandF" x1="0" y1="0" x2="0" y2="1"><stop offset="0" stop-color="#3fb6ea"/><stop offset="0.4" stop-color="#4bb6e4"/><stop offset="0.55" stop-color="#62b6dc"/><stop offset="1" stop-color="#66b8dc"/></linearGradient>
<linearGradient id="gBandR" x1="0" y1="0" x2="1" y2="0"><stop offset="0" stop-color="#3fa6d6"/><stop offset="1" stop-color="#4fb6e2"/></linearGradient>
<linearGradient id="gBlkF" x1="0" y1="0" x2="0" y2="1"><stop offset="0" stop-color="#f1f1f3"/><stop offset="0.52" stop-color="#e6e6ea"/><stop offset="0.54" stop-color="#d6d6dc"/><stop offset="1" stop-color="#dcdce1"/></linearGradient>
<linearGradient id="gBlkR" x1="0" y1="0" x2="1" y2="0"><stop offset="0" stop-color="#e6e6ea"/><stop offset="0.4" stop-color="#efeff2"/><stop offset="1" stop-color="#f4f4f6"/></linearGradient>
<linearGradient id="gBlkRlow" x1="0" y1="0" x2="1" y2="0"><stop offset="0" stop-color="#d6d6dc"/><stop offset="1" stop-color="#e6e6ea"/></linearGradient>
<linearGradient id="gBotTop" x1="0" y1="0" x2="1" y2="0"><stop offset="0" stop-color="#1f7cd6"/><stop offset="0.7" stop-color="#2792e4"/><stop offset="1" stop-color="#2ba6ec"/></linearGradient>
<linearGradient id="gBotTopL" x1="0" y1="0" x2="0" y2="1"><stop offset="0" stop-color="#1450a8"/><stop offset="1" stop-color="#1d7ad4"/></linearGradient>
<linearGradient id="gBotF" x1="0" y1="0" x2="0" y2="1"><stop offset="0" stop-color="#1872cc"/><stop offset="0.6" stop-color="#2594ea"/><stop offset="1" stop-color="#1668be"/></linearGradient>
<linearGradient id="gBotR" x1="0" y1="0" x2="0" y2="1"><stop offset="0" stop-color="#308fe0"/><stop offset="1" stop-color="#3a8ad6"/></linearGradient>
<linearGradient id="gSubF" x1="0" y1="0" x2="0" y2="1"><stop offset="0" stop-color="#d6cfd2"/><stop offset="1" stop-color="#c6bec2"/></linearGradient>
<linearGradient id="gSubR" x1="0" y1="0" x2="0" y2="1"><stop offset="0" stop-color="#c2babf"/><stop offset="1" stop-color="#b4acb1"/></linearGradient>
<linearGradient id="gYelF" x1="0" y1="0" x2="1" y2="0"><stop offset="0" stop-color="#f0da18"/><stop offset="0.6" stop-color="#ead012"/><stop offset="1" stop-color="#d6b60e"/></linearGradient>
<linearGradient id="gYelIn" x1="0" y1="0" x2="1" y2="0"><stop offset="0" stop-color="#b08e0a"/><stop offset="1" stop-color="#7c6206"/></linearGradient>
<linearGradient id="gBlkTopHalf" x1="0" y1="0" x2="0" y2="1"><stop offset="0" stop-color="#f6f6f8"/><stop offset="0.2" stop-color="#efeff1"/><stop offset="0.62" stop-color="#e4e4e8"/><stop offset="1" stop-color="#e0e0e4"/></linearGradient>
<linearGradient id="gBeam" x1="0" y1="0" x2="1" y2="0"><stop offset="0" stop-color="#1fc41f"/><stop offset="0.45" stop-color="#55ee55"/><stop offset="1" stop-color="#22c822"/></linearGradient>
<linearGradient id="gMagV" x1="0" y1="0" x2="1" y2="0"><stop offset="0" stop-color="#c818da"/><stop offset="0.45" stop-color="#f24af8"/><stop offset="1" stop-color="#cc18dc"/></linearGradient>
<linearGradient id="gMagH" x1="0" y1="0" x2="1" y2="0"><stop offset="0" stop-color="#c414d6"/><stop offset="0.42" stop-color="#ea2cf2"/><stop offset="1" stop-color="#c816da"/></linearGradient>
<linearGradient id="gBlkLow" x1="0" y1="0" x2="1" y2="0"><stop offset="0" stop-color="#cfcfd4"/><stop offset="0.5" stop-color="#d9d9de"/><stop offset="1" stop-color="#dedee3"/></linearGradient>
<linearGradient id="gCamSide" x1="0" y1="0" x2="1" y2="0"><stop offset="0" stop-color="#3a3a3a"/><stop offset="0.5" stop-color="#4c4c4c"/><stop offset="1" stop-color="#2a2a2a"/></linearGradient>
<linearGradient id="gFade" x1="0" y1="0" x2="0" y2="1"><stop offset="0" stop-color="#35b070" stop-opacity="0.45"/><stop offset="0.7" stop-color="#30a0b0" stop-opacity="0.25"/><stop offset="1" stop-color="#30a0c0" stop-opacity="0.1"/></linearGradient>
</defs>
<g transform="translate(0,0)">
<path d="M45.9,186.6 177.4,198.4 177.4,210.0 45.9,198.6Z" fill="url(#gSubF)" />
<path d="M177.4,198.4 214.0,168.5 214.0,178.5 177.4,210.0Z" fill="url(#gSubR)" />
<path d="M45.9,179.5 65.0,165.5 190.0,159.5 214.0,162.2 177.4,192.0Z" fill="url(#gBotTop)" />
<path d="M45.9,179.5 65.0,165.5 65.0,170.6 161.5,180.1 170.0,187.5 60.0,178.0Z" fill="url(#gBotTopL)" fill-opacity="0.9"/>
<path d="M161.5,180.1 189.5,159.6 193.0,159.9 165.0,183.5Z" fill="#1a5fc0" fill-opacity="0.6"/>
<path d="M45.9,179.5 177.4,192.0 177.4,198.6 45.9,186.8Z" fill="url(#gBotF)" />
<path d="M177.4,192.0 214.0,162.2 214.0,168.7 177.4,198.6Z" fill="url(#gBotR)" />
<path d="M45.9,179.7L177.4,192.2L214.0,162.4" stroke="#3f9ff0" stroke-width="0.6" fill="none" stroke-opacity="0.3"/>
<path d="M65.2,114.0 161.5,123.5 161.5,180.1 65.2,170.6Z" fill="url(#gBlkTopHalf)" />
<path d="M65.2,150.1 161.5,155.2 161.5,180.1 65.2,170.6Z" fill="url(#gBlkLow)" />
<path d="M161.5,123.5 190.2,99.5 190.2,159.4 161.5,180.3Z" fill="url(#gBlkR)" />
<path d="M161.5,155.2 190.2,131.5 190.2,159.4 161.5,180.1Z" fill="url(#gBlkRlow)" fill-opacity="0.4"/>
<path d="M161.5,123.5V180.3" stroke="#f7f7f9" stroke-width="0.8" stroke-opacity="0.8"/>
<path d="M51.0,115.8 56.6,110.4 80.5,111.6 79.4,116.6Z" fill="#f6d820" />
<path d="M51.0,115.8 79.4,116.6 73.8,122.2 61.2,121.9 61.2,167.0 57.0,168.4 51.0,168.2Z" fill="url(#gYelF)" />
<path d="M61.2,121.9 65.2,122.3 65.2,165.6 61.2,167.0Z" fill="url(#gYelIn)" />
<path d="M61.2,121.9 73.8,122.2 72.5,123.3 65.2,123.2Z" fill="#8e7006" />
<g opacity="1.0">
<rect x="81.45" y="136.40" width="3.70" height="10.50" fill="url(#gMagV)"/>
<path d="M83.30,127.10L78.10,137.40Q83.30,139.60 88.50,137.40Z" fill="url(#gMagH)"/>
</g>
<g opacity="0.95">
<rect x="81.45" y="151.00" width="3.70" height="11.40" fill="url(#gMagV)"/>
<path d="M83.30,170.30L78.10,161.40Q83.30,159.20 88.50,161.40Z" fill="url(#gMagH)"/>
</g>
<g opacity="1.0">
<rect x="109.85" y="139.10" width="3.70" height="10.80" fill="url(#gMagV)"/>
<path d="M111.70,129.80L106.50,140.10Q111.70,142.30 116.90,140.10Z" fill="url(#gMagH)"/>
</g>
<g opacity="0.95">
<rect x="109.85" y="153.30" width="3.70" height="11.60" fill="url(#gMagV)"/>
<path d="M111.70,172.80L106.50,163.90Q111.70,161.70 116.90,163.90Z" fill="url(#gMagH)"/>
</g>
<g opacity="1.0">
<rect x="138.35" y="141.30" width="3.70" height="10.80" fill="url(#gMagV)"/>
<path d="M140.20,132.00L135.00,142.30Q140.20,144.50 145.40,142.30Z" fill="url(#gMagH)"/>
</g>
<g opacity="0.95">
<rect x="138.35" y="156.00" width="3.70" height="11.20" fill="url(#gMagV)"/>
<path d="M140.20,175.10L135.00,166.20Q140.20,164.00 145.40,166.20Z" fill="url(#gMagH)"/>
</g>
<path d="M65.0,107.8 161.0,115.8 161.3,124.2 65.0,115.9Z" fill="url(#gBandF)" fill-opacity="0.88"/>
<path d="M161.0,115.8 189.8,92.3 190.2,99.9 161.3,124.2Z" fill="url(#gBandR)" fill-opacity="0.92"/>
<path d="M95.6,83.0 189.8,92.3 161.0,115.8 65.0,107.8Z" fill="url(#gTopSlab)" />
<path d="M80.5,95.8 185.2,96.0 161.0,115.8 65.0,107.8Z" fill="#86a9c4" fill-opacity="0.38"/>
<path d="M80.5,95.8L185.2,96.0" stroke="#8fb0c8" stroke-width="0.6" stroke-opacity="0.7" fill="none"/>
<path d="M65.0,107.8L95.6,83.0L189.8,92.3" stroke="#94979c" stroke-width="1.3" fill="none"/>
<path d="M65.0,108.0L161,116L189.8,92.5" stroke="#86cdee" stroke-width="0.7" fill="none" stroke-opacity="0.9"/>
<path d="M108.4,15.6 112.0,15.4 126.3,100.3 122.7,100.3Z" fill="url(#gBeam)" />
<path d="M142.7,27.6 146.3,28.2 133.0,100.3 129.4,100.3Z" fill="url(#gBeam)" />
<path d="M122.9,100.3 126.1,100.3 127.6,118.0 125.6,118.0Z" fill="url(#gFade)" />
<path d="M129.6,100.3 132.8,100.3 127.6,118.0 125.6,118.0Z" fill="url(#gFade)" />
<path d="M96.1,24.8L125.7,22.6" stroke="#2fd02f" stroke-width="1" fill="none"/>
<path d="M93.1,25.0L97.4,26.4L97.2,23.0Z" fill="#2fd02f"/>
<path d="M128.7,22.4L124.6,24.4L124.4,21.0Z" fill="#2fd02f"/>
<path d="M126.2,36.1L157.2,44.2" stroke="#333" stroke-width="0.6" stroke-dasharray="1.6 1" fill="none"/>
<path d="M131.7,42.5L153.1,39.1" stroke="#2fd02f" stroke-width="1" fill="none"/>
<path d="M128.7,43.0L133.1,44.0L132.6,40.7Z" fill="#2fd02f"/>
<path d="M156.1,38.6L152.2,40.9L151.7,37.6Z" fill="#2fd02f"/>
<g transform="translate(0,0) rotate(8 147 16)">
<path d="M140.0,19.5L140.0,26.0A6.6,2.6 0 0 0 153.2,26.0L153.2,19.5Z" fill="#2c2c2c"/>
<path d="M134.8,9.8L134.8,19.2A12.2,4.6 0 0 0 159.2,19.2L159.2,9.8Z" fill="url(#gCamSide)"/>
<ellipse cx="147" cy="9.8" rx="12.2" ry="4.6" fill="#4e4e4e"/>
</g>
</g>
<g transform="translate(298.9,0)">
<path d="M45.9,186.6 177.4,198.4 177.4,210.0 45.9,198.6Z" fill="url(#gSubF)" />
<path d="M177.4,198.4 214.0,168.5 214.0,178.5 177.4,210.0Z" fill="url(#gSubR)" />
<path d="M45.9,179.5 65.0,165.5 190.0,159.5 214.0,162.2 177.4,192.0Z" fill="url(#gBotTop)" />
<path d="M45.9,179.5 65.0,165.5 65.0,170.6 161.5,180.1 170.0,187.5 60.0,178.0Z" fill="url(#gBotTopL)" fill-opacity="0.9"/>
<path d="M161.5,180.1 189.5,159.6 193.0,159.9 165.0,183.5Z" fill="#1a5fc0" fill-opacity="0.6"/>
<path d="M45.9,179.5 177.4,192.0 177.4,198.6 45.9,186.8Z" fill="url(#gBotF)" />
<path d="M177.4,192.0 214.0,162.2 214.0,168.7 177.4,198.6Z" fill="url(#gBotR)" />
<path d="M45.9,179.7L177.4,192.2L214.0,162.4" stroke="#3f9ff0" stroke-width="0.6" fill="none" stroke-opacity="0.3"/>
<path d="M65.2,114.0 161.5,123.5 161.5,180.1 65.2,170.6Z" fill="url(#gBlkTopHalf)" />
<path d="M65.2,150.1 161.5,155.2 161.5,180.1 65.2,170.6Z" fill="url(#gBlkLow)" />
<path d="M161.5,123.5 190.2,99.5 190.2,159.4 161.5,180.3Z" fill="url(#gBlkR)" />
<path d="M161.5,155.2 190.2,131.5 190.2,159.4 161.5,180.1Z" fill="url(#gBlkRlow)" fill-opacity="0.4"/>
<path d="M161.5,123.5V180.3" stroke="#f7f7f9" stroke-width="0.8" stroke-opacity="0.8"/>
<path d="M51.0,115.8 56.6,110.4 80.5,111.6 79.4,116.6Z" fill="#f6d820" />
<path d="M51.0,115.8 79.4,116.6 73.8,122.2 61.2,121.9 61.2,167.0 57.0,168.4 51.0,168.2Z" fill="url(#gYelF)" />
<path d="M61.2,121.9 65.2,122.3 65.2,165.6 61.2,167.0Z" fill="url(#gYelIn)" />
<path d="M61.2,121.9 73.8,122.2 72.5,123.3 65.2,123.2Z" fill="#8e7006" />
<g opacity="1.0">
<rect x="81.65" y="126.10" width="3.70" height="11.00" fill="url(#gMagV)"/>
<path d="M83.50,145.70L78.30,136.10Q83.50,133.90 88.70,136.10Z" fill="url(#gMagH)"/>
</g>
<g opacity="0.95">
<rect x="81.65" y="158.20" width="3.70" height="11.30" fill="url(#gMagV)"/>
<path d="M83.50,149.20L78.30,159.20Q83.50,161.40 88.70,159.20Z" fill="url(#gMagH)"/>
</g>
<g opacity="1.0">
<rect x="110.15" y="128.60" width="3.70" height="11.00" fill="url(#gMagV)"/>
<path d="M112.00,148.20L106.80,138.60Q112.00,136.40 117.20,138.60Z" fill="url(#gMagH)"/>
</g>
<g opacity="0.95">
<rect x="110.15" y="161.20" width="3.70" height="10.60" fill="url(#gMagV)"/>
<path d="M112.00,152.20L106.80,162.20Q112.00,164.40 117.20,162.20Z" fill="url(#gMagH)"/>
</g>
<g opacity="1.0">
<rect x="138.25" y="131.00" width="3.70" height="11.10" fill="url(#gMagV)"/>
<path d="M140.10,150.70L134.90,141.10Q140.10,138.90 145.30,141.10Z" fill="url(#gMagH)"/>
</g>
<g opacity="0.95">
<rect x="138.25" y="163.80" width="3.70" height="10.90" fill="url(#gMagV)"/>
<path d="M140.10,154.80L134.90,164.80Q140.10,167.00 145.30,164.80Z" fill="url(#gMagH)"/>
</g>
<path d="M65.0,107.8 161.0,115.8 161.3,124.2 65.0,115.9Z" fill="url(#gBandF)" fill-opacity="0.88"/>
<path d="M161.0,115.8 189.8,92.3 190.2,99.9 161.3,124.2Z" fill="url(#gBandR)" fill-opacity="0.92"/>
<path d="M95.6,83.0 189.8,92.3 161.0,115.8 65.0,107.8Z" fill="url(#gTopSlab)" />
<path d="M80.5,95.8 185.2,96.0 161.0,115.8 65.0,107.8Z" fill="#86a9c4" fill-opacity="0.38"/>
<path d="M80.5,95.8L185.2,96.0" stroke="#8fb0c8" stroke-width="0.6" stroke-opacity="0.7" fill="none"/>
<path d="M65.0,107.8L95.6,83.0L189.8,92.3" stroke="#94979c" stroke-width="1.3" fill="none"/>
<path d="M65.0,108.0L161,116L189.8,92.5" stroke="#86cdee" stroke-width="0.7" fill="none" stroke-opacity="0.9"/>
<path d="M107.0,15.6 110.6,15.4 124.9,100.3 121.3,100.3Z" fill="url(#gBeam)" />
<path d="M142.7,27.6 146.3,28.2 133.0,100.3 129.4,100.3Z" fill="url(#gBeam)" />
<path d="M121.5,100.3 124.7,100.3 127.6,118.0 125.6,118.0Z" fill="url(#gFade)" />
<path d="M129.6,100.3 132.8,100.3 127.6,118.0 125.6,118.0Z" fill="url(#gFade)" />
<path d="M95.0,24.8L124.6,22.6" stroke="#2fd02f" stroke-width="1" fill="none"/>
<path d="M92.0,25.0L96.3,26.4L96.0,23.0Z" fill="#2fd02f"/>
<path d="M127.6,22.4L123.5,24.4L123.3,21.0Z" fill="#2fd02f"/>
<path d="M128.2,36.1L155.5,43.7" stroke="#444" stroke-width="0.6" stroke-dasharray="1.6 1" fill="none"/>
<path d="M138.0,36.3L146.7,44.7" stroke="#2fd02f" stroke-width="1" fill="none"/>
<path d="M135.9,34.2L137.7,38.4L140.1,35.9Z" fill="#2fd02f"/>
<path d="M148.8,46.8L144.6,45.1L147.0,42.6Z" fill="#2fd02f"/>
<g transform="translate(-0.8,0) rotate(8 147 16)">
<path d="M140.0,19.5L140.0,26.0A6.6,2.6 0 0 0 153.2,26.0L153.2,19.5Z" fill="#2c2c2c"/>
<path d="M134.8,9.8L134.8,19.2A12.2,4.6 0 0 0 159.2,19.2L159.2,9.8Z" fill="url(#gCamSide)"/>
<ellipse cx="147" cy="9.8" rx="12.2" ry="4.6" fill="#4e4e4e"/>
</g>
</g>
<path d="M154.5,22.3C166,34 181,46.5 198.3,50.8" stroke="#111" stroke-width="1.2" fill="none"/>
<circle cx="174.6" cy="100.3" r="1.45" fill="#111"/>
<path d="M174.6,100.3H229.5V135.3M229.5,148.1V187.5H195.5" stroke="#111" stroke-width="1.05" fill="none"/>
<circle cx="195.5" cy="187.6" r="1.45" fill="#111"/>
<circle cx="229.5" cy="141.7" r="6.3" fill="#fff" stroke="#111" stroke-width="1.05"/>
<path d="M225.5,142.2Q227.5,138.2 229.5,141.7T233.5,141.2" stroke="#111" stroke-width="1.05" fill="none"/>
<path d="M243.4,80.2C243,105 240,125 233.5,136.8" stroke="#111" stroke-width="1.05" fill="none"/>
<circle cx="55.1" cy="147.8" r="1.45" fill="#111"/>
<path d="M55.1,147.8H42.4V166.3M35.2,166.3H48.9M37.5,168.9H46.9M39.5,171.3H44.7" stroke="#111" stroke-width="1.05" fill="none"/>
<text x="235.6" y="152.7" font-size="11" font-style="italic" font-family='"Liberation Sans", sans-serif' fill="#1a1a1a">E<tspan font-size="7.8" font-weight="bold" dy="2.4">z</tspan></text>
<rect x="198.3" y="46.8" width="70.1" height="33.3" fill="#fff" stroke="#111" stroke-width="1"/>
<g transform="translate(202.60000000000002,65.0) scale(1.0) skewX(-13) translate(-0.55,0)"><path d="M6.25,-5.45 C5.6,-2.6 4.2,0.1 2.45,0.1 C1.0,0.1 0.3,-1.0 0.3,-2.55 C0.3,-4.3 1.35,-5.6 2.8,-5.6 C4.6,-5.6 5.1,-2.7 5.45,-1.0 C5.6,-0.25 5.9,0.1 6.5,-0.15" fill="none" stroke="#1a1a1a" stroke-width="0.66" stroke-linecap="round"/><path d="M0.62,-2.6 C0.62,-4.1 1.5,-5.25 2.7,-5.25" fill="none" stroke="#1a1a1a" stroke-width="0.95" stroke-linecap="round"/><path d="M0.62,-2.6 C0.62,-1.2 1.3,-0.25 2.4,-0.25" fill="none" stroke="#1a1a1a" stroke-width="1.0" stroke-linecap="round"/></g>
<path d="M212.5,61.2h5.5M212.5,63.5h5.5" stroke="#1a1a1a" stroke-width="1.15"/>
<text x="220.9" y="65.1" font-size="12" font-style="italic" class="gk" font-family='"Liberation Serif", serif' fill="#1a1a1a">γ</text>
<path d="M229.60000000000002,61.85H262.8" stroke="#444" stroke-width="1.3"/>
<text x="246.20000000000002" y="58.6" font-size="11" text-anchor="middle" font-family='"Liberation Sans", sans-serif' fill="#1a1a1a">dKerr</text>
<text x="244.60000000000002" y="72.6" font-size="11" text-anchor="middle" font-family='"Liberation Sans", sans-serif' fill="#1a1a1a">d<tspan font-style="italic">E</tspan><tspan font-size="7.2" font-style="italic" font-weight="bold" dy="2.4">z</tspan></text>
<rect x="29.7" y="31.4" width="42.9" height="16.2" fill="#fff" stroke="#111" stroke-width="1"/>
<text x="51.2" y="44.0" font-size="11" text-anchor="middle" font-family='"Liberation Sans", sans-serif' fill="#1a1a1a">AFM I</text>
<path d="M453.4,22.3C464.9,34 477.4,46.5 494.7,50.8" stroke="#111" stroke-width="1.2" fill="none"/>
<circle cx="473.5" cy="100.3" r="1.45" fill="#111"/>
<path d="M473.5,100.3H526.8V135.3M526.8,148.1V187.5H494.4" stroke="#111" stroke-width="1.05" fill="none"/>
<circle cx="494.4" cy="187.6" r="1.45" fill="#111"/>
<circle cx="526.8" cy="141.7" r="6.3" fill="#fff" stroke="#111" stroke-width="1.05"/>
<path d="M522.8,142.2Q524.8,138.2 526.8,141.7T530.8,141.2" stroke="#111" stroke-width="1.05" fill="none"/>
<path d="M539.8,80.2C539.4,105 537.3,125 530.8,136.8" stroke="#111" stroke-width="1.05" fill="none"/>
<circle cx="354.0" cy="147.8" r="1.45" fill="#111"/>
<path d="M354.0,147.8H341.29999999999995V166.3M334.09999999999997,166.3H347.79999999999995M336.4,168.9H345.79999999999995M338.4,171.3H343.59999999999997" stroke="#111" stroke-width="1.05" fill="none"/>
<text x="534.5" y="152.7" font-size="11" font-style="italic" font-family='"Liberation Sans", sans-serif' fill="#1a1a1a">E<tspan font-size="7.8" font-weight="bold" dy="2.4">z</tspan></text>
<rect x="494.7" y="46.8" width="70.1" height="33.3" fill="#fff" stroke="#111" stroke-width="1"/>
<g transform="translate(499.0,65.0) scale(1.0) skewX(-13) translate(-0.55,0)"><path d="M6.25,-5.45 C5.6,-2.6 4.2,0.1 2.45,0.1 C1.0,0.1 0.3,-1.0 0.3,-2.55 C0.3,-4.3 1.35,-5.6 2.8,-5.6 C4.6,-5.6 5.1,-2.7 5.45,-1.0 C5.6,-0.25 5.9,0.1 6.5,-0.15" fill="none" stroke="#1a1a1a" stroke-width="0.66" stroke-linecap="round"/><path d="M0.62,-2.6 C0.62,-4.1 1.5,-5.25 2.7,-5.25" fill="none" stroke="#1a1a1a" stroke-width="0.95" stroke-linecap="round"/><path d="M0.62,-2.6 C0.62,-1.2 1.3,-0.25 2.4,-0.25" fill="none" stroke="#1a1a1a" stroke-width="1.0" stroke-linecap="round"/></g>
<path d="M508.9,61.2h5.5M508.9,63.5h5.5" stroke="#1a1a1a" stroke-width="1.15"/>
<text x="517.3" y="65.1" font-size="12" font-style="italic" class="gk" font-family='"Liberation Serif", serif' fill="#1a1a1a">γ</text>
<path d="M526.0,61.85H559.2" stroke="#444" stroke-width="1.3"/>
<text x="542.6" y="58.6" font-size="11" text-anchor="middle" font-family='"Liberation Sans", sans-serif' fill="#1a1a1a">dKerr</text>
<text x="541.0" y="72.6" font-size="11" text-anchor="middle" font-family='"Liberation Sans", sans-serif' fill="#1a1a1a">d<tspan font-style="italic">E</tspan><tspan font-size="7.2" font-style="italic" font-weight="bold" dy="2.4">z</tspan></text>
<rect x="323.9" y="31.4" width="42.9" height="16.2" fill="#fff" stroke="#111" stroke-width="1"/>
<text x="345.4" y="44.0" font-size="11" text-anchor="middle" font-family='"Liberation Sans", sans-serif' fill="#1a1a1a">AFM II</text>
<text x="9.0" y="19.0" font-size="13" text-anchor="start" font-weight="bold" font-style="normal" font-family='"Liberation Sans", sans-serif' fill="#000" class="pl">a</text>
<text x="294.3" y="19.0" font-size="13" text-anchor="start" font-weight="bold" font-style="normal" font-family='"Liberation Sans", sans-serif' fill="#000" class="pl">d</text>
</svg>
</body></html>
